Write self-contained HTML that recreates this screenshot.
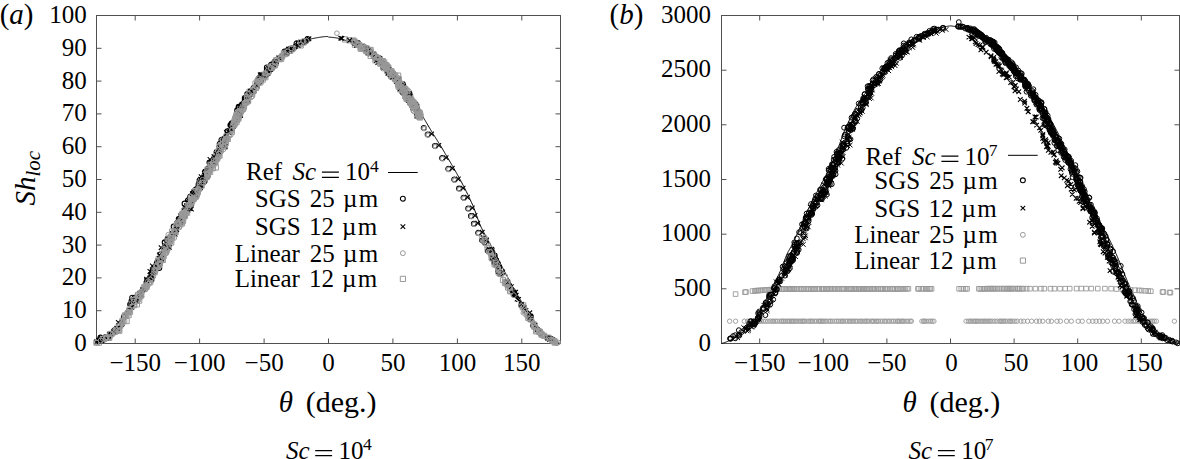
<!DOCTYPE html>
<html><head><meta charset="utf-8"><style>
html,body{margin:0;padding:0;background:#fff;width:1180px;height:459px;overflow:hidden}
svg{display:block}
text{font-family:'Liberation Serif', serif;font-size:25px;fill:#000}
.it{font-style:italic}
</style></head><body>
<svg width="1180" height="459" viewBox="0 0 1180 459">
<path d="M135.2 343.5V338.5M135.2 15.5V20.5M199.6 343.5V338.5M199.6 15.5V20.5M264.1 343.5V338.5M264.1 15.5V20.5M328.5 343.5V338.5M328.5 15.5V20.5M392.9 343.5V338.5M392.9 15.5V20.5M457.4 343.5V338.5M457.4 15.5V20.5M521.8 343.5V338.5M521.8 15.5V20.5M96.5 343.5H101.5M560.5 343.5H555.5M96.5 310.7H101.5M560.5 310.7H555.5M96.5 277.9H101.5M560.5 277.9H555.5M96.5 245.1H101.5M560.5 245.1H555.5M96.5 212.3H101.5M560.5 212.3H555.5M96.5 179.5H101.5M560.5 179.5H555.5M96.5 146.7H101.5M560.5 146.7H555.5M96.5 113.9H101.5M560.5 113.9H555.5M96.5 81.1H101.5M560.5 81.1H555.5M96.5 48.3H101.5M560.5 48.3H555.5M96.5 15.5H101.5M560.5 15.5H555.5" stroke="#505050" stroke-width="1" fill="none"/>
<rect x="96.5" y="15.5" width="464.0" height="328.0" stroke="#505050" stroke-width="1" fill="none"/>
<text x="86.8" y="350.9" text-anchor="end">0</text>
<text x="86.8" y="318.1" text-anchor="end">10</text>
<text x="86.8" y="285.3" text-anchor="end">20</text>
<text x="86.8" y="252.5" text-anchor="end">30</text>
<text x="86.8" y="219.7" text-anchor="end">40</text>
<text x="86.8" y="186.9" text-anchor="end">50</text>
<text x="86.8" y="154.1" text-anchor="end">60</text>
<text x="86.8" y="121.3" text-anchor="end">70</text>
<text x="86.8" y="88.5" text-anchor="end">80</text>
<text x="86.8" y="55.7" text-anchor="end">90</text>
<text x="86.8" y="22.9" text-anchor="end">100</text>
<text x="135.2" y="370.6" text-anchor="middle">−150</text>
<text x="199.6" y="370.6" text-anchor="middle">−100</text>
<text x="264.1" y="370.6" text-anchor="middle">−50</text>
<text x="328.5" y="370.6" text-anchor="middle">0</text>
<text x="392.9" y="370.6" text-anchor="middle">50</text>
<text x="457.4" y="370.6" text-anchor="middle">100</text>
<text x="521.8" y="370.6" text-anchor="middle">150</text>
<polyline points="96.50,343.50 97.14,343.10 97.79,342.71 98.43,342.31 99.08,341.91 99.72,341.52 100.37,341.11 101.01,340.71 101.66,340.32 102.30,339.93 102.94,339.56 103.59,339.19 104.23,338.83 104.88,338.48 105.52,338.13 106.17,337.77 106.81,337.42 107.46,337.06 108.10,336.70 108.74,336.33 109.39,335.94 110.03,335.55 110.68,335.14 111.32,334.72 111.97,334.28 112.61,333.82 113.26,333.33 113.90,332.83 114.54,332.29 115.19,331.73 115.83,331.13 116.48,330.45 117.12,329.69 117.77,328.87 118.41,327.98 119.06,327.04 119.70,326.05 120.34,325.01 120.99,323.94 121.63,322.84 122.28,321.72 122.92,320.58 123.57,319.42 124.21,318.27 124.86,317.12 125.50,315.98 126.14,314.85 126.79,313.75 127.43,312.67 128.08,311.63 128.72,310.63 129.37,309.65 130.01,308.67 130.66,307.71 131.30,306.75 131.94,305.80 132.59,304.85 133.23,303.91 133.88,302.98 134.52,302.05 135.17,301.12 135.81,300.19 136.46,299.26 137.10,298.34 137.74,297.41 138.39,296.49 139.03,295.56 139.68,294.63 140.32,293.69 140.97,292.75 141.61,291.81 142.26,290.86 142.90,289.90 143.54,288.93 144.19,287.96 144.83,286.97 145.48,285.98 146.12,284.97 146.77,283.96 147.41,282.93 148.06,281.89 148.70,280.83 149.34,279.76 149.99,278.67 150.63,277.56 151.28,276.43 151.92,275.28 152.57,274.10 153.21,272.90 153.86,271.69 154.50,270.45 155.14,269.21 155.79,267.94 156.43,266.66 157.08,265.37 157.72,264.07 158.37,262.77 159.01,261.45 159.66,260.13 160.30,258.80 160.94,257.47 161.59,256.14 162.23,254.81 162.88,253.48 163.52,252.16 164.17,250.83 164.81,249.52 165.46,248.21 166.10,246.91 166.74,245.62 167.39,244.34 168.03,243.07 168.68,241.82 169.32,240.58 169.97,239.37 170.61,238.15 171.26,236.94 171.90,235.73 172.54,234.53 173.19,233.33 173.83,232.13 174.48,230.93 175.12,229.74 175.77,228.55 176.41,227.36 177.06,226.17 177.70,224.99 178.34,223.81 178.99,222.63 179.63,221.45 180.28,220.28 180.92,219.11 181.57,217.94 182.21,216.77 182.86,215.61 183.50,214.45 184.14,213.29 184.79,212.13 185.43,210.97 186.08,209.82 186.72,208.66 187.37,207.51 188.01,206.37 188.66,205.22 189.30,204.07 189.94,202.93 190.59,201.79 191.23,200.65 191.88,199.51 192.52,198.38 193.17,197.24 193.81,196.11 194.46,194.98 195.10,193.85 195.74,192.72 196.39,191.59 197.03,190.46 197.68,189.34 198.32,188.21 198.97,187.09 199.61,185.97 200.26,184.85 200.90,183.73 201.54,182.61 202.19,181.50 202.83,180.38 203.48,179.27 204.12,178.17 204.77,177.08 205.41,176.00 206.06,174.92 206.70,173.86 207.34,172.79 207.99,171.73 208.63,170.67 209.28,169.60 209.92,168.53 210.57,167.46 211.21,166.38 211.86,165.30 212.50,164.20 213.14,163.09 213.79,161.97 214.43,160.84 215.08,159.69 215.72,158.52 216.37,157.33 217.01,156.14 217.66,154.93 218.30,153.71 218.94,152.48 219.59,151.24 220.23,149.99 220.88,148.74 221.52,147.49 222.17,146.23 222.81,144.96 223.46,143.70 224.10,142.44 224.74,141.18 225.39,139.93 226.03,138.67 226.68,137.43 227.32,136.19 227.97,134.96 228.61,133.74 229.26,132.52 229.90,131.30 230.54,130.07 231.19,128.84 231.83,127.60 232.48,126.35 233.12,125.11 233.77,123.86 234.41,122.61 235.06,121.35 235.70,120.10 236.34,118.85 236.99,117.61 237.63,116.37 238.28,115.13 238.92,113.90 239.57,112.68 240.21,111.47 240.86,110.27 241.50,109.07 242.14,107.89 242.79,106.73 243.43,105.57 244.08,104.43 244.72,103.31 245.37,102.20 246.01,101.12 246.66,100.05 247.30,99.00 247.94,97.98 248.59,96.97 249.23,95.98 249.88,95.00 250.52,94.02 251.17,93.05 251.81,92.09 252.46,91.14 253.10,90.19 253.74,89.26 254.39,88.33 255.03,87.41 255.68,86.49 256.32,85.59 256.97,84.69 257.61,83.80 258.26,82.92 258.90,82.05 259.54,81.19 260.19,80.34 260.83,79.50 261.48,78.66 262.12,77.83 262.77,77.02 263.41,76.21 264.06,75.41 264.70,74.63 265.34,73.85 265.99,73.08 266.63,72.32 267.28,71.57 267.92,70.83 268.57,70.10 269.21,69.39 269.86,68.68 270.50,67.98 271.14,67.29 271.79,66.60 272.43,65.92 273.08,65.24 273.72,64.56 274.37,63.89 275.01,63.23 275.66,62.57 276.30,61.92 276.94,61.27 277.59,60.63 278.23,60.00 278.88,59.38 279.52,58.76 280.17,58.15 280.81,57.55 281.46,56.96 282.10,56.38 282.74,55.81 283.39,55.25 284.03,54.70 284.68,54.16 285.32,53.63 285.97,53.11 286.61,52.61 287.26,52.12 287.90,51.64 288.54,51.17 289.19,50.72 289.83,50.28 290.48,49.86 291.12,49.44 291.77,49.02 292.41,48.60 293.06,48.18 293.70,47.76 294.34,47.35 294.99,46.94 295.63,46.53 296.28,46.12 296.92,45.72 297.57,45.33 298.21,44.94 298.86,44.55 299.50,44.17 300.14,43.80 300.79,43.44 301.43,43.08 302.08,42.73 302.72,42.39 303.37,42.05 304.01,41.73 304.66,41.42 305.30,41.12 305.94,40.83 306.59,40.55 307.23,40.28 307.88,40.02 308.52,39.78 309.17,39.55 309.81,39.34 310.46,39.14 311.10,38.95 311.74,38.78 312.39,38.62 313.03,38.49 313.68,38.36 314.32,38.23 314.97,38.11 315.61,37.99 316.26,37.86 316.90,37.75 317.54,37.63 318.19,37.52 318.83,37.41 319.48,37.30 320.12,37.20 320.77,37.11 321.41,37.02 322.06,36.93 322.70,36.85 323.34,36.78 323.99,36.72 324.63,36.66 325.28,36.61 325.92,36.57 326.57,36.54 327.21,36.51 327.86,36.50 328.50,37.15 329.14,37.17 329.79,37.20 330.43,37.25 331.08,37.30 331.72,37.35 332.37,37.42 333.01,37.49 333.66,37.56 334.30,37.64 334.94,37.72 335.59,37.80 336.23,37.90 336.88,38.00 337.52,38.12 338.17,38.25 338.81,38.39 339.46,38.54 340.10,38.71 340.74,38.88 341.39,39.05 342.03,39.24 342.68,39.43 343.32,39.63 343.97,39.83 344.61,40.03 345.26,40.24 345.90,40.45 346.54,40.66 347.19,40.87 347.83,41.08 348.48,41.30 349.12,41.51 349.77,41.73 350.41,41.96 351.06,42.19 351.70,42.42 352.34,42.66 352.99,42.90 353.63,43.15 354.28,43.40 354.92,43.66 355.57,43.92 356.21,44.19 356.86,44.46 357.50,44.74 358.14,45.02 358.79,45.31 359.43,45.60 360.08,45.90 360.72,46.21 361.37,46.52 362.01,46.84 362.66,47.16 363.30,47.49 363.94,47.83 364.59,48.17 365.23,48.52 365.88,48.88 366.52,49.24 367.17,49.61 367.81,49.99 368.46,50.39 369.10,50.80 369.74,51.23 370.39,51.67 371.03,52.13 371.68,52.60 372.32,53.08 372.97,53.58 373.61,54.08 374.26,54.60 374.90,55.13 375.54,55.67 376.19,56.22 376.83,56.78 377.48,57.35 378.12,57.93 378.77,58.51 379.41,59.11 380.06,59.71 380.70,60.31 381.34,60.93 381.99,61.55 382.63,62.17 383.28,62.80 383.92,63.44 384.57,64.08 385.21,64.72 385.86,65.36 386.50,66.01 387.14,66.67 387.79,67.34 388.43,68.02 389.08,68.71 389.72,69.41 390.37,70.13 391.01,70.85 391.66,71.59 392.30,72.33 392.94,73.09 393.59,73.86 394.23,74.63 394.88,75.42 395.52,76.21 396.17,77.01 396.81,77.82 397.46,78.64 398.10,79.47 398.74,80.30 399.39,81.14 400.03,81.99 400.68,82.84 401.32,83.70 401.97,84.57 402.61,85.44 403.26,86.32 403.90,87.20 404.54,88.09 405.19,88.98 405.83,89.87 406.48,90.77 407.12,91.67 407.77,92.58 408.41,93.49 409.06,94.42 409.70,95.36 410.34,96.32 410.99,97.29 411.63,98.26 412.28,99.25 412.92,100.25 413.57,101.26 414.21,102.28 414.86,103.31 415.50,104.35 416.14,105.40 416.79,106.45 417.43,107.51 418.08,108.57 418.72,109.64 419.37,110.72 420.01,111.80 420.66,112.88 421.30,113.97 421.94,115.06 422.59,116.16 423.23,117.25 423.88,118.35 424.52,119.44 425.17,120.54 425.81,121.64 426.46,122.73 427.10,123.83 427.74,124.92 428.39,126.01 429.03,127.10 429.68,128.18 430.32,129.26 430.97,130.33 431.61,131.40 432.26,132.46 432.90,133.52 433.54,134.56 434.19,135.60 434.83,136.64 435.48,137.67 436.12,138.69 436.77,139.71 437.41,140.73 438.06,141.75 438.70,142.78 439.34,143.81 439.99,144.85 440.63,145.89 441.28,146.95 441.92,148.02 442.57,149.10 443.21,150.20 443.86,151.30 444.50,152.40 445.14,153.50 445.79,154.60 446.43,155.69 447.08,156.79 447.72,157.88 448.37,158.98 449.01,160.07 449.66,161.17 450.30,162.27 450.94,163.37 451.59,164.48 452.23,165.58 452.88,166.69 453.52,167.81 454.17,168.93 454.81,170.06 455.46,171.19 456.10,172.32 456.74,173.47 457.39,174.62 458.03,175.78 458.68,176.94 459.32,178.12 459.97,179.30 460.61,180.49 461.26,181.69 461.90,182.90 462.54,184.13 463.19,185.36 463.83,186.61 464.48,187.86 465.12,189.13 465.77,190.42 466.41,191.71 467.06,193.02 467.70,194.35 468.34,195.69 468.99,197.04 469.63,198.41 470.28,199.80 470.92,201.20 471.57,202.62 472.21,204.06 472.86,205.51 473.50,207.00 474.14,208.59 474.79,210.30 475.43,212.08 476.08,213.92 476.72,215.78 477.37,217.64 478.01,219.47 478.66,221.24 479.30,222.93 479.94,224.50 480.59,225.95 481.23,227.35 481.88,228.70 482.52,230.01 483.17,231.28 483.81,232.52 484.46,233.74 485.10,234.93 485.74,236.10 486.39,237.25 487.03,238.40 487.68,239.53 488.32,240.67 488.97,241.80 489.61,242.94 490.26,244.09 490.90,245.25 491.54,246.44 492.19,247.64 492.83,248.85 493.48,250.07 494.12,251.30 494.77,252.52 495.41,253.76 496.06,254.99 496.70,256.23 497.34,257.48 497.99,258.72 498.63,259.97 499.28,261.21 499.92,262.46 500.57,263.71 501.21,264.96 501.86,266.20 502.50,267.45 503.14,268.69 503.79,269.94 504.43,271.18 505.08,272.41 505.72,273.65 506.37,274.88 507.01,276.10 507.66,277.32 508.30,278.54 508.94,279.75 509.59,280.95 510.23,282.15 510.88,283.34 511.52,284.52 512.17,285.69 512.81,286.86 513.46,288.02 514.10,289.16 514.74,290.30 515.39,291.43 516.03,292.54 516.68,293.65 517.32,294.74 517.97,295.82 518.61,296.91 519.26,298.00 519.90,299.09 520.54,300.17 521.19,301.26 521.83,302.34 522.48,303.42 523.12,304.50 523.77,305.57 524.41,306.64 525.06,307.70 525.70,308.75 526.34,309.80 526.99,310.83 527.63,311.86 528.28,312.88 528.92,313.89 529.57,314.88 530.21,315.87 530.86,316.84 531.50,317.80 532.14,318.74 532.79,319.67 533.43,320.58 534.08,321.47 534.72,322.35 535.37,323.21 536.01,324.05 536.66,324.87 537.30,325.67 537.94,326.44 538.59,327.21 539.23,327.97 539.88,328.73 540.52,329.49 541.17,330.23 541.81,330.97 542.46,331.69 543.10,332.40 543.74,333.09 544.39,333.77 545.03,334.43 545.68,335.06 546.32,335.67 546.97,336.26 547.61,336.82 548.26,337.35 548.90,337.85 549.54,338.31 550.19,338.75 550.83,339.15 551.48,339.54 552.12,339.92 552.77,340.29 553.41,340.65 554.06,341.00 554.70,341.33 555.34,341.65 555.99,341.95 556.63,342.23 557.28,342.50 557.92,342.75 558.57,342.97 559.21,343.17 559.86,343.35 560.50,343.50" fill="none" stroke="#000" stroke-width="1.0"/>
<path d="M242.3 98.0a2.45 2.45 0 1 0 4.9 0a2.45 2.45 0 1 0 -4.9 0M173.0 230.0a2.45 2.45 0 1 0 4.9 0a2.45 2.45 0 1 0 -4.9 0M196.1 184.2a2.45 2.45 0 1 0 4.9 0a2.45 2.45 0 1 0 -4.9 0M302.5 41.5a2.45 2.45 0 1 0 4.9 0a2.45 2.45 0 1 0 -4.9 0M219.0 139.8a2.45 2.45 0 1 0 4.9 0a2.45 2.45 0 1 0 -4.9 0M288.6 48.5a2.45 2.45 0 1 0 4.9 0a2.45 2.45 0 1 0 -4.9 0M185.4 200.3a2.45 2.45 0 1 0 4.9 0a2.45 2.45 0 1 0 -4.9 0M97.7 339.8a2.45 2.45 0 1 0 4.9 0a2.45 2.45 0 1 0 -4.9 0M126.5 310.7a2.45 2.45 0 1 0 4.9 0a2.45 2.45 0 1 0 -4.9 0M282.1 51.6a2.45 2.45 0 1 0 4.9 0a2.45 2.45 0 1 0 -4.9 0M175.4 225.1a2.45 2.45 0 1 0 4.9 0a2.45 2.45 0 1 0 -4.9 0M194.6 188.8a2.45 2.45 0 1 0 4.9 0a2.45 2.45 0 1 0 -4.9 0M162.2 242.3a2.45 2.45 0 1 0 4.9 0a2.45 2.45 0 1 0 -4.9 0M247.5 94.7a2.45 2.45 0 1 0 4.9 0a2.45 2.45 0 1 0 -4.9 0M215.6 152.2a2.45 2.45 0 1 0 4.9 0a2.45 2.45 0 1 0 -4.9 0M140.7 289.8a2.45 2.45 0 1 0 4.9 0a2.45 2.45 0 1 0 -4.9 0M265.4 73.4a2.45 2.45 0 1 0 4.9 0a2.45 2.45 0 1 0 -4.9 0M197.1 180.1a2.45 2.45 0 1 0 4.9 0a2.45 2.45 0 1 0 -4.9 0M156.7 264.6a2.45 2.45 0 1 0 4.9 0a2.45 2.45 0 1 0 -4.9 0M96.0 340.4a2.45 2.45 0 1 0 4.9 0a2.45 2.45 0 1 0 -4.9 0M223.5 137.0a2.45 2.45 0 1 0 4.9 0a2.45 2.45 0 1 0 -4.9 0M146.4 279.3a2.45 2.45 0 1 0 4.9 0a2.45 2.45 0 1 0 -4.9 0M121.4 317.0a2.45 2.45 0 1 0 4.9 0a2.45 2.45 0 1 0 -4.9 0M161.7 249.0a2.45 2.45 0 1 0 4.9 0a2.45 2.45 0 1 0 -4.9 0M186.5 201.4a2.45 2.45 0 1 0 4.9 0a2.45 2.45 0 1 0 -4.9 0M212.6 160.9a2.45 2.45 0 1 0 4.9 0a2.45 2.45 0 1 0 -4.9 0M134.2 298.7a2.45 2.45 0 1 0 4.9 0a2.45 2.45 0 1 0 -4.9 0M229.2 123.2a2.45 2.45 0 1 0 4.9 0a2.45 2.45 0 1 0 -4.9 0M280.0 55.9a2.45 2.45 0 1 0 4.9 0a2.45 2.45 0 1 0 -4.9 0M289.5 49.3a2.45 2.45 0 1 0 4.9 0a2.45 2.45 0 1 0 -4.9 0M228.9 125.4a2.45 2.45 0 1 0 4.9 0a2.45 2.45 0 1 0 -4.9 0M193.1 189.5a2.45 2.45 0 1 0 4.9 0a2.45 2.45 0 1 0 -4.9 0M255.8 83.2a2.45 2.45 0 1 0 4.9 0a2.45 2.45 0 1 0 -4.9 0M98.0 337.6a2.45 2.45 0 1 0 4.9 0a2.45 2.45 0 1 0 -4.9 0M278.3 57.5a2.45 2.45 0 1 0 4.9 0a2.45 2.45 0 1 0 -4.9 0M264.3 70.6a2.45 2.45 0 1 0 4.9 0a2.45 2.45 0 1 0 -4.9 0M185.7 205.0a2.45 2.45 0 1 0 4.9 0a2.45 2.45 0 1 0 -4.9 0M234.2 116.1a2.45 2.45 0 1 0 4.9 0a2.45 2.45 0 1 0 -4.9 0M205.1 176.4a2.45 2.45 0 1 0 4.9 0a2.45 2.45 0 1 0 -4.9 0M165.9 240.5a2.45 2.45 0 1 0 4.9 0a2.45 2.45 0 1 0 -4.9 0M231.0 126.1a2.45 2.45 0 1 0 4.9 0a2.45 2.45 0 1 0 -4.9 0M303.9 40.7a2.45 2.45 0 1 0 4.9 0a2.45 2.45 0 1 0 -4.9 0M268.7 64.7a2.45 2.45 0 1 0 4.9 0a2.45 2.45 0 1 0 -4.9 0M239.9 104.0a2.45 2.45 0 1 0 4.9 0a2.45 2.45 0 1 0 -4.9 0M182.3 215.0a2.45 2.45 0 1 0 4.9 0a2.45 2.45 0 1 0 -4.9 0M259.6 75.6a2.45 2.45 0 1 0 4.9 0a2.45 2.45 0 1 0 -4.9 0M235.6 113.9a2.45 2.45 0 1 0 4.9 0a2.45 2.45 0 1 0 -4.9 0M214.3 157.6a2.45 2.45 0 1 0 4.9 0a2.45 2.45 0 1 0 -4.9 0M294.1 43.3a2.45 2.45 0 1 0 4.9 0a2.45 2.45 0 1 0 -4.9 0M240.0 105.1a2.45 2.45 0 1 0 4.9 0a2.45 2.45 0 1 0 -4.9 0M129.0 300.9a2.45 2.45 0 1 0 4.9 0a2.45 2.45 0 1 0 -4.9 0M197.2 181.2a2.45 2.45 0 1 0 4.9 0a2.45 2.45 0 1 0 -4.9 0M195.6 187.0a2.45 2.45 0 1 0 4.9 0a2.45 2.45 0 1 0 -4.9 0M202.1 181.2a2.45 2.45 0 1 0 4.9 0a2.45 2.45 0 1 0 -4.9 0M256.8 78.1a2.45 2.45 0 1 0 4.9 0a2.45 2.45 0 1 0 -4.9 0M196.5 182.9a2.45 2.45 0 1 0 4.9 0a2.45 2.45 0 1 0 -4.9 0M242.3 100.1a2.45 2.45 0 1 0 4.9 0a2.45 2.45 0 1 0 -4.9 0M268.8 69.0a2.45 2.45 0 1 0 4.9 0a2.45 2.45 0 1 0 -4.9 0M234.7 110.3a2.45 2.45 0 1 0 4.9 0a2.45 2.45 0 1 0 -4.9 0M105.2 337.4a2.45 2.45 0 1 0 4.9 0a2.45 2.45 0 1 0 -4.9 0M105.9 337.2a2.45 2.45 0 1 0 4.9 0a2.45 2.45 0 1 0 -4.9 0M264.4 67.5a2.45 2.45 0 1 0 4.9 0a2.45 2.45 0 1 0 -4.9 0M272.3 62.0a2.45 2.45 0 1 0 4.9 0a2.45 2.45 0 1 0 -4.9 0M178.4 219.0a2.45 2.45 0 1 0 4.9 0a2.45 2.45 0 1 0 -4.9 0M128.3 304.7a2.45 2.45 0 1 0 4.9 0a2.45 2.45 0 1 0 -4.9 0M172.9 230.8a2.45 2.45 0 1 0 4.9 0a2.45 2.45 0 1 0 -4.9 0M148.9 273.6a2.45 2.45 0 1 0 4.9 0a2.45 2.45 0 1 0 -4.9 0M244.9 101.2a2.45 2.45 0 1 0 4.9 0a2.45 2.45 0 1 0 -4.9 0M101.0 339.3a2.45 2.45 0 1 0 4.9 0a2.45 2.45 0 1 0 -4.9 0M155.2 262.5a2.45 2.45 0 1 0 4.9 0a2.45 2.45 0 1 0 -4.9 0M289.0 49.0a2.45 2.45 0 1 0 4.9 0a2.45 2.45 0 1 0 -4.9 0M236.0 108.2a2.45 2.45 0 1 0 4.9 0a2.45 2.45 0 1 0 -4.9 0M285.9 49.6a2.45 2.45 0 1 0 4.9 0a2.45 2.45 0 1 0 -4.9 0M199.1 180.6a2.45 2.45 0 1 0 4.9 0a2.45 2.45 0 1 0 -4.9 0M217.2 143.8a2.45 2.45 0 1 0 4.9 0a2.45 2.45 0 1 0 -4.9 0M132.6 300.1a2.45 2.45 0 1 0 4.9 0a2.45 2.45 0 1 0 -4.9 0M263.2 75.5a2.45 2.45 0 1 0 4.9 0a2.45 2.45 0 1 0 -4.9 0M264.2 72.5a2.45 2.45 0 1 0 4.9 0a2.45 2.45 0 1 0 -4.9 0M260.8 77.6a2.45 2.45 0 1 0 4.9 0a2.45 2.45 0 1 0 -4.9 0M237.7 109.6a2.45 2.45 0 1 0 4.9 0a2.45 2.45 0 1 0 -4.9 0M187.6 202.7a2.45 2.45 0 1 0 4.9 0a2.45 2.45 0 1 0 -4.9 0M223.3 138.1a2.45 2.45 0 1 0 4.9 0a2.45 2.45 0 1 0 -4.9 0M203.9 171.3a2.45 2.45 0 1 0 4.9 0a2.45 2.45 0 1 0 -4.9 0M201.1 179.4a2.45 2.45 0 1 0 4.9 0a2.45 2.45 0 1 0 -4.9 0M217.0 146.6a2.45 2.45 0 1 0 4.9 0a2.45 2.45 0 1 0 -4.9 0M154.4 262.7a2.45 2.45 0 1 0 4.9 0a2.45 2.45 0 1 0 -4.9 0M243.4 98.8a2.45 2.45 0 1 0 4.9 0a2.45 2.45 0 1 0 -4.9 0M194.0 191.8a2.45 2.45 0 1 0 4.9 0a2.45 2.45 0 1 0 -4.9 0M262.4 74.6a2.45 2.45 0 1 0 4.9 0a2.45 2.45 0 1 0 -4.9 0M144.1 282.1a2.45 2.45 0 1 0 4.9 0a2.45 2.45 0 1 0 -4.9 0M193.6 194.3a2.45 2.45 0 1 0 4.9 0a2.45 2.45 0 1 0 -4.9 0M112.1 330.2a2.45 2.45 0 1 0 4.9 0a2.45 2.45 0 1 0 -4.9 0M178.9 214.4a2.45 2.45 0 1 0 4.9 0a2.45 2.45 0 1 0 -4.9 0M202.1 175.1a2.45 2.45 0 1 0 4.9 0a2.45 2.45 0 1 0 -4.9 0M214.1 151.9a2.45 2.45 0 1 0 4.9 0a2.45 2.45 0 1 0 -4.9 0M207.0 162.4a2.45 2.45 0 1 0 4.9 0a2.45 2.45 0 1 0 -4.9 0M107.2 335.5a2.45 2.45 0 1 0 4.9 0a2.45 2.45 0 1 0 -4.9 0M190.4 193.4a2.45 2.45 0 1 0 4.9 0a2.45 2.45 0 1 0 -4.9 0M127.7 304.5a2.45 2.45 0 1 0 4.9 0a2.45 2.45 0 1 0 -4.9 0M169.4 233.9a2.45 2.45 0 1 0 4.9 0a2.45 2.45 0 1 0 -4.9 0M228.7 128.6a2.45 2.45 0 1 0 4.9 0a2.45 2.45 0 1 0 -4.9 0M202.8 176.4a2.45 2.45 0 1 0 4.9 0a2.45 2.45 0 1 0 -4.9 0M272.9 61.7a2.45 2.45 0 1 0 4.9 0a2.45 2.45 0 1 0 -4.9 0M155.9 261.3a2.45 2.45 0 1 0 4.9 0a2.45 2.45 0 1 0 -4.9 0M192.2 191.3a2.45 2.45 0 1 0 4.9 0a2.45 2.45 0 1 0 -4.9 0M176.3 219.0a2.45 2.45 0 1 0 4.9 0a2.45 2.45 0 1 0 -4.9 0M258.4 80.8a2.45 2.45 0 1 0 4.9 0a2.45 2.45 0 1 0 -4.9 0M221.6 138.8a2.45 2.45 0 1 0 4.9 0a2.45 2.45 0 1 0 -4.9 0M132.1 297.8a2.45 2.45 0 1 0 4.9 0a2.45 2.45 0 1 0 -4.9 0M192.2 197.7a2.45 2.45 0 1 0 4.9 0a2.45 2.45 0 1 0 -4.9 0M296.1 43.8a2.45 2.45 0 1 0 4.9 0a2.45 2.45 0 1 0 -4.9 0M162.8 245.8a2.45 2.45 0 1 0 4.9 0a2.45 2.45 0 1 0 -4.9 0M178.0 223.2a2.45 2.45 0 1 0 4.9 0a2.45 2.45 0 1 0 -4.9 0M215.4 152.5a2.45 2.45 0 1 0 4.9 0a2.45 2.45 0 1 0 -4.9 0M192.7 190.9a2.45 2.45 0 1 0 4.9 0a2.45 2.45 0 1 0 -4.9 0M255.7 80.1a2.45 2.45 0 1 0 4.9 0a2.45 2.45 0 1 0 -4.9 0M199.2 180.7a2.45 2.45 0 1 0 4.9 0a2.45 2.45 0 1 0 -4.9 0M293.0 46.5a2.45 2.45 0 1 0 4.9 0a2.45 2.45 0 1 0 -4.9 0M244.7 94.0a2.45 2.45 0 1 0 4.9 0a2.45 2.45 0 1 0 -4.9 0M147.5 277.3a2.45 2.45 0 1 0 4.9 0a2.45 2.45 0 1 0 -4.9 0M205.7 170.7a2.45 2.45 0 1 0 4.9 0a2.45 2.45 0 1 0 -4.9 0M236.2 106.8a2.45 2.45 0 1 0 4.9 0a2.45 2.45 0 1 0 -4.9 0M258.6 75.1a2.45 2.45 0 1 0 4.9 0a2.45 2.45 0 1 0 -4.9 0M152.8 266.2a2.45 2.45 0 1 0 4.9 0a2.45 2.45 0 1 0 -4.9 0M108.0 334.5a2.45 2.45 0 1 0 4.9 0a2.45 2.45 0 1 0 -4.9 0M129.7 297.7a2.45 2.45 0 1 0 4.9 0a2.45 2.45 0 1 0 -4.9 0M207.3 168.8a2.45 2.45 0 1 0 4.9 0a2.45 2.45 0 1 0 -4.9 0M230.9 126.4a2.45 2.45 0 1 0 4.9 0a2.45 2.45 0 1 0 -4.9 0M239.2 105.1a2.45 2.45 0 1 0 4.9 0a2.45 2.45 0 1 0 -4.9 0M158.1 254.2a2.45 2.45 0 1 0 4.9 0a2.45 2.45 0 1 0 -4.9 0M225.0 131.3a2.45 2.45 0 1 0 4.9 0a2.45 2.45 0 1 0 -4.9 0M260.9 76.6a2.45 2.45 0 1 0 4.9 0a2.45 2.45 0 1 0 -4.9 0M254.5 84.3a2.45 2.45 0 1 0 4.9 0a2.45 2.45 0 1 0 -4.9 0M251.1 87.8a2.45 2.45 0 1 0 4.9 0a2.45 2.45 0 1 0 -4.9 0M246.6 93.2a2.45 2.45 0 1 0 4.9 0a2.45 2.45 0 1 0 -4.9 0M210.8 161.1a2.45 2.45 0 1 0 4.9 0a2.45 2.45 0 1 0 -4.9 0M305.1 39.0a2.45 2.45 0 1 0 4.9 0a2.45 2.45 0 1 0 -4.9 0M251.1 91.4a2.45 2.45 0 1 0 4.9 0a2.45 2.45 0 1 0 -4.9 0M182.1 203.6a2.45 2.45 0 1 0 4.9 0a2.45 2.45 0 1 0 -4.9 0M149.4 273.7a2.45 2.45 0 1 0 4.9 0a2.45 2.45 0 1 0 -4.9 0M228.0 124.8a2.45 2.45 0 1 0 4.9 0a2.45 2.45 0 1 0 -4.9 0M97.6 341.0a2.45 2.45 0 1 0 4.9 0a2.45 2.45 0 1 0 -4.9 0M155.0 262.2a2.45 2.45 0 1 0 4.9 0a2.45 2.45 0 1 0 -4.9 0M206.1 172.3a2.45 2.45 0 1 0 4.9 0a2.45 2.45 0 1 0 -4.9 0M186.5 203.0a2.45 2.45 0 1 0 4.9 0a2.45 2.45 0 1 0 -4.9 0M164.8 243.4a2.45 2.45 0 1 0 4.9 0a2.45 2.45 0 1 0 -4.9 0M264.6 69.8a2.45 2.45 0 1 0 4.9 0a2.45 2.45 0 1 0 -4.9 0M193.7 193.0a2.45 2.45 0 1 0 4.9 0a2.45 2.45 0 1 0 -4.9 0M177.1 219.9a2.45 2.45 0 1 0 4.9 0a2.45 2.45 0 1 0 -4.9 0M207.5 166.7a2.45 2.45 0 1 0 4.9 0a2.45 2.45 0 1 0 -4.9 0M202.4 171.8a2.45 2.45 0 1 0 4.9 0a2.45 2.45 0 1 0 -4.9 0M171.0 233.5a2.45 2.45 0 1 0 4.9 0a2.45 2.45 0 1 0 -4.9 0M156.8 267.9a2.45 2.45 0 1 0 4.9 0a2.45 2.45 0 1 0 -4.9 0M155.3 264.5a2.45 2.45 0 1 0 4.9 0a2.45 2.45 0 1 0 -4.9 0M205.6 168.4a2.45 2.45 0 1 0 4.9 0a2.45 2.45 0 1 0 -4.9 0M209.0 162.8a2.45 2.45 0 1 0 4.9 0a2.45 2.45 0 1 0 -4.9 0M148.9 280.2a2.45 2.45 0 1 0 4.9 0a2.45 2.45 0 1 0 -4.9 0M171.2 226.6a2.45 2.45 0 1 0 4.9 0a2.45 2.45 0 1 0 -4.9 0M282.3 52.1a2.45 2.45 0 1 0 4.9 0a2.45 2.45 0 1 0 -4.9 0M150.1 270.6a2.45 2.45 0 1 0 4.9 0a2.45 2.45 0 1 0 -4.9 0M187.7 196.6a2.45 2.45 0 1 0 4.9 0a2.45 2.45 0 1 0 -4.9 0M165.2 238.8a2.45 2.45 0 1 0 4.9 0a2.45 2.45 0 1 0 -4.9 0M164.7 240.3a2.45 2.45 0 1 0 4.9 0a2.45 2.45 0 1 0 -4.9 0M201.7 176.8a2.45 2.45 0 1 0 4.9 0a2.45 2.45 0 1 0 -4.9 0M211.9 157.8a2.45 2.45 0 1 0 4.9 0a2.45 2.45 0 1 0 -4.9 0M119.4 324.2a2.45 2.45 0 1 0 4.9 0a2.45 2.45 0 1 0 -4.9 0M216.1 150.6a2.45 2.45 0 1 0 4.9 0a2.45 2.45 0 1 0 -4.9 0M103.4 336.9a2.45 2.45 0 1 0 4.9 0a2.45 2.45 0 1 0 -4.9 0M133.8 298.1a2.45 2.45 0 1 0 4.9 0a2.45 2.45 0 1 0 -4.9 0M208.9 165.5a2.45 2.45 0 1 0 4.9 0a2.45 2.45 0 1 0 -4.9 0M389.0 75.6a2.45 2.45 0 1 0 4.9 0a2.45 2.45 0 1 0 -4.9 0M360.4 47.2a2.45 2.45 0 1 0 4.9 0a2.45 2.45 0 1 0 -4.9 0M400.2 88.7a2.45 2.45 0 1 0 4.9 0a2.45 2.45 0 1 0 -4.9 0M388.4 71.6a2.45 2.45 0 1 0 4.9 0a2.45 2.45 0 1 0 -4.9 0M368.3 52.7a2.45 2.45 0 1 0 4.9 0a2.45 2.45 0 1 0 -4.9 0M364.2 50.0a2.45 2.45 0 1 0 4.9 0a2.45 2.45 0 1 0 -4.9 0M394.6 80.9a2.45 2.45 0 1 0 4.9 0a2.45 2.45 0 1 0 -4.9 0M372.4 56.3a2.45 2.45 0 1 0 4.9 0a2.45 2.45 0 1 0 -4.9 0M351.3 41.6a2.45 2.45 0 1 0 4.9 0a2.45 2.45 0 1 0 -4.9 0M374.5 58.0a2.45 2.45 0 1 0 4.9 0a2.45 2.45 0 1 0 -4.9 0M409.8 106.0a2.45 2.45 0 1 0 4.9 0a2.45 2.45 0 1 0 -4.9 0M407.4 102.8a2.45 2.45 0 1 0 4.9 0a2.45 2.45 0 1 0 -4.9 0M400.0 92.3a2.45 2.45 0 1 0 4.9 0a2.45 2.45 0 1 0 -4.9 0M398.6 87.5a2.45 2.45 0 1 0 4.9 0a2.45 2.45 0 1 0 -4.9 0M401.0 92.9a2.45 2.45 0 1 0 4.9 0a2.45 2.45 0 1 0 -4.9 0M376.0 60.8a2.45 2.45 0 1 0 4.9 0a2.45 2.45 0 1 0 -4.9 0M397.8 84.2a2.45 2.45 0 1 0 4.9 0a2.45 2.45 0 1 0 -4.9 0M407.0 94.0a2.45 2.45 0 1 0 4.9 0a2.45 2.45 0 1 0 -4.9 0M386.5 70.5a2.45 2.45 0 1 0 4.9 0a2.45 2.45 0 1 0 -4.9 0M377.6 58.5a2.45 2.45 0 1 0 4.9 0a2.45 2.45 0 1 0 -4.9 0M371.7 56.1a2.45 2.45 0 1 0 4.9 0a2.45 2.45 0 1 0 -4.9 0M373.9 57.3a2.45 2.45 0 1 0 4.9 0a2.45 2.45 0 1 0 -4.9 0M375.8 60.2a2.45 2.45 0 1 0 4.9 0a2.45 2.45 0 1 0 -4.9 0M386.3 71.4a2.45 2.45 0 1 0 4.9 0a2.45 2.45 0 1 0 -4.9 0M378.5 60.3a2.45 2.45 0 1 0 4.9 0a2.45 2.45 0 1 0 -4.9 0M374.1 59.7a2.45 2.45 0 1 0 4.9 0a2.45 2.45 0 1 0 -4.9 0M414.8 109.8a2.45 2.45 0 1 0 4.9 0a2.45 2.45 0 1 0 -4.9 0M413.4 104.5a2.45 2.45 0 1 0 4.9 0a2.45 2.45 0 1 0 -4.9 0M400.3 84.1a2.45 2.45 0 1 0 4.9 0a2.45 2.45 0 1 0 -4.9 0M409.7 101.7a2.45 2.45 0 1 0 4.9 0a2.45 2.45 0 1 0 -4.9 0M402.4 91.2a2.45 2.45 0 1 0 4.9 0a2.45 2.45 0 1 0 -4.9 0M377.8 59.9a2.45 2.45 0 1 0 4.9 0a2.45 2.45 0 1 0 -4.9 0M385.2 71.4a2.45 2.45 0 1 0 4.9 0a2.45 2.45 0 1 0 -4.9 0M406.1 98.5a2.45 2.45 0 1 0 4.9 0a2.45 2.45 0 1 0 -4.9 0M387.1 70.7a2.45 2.45 0 1 0 4.9 0a2.45 2.45 0 1 0 -4.9 0M400.7 89.0a2.45 2.45 0 1 0 4.9 0a2.45 2.45 0 1 0 -4.9 0M416.1 116.1a2.45 2.45 0 1 0 4.9 0a2.45 2.45 0 1 0 -4.9 0M372.0 55.0a2.45 2.45 0 1 0 4.9 0a2.45 2.45 0 1 0 -4.9 0M395.6 82.6a2.45 2.45 0 1 0 4.9 0a2.45 2.45 0 1 0 -4.9 0M401.5 91.7a2.45 2.45 0 1 0 4.9 0a2.45 2.45 0 1 0 -4.9 0M361.8 47.2a2.45 2.45 0 1 0 4.9 0a2.45 2.45 0 1 0 -4.9 0M386.7 69.4a2.45 2.45 0 1 0 4.9 0a2.45 2.45 0 1 0 -4.9 0M390.1 73.0a2.45 2.45 0 1 0 4.9 0a2.45 2.45 0 1 0 -4.9 0M380.7 67.0a2.45 2.45 0 1 0 4.9 0a2.45 2.45 0 1 0 -4.9 0M384.7 70.2a2.45 2.45 0 1 0 4.9 0a2.45 2.45 0 1 0 -4.9 0M353.1 43.7a2.45 2.45 0 1 0 4.9 0a2.45 2.45 0 1 0 -4.9 0M407.2 98.2a2.45 2.45 0 1 0 4.9 0a2.45 2.45 0 1 0 -4.9 0M367.9 52.2a2.45 2.45 0 1 0 4.9 0a2.45 2.45 0 1 0 -4.9 0M381.9 64.6a2.45 2.45 0 1 0 4.9 0a2.45 2.45 0 1 0 -4.9 0M388.2 72.3a2.45 2.45 0 1 0 4.9 0a2.45 2.45 0 1 0 -4.9 0M414.1 107.7a2.45 2.45 0 1 0 4.9 0a2.45 2.45 0 1 0 -4.9 0M365.0 52.5a2.45 2.45 0 1 0 4.9 0a2.45 2.45 0 1 0 -4.9 0M413.3 108.3a2.45 2.45 0 1 0 4.9 0a2.45 2.45 0 1 0 -4.9 0M400.3 90.9a2.45 2.45 0 1 0 4.9 0a2.45 2.45 0 1 0 -4.9 0M399.1 87.2a2.45 2.45 0 1 0 4.9 0a2.45 2.45 0 1 0 -4.9 0M396.0 82.8a2.45 2.45 0 1 0 4.9 0a2.45 2.45 0 1 0 -4.9 0M395.4 82.4a2.45 2.45 0 1 0 4.9 0a2.45 2.45 0 1 0 -4.9 0M354.4 42.9a2.45 2.45 0 1 0 4.9 0a2.45 2.45 0 1 0 -4.9 0M355.6 43.1a2.45 2.45 0 1 0 4.9 0a2.45 2.45 0 1 0 -4.9 0M392.5 79.1a2.45 2.45 0 1 0 4.9 0a2.45 2.45 0 1 0 -4.9 0M528.4 317.4a2.45 2.45 0 1 0 4.9 0a2.45 2.45 0 1 0 -4.9 0M511.5 291.9a2.45 2.45 0 1 0 4.9 0a2.45 2.45 0 1 0 -4.9 0M545.1 338.3a2.45 2.45 0 1 0 4.9 0a2.45 2.45 0 1 0 -4.9 0M545.1 338.2a2.45 2.45 0 1 0 4.9 0a2.45 2.45 0 1 0 -4.9 0M496.6 267.6a2.45 2.45 0 1 0 4.9 0a2.45 2.45 0 1 0 -4.9 0M495.9 271.5a2.45 2.45 0 1 0 4.9 0a2.45 2.45 0 1 0 -4.9 0M506.9 286.1a2.45 2.45 0 1 0 4.9 0a2.45 2.45 0 1 0 -4.9 0M491.9 262.1a2.45 2.45 0 1 0 4.9 0a2.45 2.45 0 1 0 -4.9 0M492.2 255.5a2.45 2.45 0 1 0 4.9 0a2.45 2.45 0 1 0 -4.9 0M546.1 338.1a2.45 2.45 0 1 0 4.9 0a2.45 2.45 0 1 0 -4.9 0M494.8 265.4a2.45 2.45 0 1 0 4.9 0a2.45 2.45 0 1 0 -4.9 0M493.2 259.8a2.45 2.45 0 1 0 4.9 0a2.45 2.45 0 1 0 -4.9 0M497.7 273.5a2.45 2.45 0 1 0 4.9 0a2.45 2.45 0 1 0 -4.9 0M518.9 304.9a2.45 2.45 0 1 0 4.9 0a2.45 2.45 0 1 0 -4.9 0M505.3 283.7a2.45 2.45 0 1 0 4.9 0a2.45 2.45 0 1 0 -4.9 0M489.4 251.7a2.45 2.45 0 1 0 4.9 0a2.45 2.45 0 1 0 -4.9 0M535.4 329.9a2.45 2.45 0 1 0 4.9 0a2.45 2.45 0 1 0 -4.9 0M494.7 266.1a2.45 2.45 0 1 0 4.9 0a2.45 2.45 0 1 0 -4.9 0M489.9 252.5a2.45 2.45 0 1 0 4.9 0a2.45 2.45 0 1 0 -4.9 0M510.0 290.5a2.45 2.45 0 1 0 4.9 0a2.45 2.45 0 1 0 -4.9 0M530.8 325.8a2.45 2.45 0 1 0 4.9 0a2.45 2.45 0 1 0 -4.9 0M528.0 318.0a2.45 2.45 0 1 0 4.9 0a2.45 2.45 0 1 0 -4.9 0M490.3 257.9a2.45 2.45 0 1 0 4.9 0a2.45 2.45 0 1 0 -4.9 0M548.8 339.0a2.45 2.45 0 1 0 4.9 0a2.45 2.45 0 1 0 -4.9 0M511.1 294.1a2.45 2.45 0 1 0 4.9 0a2.45 2.45 0 1 0 -4.9 0M527.8 319.2a2.45 2.45 0 1 0 4.9 0a2.45 2.45 0 1 0 -4.9 0M504.4 281.9a2.45 2.45 0 1 0 4.9 0a2.45 2.45 0 1 0 -4.9 0M488.5 251.2a2.45 2.45 0 1 0 4.9 0a2.45 2.45 0 1 0 -4.9 0M526.8 317.6a2.45 2.45 0 1 0 4.9 0a2.45 2.45 0 1 0 -4.9 0M511.5 294.4a2.45 2.45 0 1 0 4.9 0a2.45 2.45 0 1 0 -4.9 0M528.4 316.5a2.45 2.45 0 1 0 4.9 0a2.45 2.45 0 1 0 -4.9 0M494.1 264.1a2.45 2.45 0 1 0 4.9 0a2.45 2.45 0 1 0 -4.9 0M538.0 333.1a2.45 2.45 0 1 0 4.9 0a2.45 2.45 0 1 0 -4.9 0M482.2 242.3a2.45 2.45 0 1 0 4.9 0a2.45 2.45 0 1 0 -4.9 0M492.1 260.8a2.45 2.45 0 1 0 4.9 0a2.45 2.45 0 1 0 -4.9 0" fill="none" stroke="#000" stroke-width="1.1"/>
<path d="M176.5 220.1h5.2v5.2h-5.2zM173.1 229.5h5.2v5.2h-5.2zM298.1 42.8h5.2v5.2h-5.2zM241.1 104.0h5.2v5.2h-5.2zM184.5 210.1h5.2v5.2h-5.2zM200.4 179.6h5.2v5.2h-5.2zM219.0 143.3h5.2v5.2h-5.2zM193.2 189.0h5.2v5.2h-5.2zM266.3 68.3h5.2v5.2h-5.2zM209.9 165.5h5.2v5.2h-5.2zM214.1 155.5h5.2v5.2h-5.2zM213.2 164.9h5.2v5.2h-5.2zM199.0 183.0h5.2v5.2h-5.2zM213.1 155.8h5.2v5.2h-5.2zM169.7 233.4h5.2v5.2h-5.2zM233.7 115.9h5.2v5.2h-5.2zM106.5 335.3h5.2v5.2h-5.2zM177.9 221.7h5.2v5.2h-5.2zM204.0 172.0h5.2v5.2h-5.2zM117.7 323.0h5.2v5.2h-5.2zM158.2 256.9h5.2v5.2h-5.2zM235.9 112.2h5.2v5.2h-5.2zM198.4 177.6h5.2v5.2h-5.2zM272.2 62.6h5.2v5.2h-5.2zM225.2 136.3h5.2v5.2h-5.2zM130.9 297.6h5.2v5.2h-5.2zM136.6 298.0h5.2v5.2h-5.2zM207.5 169.4h5.2v5.2h-5.2zM205.1 170.4h5.2v5.2h-5.2zM169.6 228.9h5.2v5.2h-5.2zM245.5 98.0h5.2v5.2h-5.2zM250.8 87.2h5.2v5.2h-5.2zM179.4 220.8h5.2v5.2h-5.2zM124.0 318.5h5.2v5.2h-5.2zM171.3 230.3h5.2v5.2h-5.2zM180.7 213.4h5.2v5.2h-5.2zM163.8 246.9h5.2v5.2h-5.2zM168.7 240.0h5.2v5.2h-5.2zM169.3 234.1h5.2v5.2h-5.2zM148.6 275.9h5.2v5.2h-5.2zM276.5 56.0h5.2v5.2h-5.2zM172.5 229.4h5.2v5.2h-5.2zM194.1 191.8h5.2v5.2h-5.2zM251.1 88.1h5.2v5.2h-5.2zM245.1 93.6h5.2v5.2h-5.2zM138.0 292.4h5.2v5.2h-5.2zM112.8 329.0h5.2v5.2h-5.2zM186.0 203.6h5.2v5.2h-5.2zM226.7 132.0h5.2v5.2h-5.2zM173.1 224.8h5.2v5.2h-5.2zM283.3 50.3h5.2v5.2h-5.2zM288.9 46.7h5.2v5.2h-5.2zM160.2 257.4h5.2v5.2h-5.2zM154.2 263.8h5.2v5.2h-5.2zM156.7 262.1h5.2v5.2h-5.2zM180.4 218.3h5.2v5.2h-5.2zM214.4 152.8h5.2v5.2h-5.2zM159.1 256.4h5.2v5.2h-5.2zM136.5 294.6h5.2v5.2h-5.2zM249.0 91.1h5.2v5.2h-5.2zM208.1 163.0h5.2v5.2h-5.2zM236.8 112.8h5.2v5.2h-5.2zM221.0 143.4h5.2v5.2h-5.2zM236.5 110.9h5.2v5.2h-5.2zM179.4 218.7h5.2v5.2h-5.2zM232.3 120.6h5.2v5.2h-5.2zM193.2 193.6h5.2v5.2h-5.2zM162.3 250.0h5.2v5.2h-5.2zM244.5 98.4h5.2v5.2h-5.2zM182.8 207.2h5.2v5.2h-5.2zM223.4 138.9h5.2v5.2h-5.2zM232.6 116.7h5.2v5.2h-5.2zM184.9 207.5h5.2v5.2h-5.2zM138.1 291.5h5.2v5.2h-5.2zM224.2 136.3h5.2v5.2h-5.2zM188.9 195.6h5.2v5.2h-5.2zM241.0 104.1h5.2v5.2h-5.2zM192.5 188.5h5.2v5.2h-5.2zM108.2 331.4h5.2v5.2h-5.2zM181.9 209.5h5.2v5.2h-5.2zM212.2 154.7h5.2v5.2h-5.2zM142.2 286.3h5.2v5.2h-5.2zM147.6 279.5h5.2v5.2h-5.2zM189.1 198.7h5.2v5.2h-5.2zM119.9 318.3h5.2v5.2h-5.2zM212.4 159.3h5.2v5.2h-5.2zM273.5 57.7h5.2v5.2h-5.2zM237.4 110.7h5.2v5.2h-5.2zM227.9 127.8h5.2v5.2h-5.2zM284.3 49.8h5.2v5.2h-5.2zM96.2 340.1h5.2v5.2h-5.2zM141.3 284.8h5.2v5.2h-5.2zM185.4 205.6h5.2v5.2h-5.2zM201.2 175.3h5.2v5.2h-5.2zM125.1 310.8h5.2v5.2h-5.2zM193.5 193.8h5.2v5.2h-5.2zM144.3 282.0h5.2v5.2h-5.2zM260.2 73.5h5.2v5.2h-5.2zM273.3 60.3h5.2v5.2h-5.2zM298.2 40.5h5.2v5.2h-5.2zM192.7 190.0h5.2v5.2h-5.2zM213.9 151.8h5.2v5.2h-5.2zM114.4 327.0h5.2v5.2h-5.2zM184.7 206.0h5.2v5.2h-5.2zM261.2 74.4h5.2v5.2h-5.2zM168.7 235.2h5.2v5.2h-5.2zM218.2 147.6h5.2v5.2h-5.2zM267.2 65.2h5.2v5.2h-5.2zM259.0 74.0h5.2v5.2h-5.2zM131.5 301.0h5.2v5.2h-5.2zM143.8 284.5h5.2v5.2h-5.2zM165.0 238.2h5.2v5.2h-5.2zM187.7 203.4h5.2v5.2h-5.2zM260.1 74.4h5.2v5.2h-5.2zM210.7 161.1h5.2v5.2h-5.2zM265.6 69.3h5.2v5.2h-5.2zM167.1 238.6h5.2v5.2h-5.2zM156.1 256.4h5.2v5.2h-5.2zM131.3 302.6h5.2v5.2h-5.2zM215.9 149.3h5.2v5.2h-5.2zM135.3 296.5h5.2v5.2h-5.2zM178.3 218.1h5.2v5.2h-5.2zM269.2 65.2h5.2v5.2h-5.2zM158.8 254.8h5.2v5.2h-5.2zM260.2 77.0h5.2v5.2h-5.2zM282.1 51.0h5.2v5.2h-5.2zM131.7 301.8h5.2v5.2h-5.2zM167.9 234.6h5.2v5.2h-5.2zM212.9 159.6h5.2v5.2h-5.2zM262.8 74.6h5.2v5.2h-5.2zM117.2 322.5h5.2v5.2h-5.2zM157.3 260.6h5.2v5.2h-5.2zM99.6 337.6h5.2v5.2h-5.2zM137.2 291.3h5.2v5.2h-5.2zM287.4 48.3h5.2v5.2h-5.2zM131.4 299.4h5.2v5.2h-5.2zM114.0 327.5h5.2v5.2h-5.2zM191.3 195.4h5.2v5.2h-5.2zM160.1 253.8h5.2v5.2h-5.2zM300.9 39.9h5.2v5.2h-5.2zM182.2 210.2h5.2v5.2h-5.2zM254.6 79.3h5.2v5.2h-5.2zM179.5 211.7h5.2v5.2h-5.2zM135.3 292.8h5.2v5.2h-5.2zM271.7 60.6h5.2v5.2h-5.2zM155.5 263.4h5.2v5.2h-5.2zM157.3 258.4h5.2v5.2h-5.2zM135.5 292.5h5.2v5.2h-5.2zM210.4 165.5h5.2v5.2h-5.2zM115.7 327.0h5.2v5.2h-5.2zM123.6 313.1h5.2v5.2h-5.2zM233.8 112.6h5.2v5.2h-5.2zM234.6 114.3h5.2v5.2h-5.2zM217.8 146.4h5.2v5.2h-5.2zM244.6 94.4h5.2v5.2h-5.2zM231.8 118.7h5.2v5.2h-5.2zM202.5 173.0h5.2v5.2h-5.2zM198.6 182.2h5.2v5.2h-5.2zM101.8 336.1h5.2v5.2h-5.2zM278.6 56.2h5.2v5.2h-5.2zM164.0 248.0h5.2v5.2h-5.2zM189.5 197.4h5.2v5.2h-5.2zM163.2 249.7h5.2v5.2h-5.2zM207.0 165.7h5.2v5.2h-5.2zM252.9 81.0h5.2v5.2h-5.2zM229.3 129.1h5.2v5.2h-5.2zM185.4 203.5h5.2v5.2h-5.2zM152.1 269.5h5.2v5.2h-5.2zM231.7 121.9h5.2v5.2h-5.2zM134.3 301.8h5.2v5.2h-5.2zM144.5 281.2h5.2v5.2h-5.2zM265.3 69.8h5.2v5.2h-5.2zM220.9 142.0h5.2v5.2h-5.2zM260.9 72.2h5.2v5.2h-5.2zM176.6 219.9h5.2v5.2h-5.2zM200.1 179.6h5.2v5.2h-5.2zM223.0 140.9h5.2v5.2h-5.2zM121.6 318.1h5.2v5.2h-5.2zM176.3 223.6h5.2v5.2h-5.2zM166.1 238.9h5.2v5.2h-5.2zM197.6 184.1h5.2v5.2h-5.2zM180.7 215.3h5.2v5.2h-5.2zM201.8 175.6h5.2v5.2h-5.2zM106.7 334.1h5.2v5.2h-5.2zM246.9 89.2h5.2v5.2h-5.2zM255.6 77.6h5.2v5.2h-5.2zM197.1 180.8h5.2v5.2h-5.2zM290.2 45.9h5.2v5.2h-5.2zM253.4 85.3h5.2v5.2h-5.2zM254.3 83.7h5.2v5.2h-5.2zM129.2 301.8h5.2v5.2h-5.2zM191.6 195.0h5.2v5.2h-5.2zM216.9 152.9h5.2v5.2h-5.2zM180.5 211.9h5.2v5.2h-5.2zM249.5 90.9h5.2v5.2h-5.2zM266.8 65.1h5.2v5.2h-5.2zM233.9 119.5h5.2v5.2h-5.2zM127.4 309.2h5.2v5.2h-5.2zM195.2 189.7h5.2v5.2h-5.2zM282.0 51.5h5.2v5.2h-5.2zM122.4 312.8h5.2v5.2h-5.2zM217.8 143.9h5.2v5.2h-5.2zM283.6 50.8h5.2v5.2h-5.2zM240.5 106.4h5.2v5.2h-5.2zM182.4 213.3h5.2v5.2h-5.2zM134.7 295.9h5.2v5.2h-5.2zM152.0 266.1h5.2v5.2h-5.2zM149.1 274.8h5.2v5.2h-5.2zM143.5 284.0h5.2v5.2h-5.2zM116.7 328.2h5.2v5.2h-5.2zM126.0 312.6h5.2v5.2h-5.2zM147.3 277.1h5.2v5.2h-5.2zM204.8 167.3h5.2v5.2h-5.2zM188.4 195.7h5.2v5.2h-5.2zM183.3 209.7h5.2v5.2h-5.2zM215.4 149.2h5.2v5.2h-5.2zM156.7 259.1h5.2v5.2h-5.2zM230.8 122.7h5.2v5.2h-5.2zM232.2 120.1h5.2v5.2h-5.2zM204.8 167.9h5.2v5.2h-5.2zM276.7 56.6h5.2v5.2h-5.2zM188.8 199.4h5.2v5.2h-5.2zM111.4 329.3h5.2v5.2h-5.2zM103.0 335.1h5.2v5.2h-5.2zM220.5 138.0h5.2v5.2h-5.2zM190.9 192.9h5.2v5.2h-5.2zM204.0 174.5h5.2v5.2h-5.2zM166.4 241.9h5.2v5.2h-5.2zM237.3 108.6h5.2v5.2h-5.2zM167.5 238.1h5.2v5.2h-5.2zM228.7 127.1h5.2v5.2h-5.2zM190.6 196.5h5.2v5.2h-5.2zM222.3 144.0h5.2v5.2h-5.2zM93.9 340.0h5.2v5.2h-5.2zM200.3 179.4h5.2v5.2h-5.2zM279.4 53.8h5.2v5.2h-5.2zM202.8 172.7h5.2v5.2h-5.2zM119.8 319.5h5.2v5.2h-5.2zM281.2 51.1h5.2v5.2h-5.2zM203.2 172.3h5.2v5.2h-5.2zM365.1 48.3h5.2v5.2h-5.2zM406.3 96.2h5.2v5.2h-5.2zM413.8 106.9h5.2v5.2h-5.2zM358.6 46.2h5.2v5.2h-5.2zM397.5 86.7h5.2v5.2h-5.2zM392.2 73.1h5.2v5.2h-5.2zM373.2 54.9h5.2v5.2h-5.2zM404.9 92.3h5.2v5.2h-5.2zM405.9 95.9h5.2v5.2h-5.2zM384.9 64.4h5.2v5.2h-5.2zM362.2 45.7h5.2v5.2h-5.2zM388.7 72.2h5.2v5.2h-5.2zM416.4 113.7h5.2v5.2h-5.2zM407.2 95.8h5.2v5.2h-5.2zM413.3 105.3h5.2v5.2h-5.2zM396.2 79.6h5.2v5.2h-5.2zM387.7 68.7h5.2v5.2h-5.2zM377.7 61.0h5.2v5.2h-5.2zM373.8 55.3h5.2v5.2h-5.2zM362.5 46.6h5.2v5.2h-5.2zM383.7 62.6h5.2v5.2h-5.2zM350.9 37.9h5.2v5.2h-5.2zM394.2 78.1h5.2v5.2h-5.2zM410.9 105.1h5.2v5.2h-5.2zM409.9 102.7h5.2v5.2h-5.2zM410.2 99.5h5.2v5.2h-5.2zM355.7 41.8h5.2v5.2h-5.2zM394.1 75.7h5.2v5.2h-5.2zM366.8 49.5h5.2v5.2h-5.2zM386.2 69.9h5.2v5.2h-5.2zM384.3 65.5h5.2v5.2h-5.2zM363.8 46.1h5.2v5.2h-5.2zM406.7 96.2h5.2v5.2h-5.2zM410.6 102.9h5.2v5.2h-5.2zM388.4 70.0h5.2v5.2h-5.2zM395.5 73.0h5.2v5.2h-5.2zM385.6 65.2h5.2v5.2h-5.2zM372.1 53.9h5.2v5.2h-5.2zM411.2 103.3h5.2v5.2h-5.2zM417.0 113.0h5.2v5.2h-5.2zM357.9 45.5h5.2v5.2h-5.2zM396.2 82.7h5.2v5.2h-5.2zM402.6 88.4h5.2v5.2h-5.2zM383.6 65.5h5.2v5.2h-5.2zM396.4 79.7h5.2v5.2h-5.2zM399.0 83.8h5.2v5.2h-5.2zM368.0 53.2h5.2v5.2h-5.2zM342.4 36.8h5.2v5.2h-5.2zM398.2 83.6h5.2v5.2h-5.2zM415.6 113.3h5.2v5.2h-5.2zM397.1 81.5h5.2v5.2h-5.2zM381.4 61.4h5.2v5.2h-5.2zM412.2 105.5h5.2v5.2h-5.2zM346.5 37.7h5.2v5.2h-5.2zM396.0 84.0h5.2v5.2h-5.2zM414.4 112.2h5.2v5.2h-5.2zM388.9 68.7h5.2v5.2h-5.2zM402.7 86.7h5.2v5.2h-5.2zM414.3 106.3h5.2v5.2h-5.2zM396.3 81.8h5.2v5.2h-5.2zM405.9 95.4h5.2v5.2h-5.2zM385.6 65.2h5.2v5.2h-5.2zM404.4 94.6h5.2v5.2h-5.2zM359.9 43.8h5.2v5.2h-5.2zM391.3 73.4h5.2v5.2h-5.2zM416.3 111.7h5.2v5.2h-5.2zM389.3 74.1h5.2v5.2h-5.2zM377.3 57.2h5.2v5.2h-5.2zM370.8 51.5h5.2v5.2h-5.2zM374.0 56.8h5.2v5.2h-5.2zM411.1 102.3h5.2v5.2h-5.2zM407.9 97.2h5.2v5.2h-5.2zM356.7 42.5h5.2v5.2h-5.2zM352.3 42.1h5.2v5.2h-5.2zM368.0 47.3h5.2v5.2h-5.2zM403.9 96.0h5.2v5.2h-5.2zM365.7 50.2h5.2v5.2h-5.2zM417.6 114.7h5.2v5.2h-5.2zM366.0 48.1h5.2v5.2h-5.2zM351.9 39.1h5.2v5.2h-5.2zM408.4 100.8h5.2v5.2h-5.2zM392.3 74.6h5.2v5.2h-5.2zM386.7 69.7h5.2v5.2h-5.2zM402.7 93.3h5.2v5.2h-5.2zM395.8 80.0h5.2v5.2h-5.2zM393.4 76.5h5.2v5.2h-5.2zM390.9 72.8h5.2v5.2h-5.2zM384.4 68.1h5.2v5.2h-5.2zM352.8 40.0h5.2v5.2h-5.2zM412.0 103.6h5.2v5.2h-5.2zM402.0 88.3h5.2v5.2h-5.2zM407.9 95.2h5.2v5.2h-5.2zM401.5 88.8h5.2v5.2h-5.2zM401.0 87.0h5.2v5.2h-5.2zM371.2 53.1h5.2v5.2h-5.2zM391.3 74.7h5.2v5.2h-5.2zM397.6 81.8h5.2v5.2h-5.2zM388.4 73.2h5.2v5.2h-5.2zM380.2 58.5h5.2v5.2h-5.2zM363.6 48.4h5.2v5.2h-5.2zM394.5 77.2h5.2v5.2h-5.2zM360.8 45.2h5.2v5.2h-5.2zM404.3 90.9h5.2v5.2h-5.2zM401.7 85.7h5.2v5.2h-5.2zM367.0 47.8h5.2v5.2h-5.2zM392.7 76.6h5.2v5.2h-5.2zM404.0 88.0h5.2v5.2h-5.2zM411.1 103.2h5.2v5.2h-5.2zM416.9 110.4h5.2v5.2h-5.2zM363.5 45.5h5.2v5.2h-5.2zM398.5 81.5h5.2v5.2h-5.2zM407.6 99.8h5.2v5.2h-5.2zM405.3 91.6h5.2v5.2h-5.2zM368.3 49.6h5.2v5.2h-5.2zM392.6 73.1h5.2v5.2h-5.2zM397.5 81.1h5.2v5.2h-5.2zM396.1 76.4h5.2v5.2h-5.2zM417.2 114.7h5.2v5.2h-5.2zM406.8 95.7h5.2v5.2h-5.2zM404.4 94.0h5.2v5.2h-5.2zM372.8 57.7h5.2v5.2h-5.2zM405.2 95.1h5.2v5.2h-5.2zM403.1 93.7h5.2v5.2h-5.2zM351.2 39.2h5.2v5.2h-5.2zM381.5 59.8h5.2v5.2h-5.2zM381.9 63.9h5.2v5.2h-5.2zM398.9 86.8h5.2v5.2h-5.2zM409.5 102.4h5.2v5.2h-5.2zM379.8 59.5h5.2v5.2h-5.2zM382.9 62.3h5.2v5.2h-5.2zM479.6 236.6h5.2v5.2h-5.2zM539.3 332.3h5.2v5.2h-5.2zM524.2 311.7h5.2v5.2h-5.2zM504.8 281.9h5.2v5.2h-5.2zM526.4 313.6h5.2v5.2h-5.2zM485.0 247.1h5.2v5.2h-5.2zM531.8 324.1h5.2v5.2h-5.2zM490.0 252.1h5.2v5.2h-5.2zM483.0 240.2h5.2v5.2h-5.2zM492.0 261.7h5.2v5.2h-5.2zM551.6 338.6h5.2v5.2h-5.2zM507.5 288.6h5.2v5.2h-5.2zM552.1 340.0h5.2v5.2h-5.2zM541.6 333.2h5.2v5.2h-5.2zM520.6 302.8h5.2v5.2h-5.2zM497.9 271.3h5.2v5.2h-5.2zM487.7 249.0h5.2v5.2h-5.2zM486.4 245.3h5.2v5.2h-5.2zM505.5 285.0h5.2v5.2h-5.2zM525.7 315.3h5.2v5.2h-5.2zM484.8 242.4h5.2v5.2h-5.2zM531.6 322.0h5.2v5.2h-5.2zM533.5 328.7h5.2v5.2h-5.2zM503.4 280.7h5.2v5.2h-5.2zM489.5 255.7h5.2v5.2h-5.2zM522.4 308.4h5.2v5.2h-5.2zM527.9 316.6h5.2v5.2h-5.2zM537.3 329.5h5.2v5.2h-5.2zM520.3 304.7h5.2v5.2h-5.2zM502.3 274.9h5.2v5.2h-5.2zM538.7 331.3h5.2v5.2h-5.2zM489.0 255.0h5.2v5.2h-5.2zM546.0 335.1h5.2v5.2h-5.2zM534.2 327.8h5.2v5.2h-5.2zM503.0 279.2h5.2v5.2h-5.2zM500.4 277.4h5.2v5.2h-5.2zM493.7 262.2h5.2v5.2h-5.2zM549.9 337.9h5.2v5.2h-5.2zM502.4 280.2h5.2v5.2h-5.2zM488.3 250.2h5.2v5.2h-5.2zM509.0 288.5h5.2v5.2h-5.2zM551.8 338.8h5.2v5.2h-5.2zM504.7 279.5h5.2v5.2h-5.2zM536.6 329.2h5.2v5.2h-5.2zM536.7 328.9h5.2v5.2h-5.2z" fill="none" stroke="#999" stroke-width="1.0"/>
<path d="M421.3 127.9a2.45 2.45 0 1 0 4.9 0a2.45 2.45 0 1 0 -4.9 0M425.2 134.4a2.45 2.45 0 1 0 4.9 0a2.45 2.45 0 1 0 -4.9 0M432.4 145.9a2.45 2.45 0 1 0 4.9 0a2.45 2.45 0 1 0 -4.9 0M439.6 158.1a2.45 2.45 0 1 0 4.9 0a2.45 2.45 0 1 0 -4.9 0M445.8 168.8a2.45 2.45 0 1 0 4.9 0a2.45 2.45 0 1 0 -4.9 0M451.8 179.5a2.45 2.45 0 1 0 4.9 0a2.45 2.45 0 1 0 -4.9 0M456.6 188.6a2.45 2.45 0 1 0 4.9 0a2.45 2.45 0 1 0 -4.9 0M461.1 197.7a2.45 2.45 0 1 0 4.9 0a2.45 2.45 0 1 0 -4.9 0M465.8 208.4a2.45 2.45 0 1 0 4.9 0a2.45 2.45 0 1 0 -4.9 0M468.5 216.0a2.45 2.45 0 1 0 4.9 0a2.45 2.45 0 1 0 -4.9 0M471.4 223.7a2.45 2.45 0 1 0 4.9 0a2.45 2.45 0 1 0 -4.9 0M475.7 232.8a2.45 2.45 0 1 0 4.9 0a2.45 2.45 0 1 0 -4.9 0M479.9 240.4a2.45 2.45 0 1 0 4.9 0a2.45 2.45 0 1 0 -4.9 0M485.8 251.1a2.45 2.45 0 1 0 4.9 0a2.45 2.45 0 1 0 -4.9 0" fill="none" stroke="#000" stroke-width="1.1"/>
<path d="M422.0 128.5a2.2 2.2 0 1 0 4.4 0a2.2 2.2 0 1 0 -4.4 0M425.9 135.0a2.2 2.2 0 1 0 4.4 0a2.2 2.2 0 1 0 -4.4 0M433.1 146.5a2.2 2.2 0 1 0 4.4 0a2.2 2.2 0 1 0 -4.4 0M440.4 158.7a2.2 2.2 0 1 0 4.4 0a2.2 2.2 0 1 0 -4.4 0M446.6 169.4a2.2 2.2 0 1 0 4.4 0a2.2 2.2 0 1 0 -4.4 0M452.6 180.1a2.2 2.2 0 1 0 4.4 0a2.2 2.2 0 1 0 -4.4 0M457.4 189.2a2.2 2.2 0 1 0 4.4 0a2.2 2.2 0 1 0 -4.4 0M461.8 198.3a2.2 2.2 0 1 0 4.4 0a2.2 2.2 0 1 0 -4.4 0M466.6 209.0a2.2 2.2 0 1 0 4.4 0a2.2 2.2 0 1 0 -4.4 0M469.3 216.6a2.2 2.2 0 1 0 4.4 0a2.2 2.2 0 1 0 -4.4 0M472.1 224.3a2.2 2.2 0 1 0 4.4 0a2.2 2.2 0 1 0 -4.4 0M476.5 233.4a2.2 2.2 0 1 0 4.4 0a2.2 2.2 0 1 0 -4.4 0M480.7 241.0a2.2 2.2 0 1 0 4.4 0a2.2 2.2 0 1 0 -4.4 0M486.5 251.7a2.2 2.2 0 1 0 4.4 0a2.2 2.2 0 1 0 -4.4 0" fill="none" stroke="#999" stroke-width="1.2"/>
<path d="M429.3 131.6l4.6 4.6m0 -4.6l-4.6 4.6M436.5 143.1l4.6 4.6m0 -4.6l-4.6 4.6M443.8 155.3l4.6 4.6m0 -4.6l-4.6 4.6M450.0 166.0l4.6 4.6m0 -4.6l-4.6 4.6M456.0 176.7l4.6 4.6m0 -4.6l-4.6 4.6M460.8 185.8l4.6 4.6m0 -4.6l-4.6 4.6M465.2 194.9l4.6 4.6m0 -4.6l-4.6 4.6M470.0 205.6l4.6 4.6m0 -4.6l-4.6 4.6M472.7 213.2l4.6 4.6m0 -4.6l-4.6 4.6M475.5 220.9l4.6 4.6m0 -4.6l-4.6 4.6M479.9 230.0l4.6 4.6m0 -4.6l-4.6 4.6M484.1 237.6l4.6 4.6m0 -4.6l-4.6 4.6M489.9 248.3l4.6 4.6m0 -4.6l-4.6 4.6" fill="none" stroke="#000" stroke-width="1.1"/>
<path d="M194.6 189.3l4.6 4.6m0 -4.6l-4.6 4.6M178.0 218.9l4.6 4.6m0 -4.6l-4.6 4.6M242.8 98.3l4.6 4.6m0 -4.6l-4.6 4.6M138.5 292.2l4.6 4.6m0 -4.6l-4.6 4.6M222.5 137.2l4.6 4.6m0 -4.6l-4.6 4.6M177.4 219.1l4.6 4.6m0 -4.6l-4.6 4.6M189.4 201.1l4.6 4.6m0 -4.6l-4.6 4.6M202.1 172.8l4.6 4.6m0 -4.6l-4.6 4.6M103.8 335.7l4.6 4.6m0 -4.6l-4.6 4.6M96.9 338.9l4.6 4.6m0 -4.6l-4.6 4.6M210.0 160.1l4.6 4.6m0 -4.6l-4.6 4.6M217.1 150.3l4.6 4.6m0 -4.6l-4.6 4.6M157.0 252.7l4.6 4.6m0 -4.6l-4.6 4.6M239.7 102.4l4.6 4.6m0 -4.6l-4.6 4.6M227.3 128.3l4.6 4.6m0 -4.6l-4.6 4.6M198.8 174.4l4.6 4.6m0 -4.6l-4.6 4.6M272.6 59.7l4.6 4.6m0 -4.6l-4.6 4.6M190.1 191.4l4.6 4.6m0 -4.6l-4.6 4.6M155.9 259.1l4.6 4.6m0 -4.6l-4.6 4.6M155.2 258.9l4.6 4.6m0 -4.6l-4.6 4.6M257.0 76.6l4.6 4.6m0 -4.6l-4.6 4.6M94.2 339.6l4.6 4.6m0 -4.6l-4.6 4.6M137.7 290.8l4.6 4.6m0 -4.6l-4.6 4.6M295.8 43.2l4.6 4.6m0 -4.6l-4.6 4.6M211.2 157.5l4.6 4.6m0 -4.6l-4.6 4.6M211.4 159.4l4.6 4.6m0 -4.6l-4.6 4.6M286.4 46.9l4.6 4.6m0 -4.6l-4.6 4.6M191.3 192.6l4.6 4.6m0 -4.6l-4.6 4.6M271.6 62.5l4.6 4.6m0 -4.6l-4.6 4.6M96.4 338.1l4.6 4.6m0 -4.6l-4.6 4.6M153.9 263.6l4.6 4.6m0 -4.6l-4.6 4.6M287.0 47.7l4.6 4.6m0 -4.6l-4.6 4.6M234.6 117.9l4.6 4.6m0 -4.6l-4.6 4.6M211.7 154.4l4.6 4.6m0 -4.6l-4.6 4.6M116.0 320.1l4.6 4.6m0 -4.6l-4.6 4.6M176.7 216.9l4.6 4.6m0 -4.6l-4.6 4.6M208.1 162.6l4.6 4.6m0 -4.6l-4.6 4.6M270.8 61.7l4.6 4.6m0 -4.6l-4.6 4.6M114.5 326.0l4.6 4.6m0 -4.6l-4.6 4.6M288.8 46.6l4.6 4.6m0 -4.6l-4.6 4.6M216.2 151.3l4.6 4.6m0 -4.6l-4.6 4.6M174.1 221.7l4.6 4.6m0 -4.6l-4.6 4.6M222.7 144.1l4.6 4.6m0 -4.6l-4.6 4.6M157.7 260.0l4.6 4.6m0 -4.6l-4.6 4.6M207.7 157.2l4.6 4.6m0 -4.6l-4.6 4.6M166.8 236.8l4.6 4.6m0 -4.6l-4.6 4.6M167.1 245.2l4.6 4.6m0 -4.6l-4.6 4.6M189.1 206.7l4.6 4.6m0 -4.6l-4.6 4.6M267.0 67.2l4.6 4.6m0 -4.6l-4.6 4.6M175.1 220.7l4.6 4.6m0 -4.6l-4.6 4.6M306.6 36.5l4.6 4.6m0 -4.6l-4.6 4.6M111.4 329.5l4.6 4.6m0 -4.6l-4.6 4.6M283.6 50.9l4.6 4.6m0 -4.6l-4.6 4.6M149.7 274.1l4.6 4.6m0 -4.6l-4.6 4.6M191.4 189.7l4.6 4.6m0 -4.6l-4.6 4.6M203.2 169.3l4.6 4.6m0 -4.6l-4.6 4.6M182.0 204.9l4.6 4.6m0 -4.6l-4.6 4.6M299.8 40.0l4.6 4.6m0 -4.6l-4.6 4.6M198.1 185.6l4.6 4.6m0 -4.6l-4.6 4.6M227.7 125.7l4.6 4.6m0 -4.6l-4.6 4.6M147.6 269.1l4.6 4.6m0 -4.6l-4.6 4.6M214.3 152.0l4.6 4.6m0 -4.6l-4.6 4.6M174.5 227.3l4.6 4.6m0 -4.6l-4.6 4.6M220.9 139.4l4.6 4.6m0 -4.6l-4.6 4.6M238.3 106.7l4.6 4.6m0 -4.6l-4.6 4.6M129.6 304.9l4.6 4.6m0 -4.6l-4.6 4.6M238.3 113.1l4.6 4.6m0 -4.6l-4.6 4.6M148.9 276.1l4.6 4.6m0 -4.6l-4.6 4.6M144.2 278.5l4.6 4.6m0 -4.6l-4.6 4.6M298.6 39.7l4.6 4.6m0 -4.6l-4.6 4.6M158.8 245.4l4.6 4.6m0 -4.6l-4.6 4.6M200.8 175.8l4.6 4.6m0 -4.6l-4.6 4.6M226.6 130.2l4.6 4.6m0 -4.6l-4.6 4.6M150.1 263.7l4.6 4.6m0 -4.6l-4.6 4.6M159.2 256.5l4.6 4.6m0 -4.6l-4.6 4.6M163.3 240.2l4.6 4.6m0 -4.6l-4.6 4.6M222.2 140.2l4.6 4.6m0 -4.6l-4.6 4.6M217.5 145.0l4.6 4.6m0 -4.6l-4.6 4.6M262.0 73.4l4.6 4.6m0 -4.6l-4.6 4.6M238.1 105.1l4.6 4.6m0 -4.6l-4.6 4.6M148.1 272.3l4.6 4.6m0 -4.6l-4.6 4.6M257.9 72.6l4.6 4.6m0 -4.6l-4.6 4.6M244.8 97.5l4.6 4.6m0 -4.6l-4.6 4.6M140.4 287.5l4.6 4.6m0 -4.6l-4.6 4.6M247.0 92.2l4.6 4.6m0 -4.6l-4.6 4.6M237.9 112.9l4.6 4.6m0 -4.6l-4.6 4.6M99.1 336.2l4.6 4.6m0 -4.6l-4.6 4.6M200.1 180.0l4.6 4.6m0 -4.6l-4.6 4.6M198.5 182.9l4.6 4.6m0 -4.6l-4.6 4.6M224.1 130.2l4.6 4.6m0 -4.6l-4.6 4.6M165.1 242.9l4.6 4.6m0 -4.6l-4.6 4.6M151.4 269.5l4.6 4.6m0 -4.6l-4.6 4.6M258.6 72.3l4.6 4.6m0 -4.6l-4.6 4.6M270.2 62.5l4.6 4.6m0 -4.6l-4.6 4.6M184.1 203.5l4.6 4.6m0 -4.6l-4.6 4.6M187.6 206.2l4.6 4.6m0 -4.6l-4.6 4.6M248.2 89.0l4.6 4.6m0 -4.6l-4.6 4.6M302.3 38.9l4.6 4.6m0 -4.6l-4.6 4.6M238.0 110.5l4.6 4.6m0 -4.6l-4.6 4.6M276.5 55.6l4.6 4.6m0 -4.6l-4.6 4.6M249.1 88.7l4.6 4.6m0 -4.6l-4.6 4.6M162.4 244.1l4.6 4.6m0 -4.6l-4.6 4.6M156.2 261.8l4.6 4.6m0 -4.6l-4.6 4.6M107.1 331.8l4.6 4.6m0 -4.6l-4.6 4.6M129.3 299.7l4.6 4.6m0 -4.6l-4.6 4.6M134.0 298.6l4.6 4.6m0 -4.6l-4.6 4.6M168.5 235.9l4.6 4.6m0 -4.6l-4.6 4.6M115.6 325.8l4.6 4.6m0 -4.6l-4.6 4.6M170.5 231.1l4.6 4.6m0 -4.6l-4.6 4.6M172.8 232.0l4.6 4.6m0 -4.6l-4.6 4.6M284.7 49.2l4.6 4.6m0 -4.6l-4.6 4.6M99.5 338.4l4.6 4.6m0 -4.6l-4.6 4.6M172.9 228.2l4.6 4.6m0 -4.6l-4.6 4.6M266.2 65.9l4.6 4.6m0 -4.6l-4.6 4.6M236.4 111.4l4.6 4.6m0 -4.6l-4.6 4.6M259.9 73.2l4.6 4.6m0 -4.6l-4.6 4.6M198.3 176.9l4.6 4.6m0 -4.6l-4.6 4.6M254.5 83.0l4.6 4.6m0 -4.6l-4.6 4.6M144.3 277.0l4.6 4.6m0 -4.6l-4.6 4.6M274.0 59.0l4.6 4.6m0 -4.6l-4.6 4.6M338.4 35.8l4.6 4.6m0 -4.6l-4.6 4.6M417.3 113.2l4.6 4.6m0 -4.6l-4.6 4.6M415.5 110.5l4.6 4.6m0 -4.6l-4.6 4.6M374.1 55.4l4.6 4.6m0 -4.6l-4.6 4.6M347.4 38.0l4.6 4.6m0 -4.6l-4.6 4.6M395.3 78.7l4.6 4.6m0 -4.6l-4.6 4.6M375.7 56.4l4.6 4.6m0 -4.6l-4.6 4.6M411.7 104.2l4.6 4.6m0 -4.6l-4.6 4.6M390.4 74.8l4.6 4.6m0 -4.6l-4.6 4.6M395.2 77.4l4.6 4.6m0 -4.6l-4.6 4.6M352.5 40.8l4.6 4.6m0 -4.6l-4.6 4.6M390.9 71.7l4.6 4.6m0 -4.6l-4.6 4.6M384.8 64.1l4.6 4.6m0 -4.6l-4.6 4.6M385.9 68.8l4.6 4.6m0 -4.6l-4.6 4.6M388.8 71.6l4.6 4.6m0 -4.6l-4.6 4.6M398.0 86.3l4.6 4.6m0 -4.6l-4.6 4.6M339.6 36.1l4.6 4.6m0 -4.6l-4.6 4.6M374.2 58.2l4.6 4.6m0 -4.6l-4.6 4.6M372.1 54.1l4.6 4.6m0 -4.6l-4.6 4.6M376.7 58.8l4.6 4.6m0 -4.6l-4.6 4.6M396.3 77.3l4.6 4.6m0 -4.6l-4.6 4.6M401.3 84.0l4.6 4.6m0 -4.6l-4.6 4.6M376.5 55.8l4.6 4.6m0 -4.6l-4.6 4.6M387.7 72.3l4.6 4.6m0 -4.6l-4.6 4.6M385.2 67.4l4.6 4.6m0 -4.6l-4.6 4.6M354.4 43.1l4.6 4.6m0 -4.6l-4.6 4.6M386.2 67.5l4.6 4.6m0 -4.6l-4.6 4.6M398.9 83.5l4.6 4.6m0 -4.6l-4.6 4.6M398.6 83.1l4.6 4.6m0 -4.6l-4.6 4.6M407.3 91.0l4.6 4.6m0 -4.6l-4.6 4.6M368.2 51.5l4.6 4.6m0 -4.6l-4.6 4.6M414.5 110.8l4.6 4.6m0 -4.6l-4.6 4.6M384.9 66.0l4.6 4.6m0 -4.6l-4.6 4.6M394.2 79.3l4.6 4.6m0 -4.6l-4.6 4.6M363.1 46.3l4.6 4.6m0 -4.6l-4.6 4.6M414.6 113.8l4.6 4.6m0 -4.6l-4.6 4.6M407.9 93.8l4.6 4.6m0 -4.6l-4.6 4.6M364.5 46.5l4.6 4.6m0 -4.6l-4.6 4.6M406.5 94.9l4.6 4.6m0 -4.6l-4.6 4.6M415.3 107.7l4.6 4.6m0 -4.6l-4.6 4.6M365.8 48.5l4.6 4.6m0 -4.6l-4.6 4.6M406.0 98.1l4.6 4.6m0 -4.6l-4.6 4.6M402.1 88.5l4.6 4.6m0 -4.6l-4.6 4.6M385.6 71.0l4.6 4.6m0 -4.6l-4.6 4.6M407.4 91.9l4.6 4.6m0 -4.6l-4.6 4.6M375.5 60.3l4.6 4.6m0 -4.6l-4.6 4.6M401.9 89.5l4.6 4.6m0 -4.6l-4.6 4.6M405.7 97.0l4.6 4.6m0 -4.6l-4.6 4.6M410.7 105.6l4.6 4.6m0 -4.6l-4.6 4.6M379.8 61.1l4.6 4.6m0 -4.6l-4.6 4.6M511.5 291.7l4.6 4.6m0 -4.6l-4.6 4.6M514.8 296.8l4.6 4.6m0 -4.6l-4.6 4.6M481.2 235.4l4.6 4.6m0 -4.6l-4.6 4.6M500.4 269.7l4.6 4.6m0 -4.6l-4.6 4.6M518.9 302.0l4.6 4.6m0 -4.6l-4.6 4.6M495.4 264.7l4.6 4.6m0 -4.6l-4.6 4.6M550.3 337.4l4.6 4.6m0 -4.6l-4.6 4.6M487.2 247.1l4.6 4.6m0 -4.6l-4.6 4.6M490.6 255.6l4.6 4.6m0 -4.6l-4.6 4.6M498.9 270.8l4.6 4.6m0 -4.6l-4.6 4.6M492.5 258.5l4.6 4.6m0 -4.6l-4.6 4.6M528.2 313.8l4.6 4.6m0 -4.6l-4.6 4.6M494.2 258.7l4.6 4.6m0 -4.6l-4.6 4.6M489.5 246.9l4.6 4.6m0 -4.6l-4.6 4.6M505.4 279.9l4.6 4.6m0 -4.6l-4.6 4.6M495.9 261.9l4.6 4.6m0 -4.6l-4.6 4.6M516.3 297.2l4.6 4.6m0 -4.6l-4.6 4.6M527.5 310.5l4.6 4.6m0 -4.6l-4.6 4.6M491.8 259.8l4.6 4.6m0 -4.6l-4.6 4.6M513.4 289.9l4.6 4.6m0 -4.6l-4.6 4.6M512.4 292.2l4.6 4.6m0 -4.6l-4.6 4.6M532.7 323.2l4.6 4.6m0 -4.6l-4.6 4.6M523.6 308.2l4.6 4.6m0 -4.6l-4.6 4.6M509.0 284.4l4.6 4.6m0 -4.6l-4.6 4.6M547.4 337.2l4.6 4.6m0 -4.6l-4.6 4.6M513.9 293.0l4.6 4.6m0 -4.6l-4.6 4.6M492.4 256.1l4.6 4.6m0 -4.6l-4.6 4.6M521.9 305.6l4.6 4.6m0 -4.6l-4.6 4.6M495.5 261.7l4.6 4.6m0 -4.6l-4.6 4.6M484.1 238.4l4.6 4.6m0 -4.6l-4.6 4.6" fill="none" stroke="#000" stroke-width="1.1"/>
<path d="M218.8 144.1a2.45 2.45 0 1 0 4.9 0a2.45 2.45 0 1 0 -4.9 0M261.8 75.9a2.45 2.45 0 1 0 4.9 0a2.45 2.45 0 1 0 -4.9 0M162.6 253.8a2.45 2.45 0 1 0 4.9 0a2.45 2.45 0 1 0 -4.9 0M278.6 58.3a2.45 2.45 0 1 0 4.9 0a2.45 2.45 0 1 0 -4.9 0M239.7 108.4a2.45 2.45 0 1 0 4.9 0a2.45 2.45 0 1 0 -4.9 0M164.8 242.5a2.45 2.45 0 1 0 4.9 0a2.45 2.45 0 1 0 -4.9 0M221.3 146.3a2.45 2.45 0 1 0 4.9 0a2.45 2.45 0 1 0 -4.9 0M191.8 199.7a2.45 2.45 0 1 0 4.9 0a2.45 2.45 0 1 0 -4.9 0M242.2 102.9a2.45 2.45 0 1 0 4.9 0a2.45 2.45 0 1 0 -4.9 0M285.2 51.3a2.45 2.45 0 1 0 4.9 0a2.45 2.45 0 1 0 -4.9 0M233.5 122.1a2.45 2.45 0 1 0 4.9 0a2.45 2.45 0 1 0 -4.9 0M142.4 286.9a2.45 2.45 0 1 0 4.9 0a2.45 2.45 0 1 0 -4.9 0M226.5 135.3a2.45 2.45 0 1 0 4.9 0a2.45 2.45 0 1 0 -4.9 0M190.4 197.4a2.45 2.45 0 1 0 4.9 0a2.45 2.45 0 1 0 -4.9 0M180.4 215.4a2.45 2.45 0 1 0 4.9 0a2.45 2.45 0 1 0 -4.9 0M235.7 119.2a2.45 2.45 0 1 0 4.9 0a2.45 2.45 0 1 0 -4.9 0M249.9 96.1a2.45 2.45 0 1 0 4.9 0a2.45 2.45 0 1 0 -4.9 0M256.5 78.5a2.45 2.45 0 1 0 4.9 0a2.45 2.45 0 1 0 -4.9 0M209.1 166.5a2.45 2.45 0 1 0 4.9 0a2.45 2.45 0 1 0 -4.9 0M112.2 332.5a2.45 2.45 0 1 0 4.9 0a2.45 2.45 0 1 0 -4.9 0M191.3 198.8a2.45 2.45 0 1 0 4.9 0a2.45 2.45 0 1 0 -4.9 0M187.2 204.0a2.45 2.45 0 1 0 4.9 0a2.45 2.45 0 1 0 -4.9 0M110.2 334.3a2.45 2.45 0 1 0 4.9 0a2.45 2.45 0 1 0 -4.9 0M146.8 283.8a2.45 2.45 0 1 0 4.9 0a2.45 2.45 0 1 0 -4.9 0M257.6 82.7a2.45 2.45 0 1 0 4.9 0a2.45 2.45 0 1 0 -4.9 0M122.0 315.4a2.45 2.45 0 1 0 4.9 0a2.45 2.45 0 1 0 -4.9 0M156.5 263.2a2.45 2.45 0 1 0 4.9 0a2.45 2.45 0 1 0 -4.9 0M157.5 265.0a2.45 2.45 0 1 0 4.9 0a2.45 2.45 0 1 0 -4.9 0M155.1 261.1a2.45 2.45 0 1 0 4.9 0a2.45 2.45 0 1 0 -4.9 0M172.0 231.4a2.45 2.45 0 1 0 4.9 0a2.45 2.45 0 1 0 -4.9 0M223.0 140.8a2.45 2.45 0 1 0 4.9 0a2.45 2.45 0 1 0 -4.9 0M216.5 153.5a2.45 2.45 0 1 0 4.9 0a2.45 2.45 0 1 0 -4.9 0M213.8 160.4a2.45 2.45 0 1 0 4.9 0a2.45 2.45 0 1 0 -4.9 0M151.6 273.1a2.45 2.45 0 1 0 4.9 0a2.45 2.45 0 1 0 -4.9 0M168.4 242.0a2.45 2.45 0 1 0 4.9 0a2.45 2.45 0 1 0 -4.9 0M153.2 269.4a2.45 2.45 0 1 0 4.9 0a2.45 2.45 0 1 0 -4.9 0M176.2 224.2a2.45 2.45 0 1 0 4.9 0a2.45 2.45 0 1 0 -4.9 0M119.3 324.0a2.45 2.45 0 1 0 4.9 0a2.45 2.45 0 1 0 -4.9 0M215.4 157.0a2.45 2.45 0 1 0 4.9 0a2.45 2.45 0 1 0 -4.9 0M157.0 259.7a2.45 2.45 0 1 0 4.9 0a2.45 2.45 0 1 0 -4.9 0M274.5 59.4a2.45 2.45 0 1 0 4.9 0a2.45 2.45 0 1 0 -4.9 0M139.3 296.4a2.45 2.45 0 1 0 4.9 0a2.45 2.45 0 1 0 -4.9 0M244.1 102.6a2.45 2.45 0 1 0 4.9 0a2.45 2.45 0 1 0 -4.9 0M107.7 333.7a2.45 2.45 0 1 0 4.9 0a2.45 2.45 0 1 0 -4.9 0M144.5 286.9a2.45 2.45 0 1 0 4.9 0a2.45 2.45 0 1 0 -4.9 0M116.9 330.3a2.45 2.45 0 1 0 4.9 0a2.45 2.45 0 1 0 -4.9 0M176.7 221.8a2.45 2.45 0 1 0 4.9 0a2.45 2.45 0 1 0 -4.9 0M126.9 309.4a2.45 2.45 0 1 0 4.9 0a2.45 2.45 0 1 0 -4.9 0M137.4 293.4a2.45 2.45 0 1 0 4.9 0a2.45 2.45 0 1 0 -4.9 0M153.1 271.3a2.45 2.45 0 1 0 4.9 0a2.45 2.45 0 1 0 -4.9 0M216.7 156.5a2.45 2.45 0 1 0 4.9 0a2.45 2.45 0 1 0 -4.9 0M194.6 191.3a2.45 2.45 0 1 0 4.9 0a2.45 2.45 0 1 0 -4.9 0M280.4 55.8a2.45 2.45 0 1 0 4.9 0a2.45 2.45 0 1 0 -4.9 0M215.3 159.4a2.45 2.45 0 1 0 4.9 0a2.45 2.45 0 1 0 -4.9 0M258.2 80.1a2.45 2.45 0 1 0 4.9 0a2.45 2.45 0 1 0 -4.9 0M196.0 191.2a2.45 2.45 0 1 0 4.9 0a2.45 2.45 0 1 0 -4.9 0M185.9 205.1a2.45 2.45 0 1 0 4.9 0a2.45 2.45 0 1 0 -4.9 0M119.8 321.2a2.45 2.45 0 1 0 4.9 0a2.45 2.45 0 1 0 -4.9 0M103.1 338.7a2.45 2.45 0 1 0 4.9 0a2.45 2.45 0 1 0 -4.9 0M195.5 188.7a2.45 2.45 0 1 0 4.9 0a2.45 2.45 0 1 0 -4.9 0M179.0 221.2a2.45 2.45 0 1 0 4.9 0a2.45 2.45 0 1 0 -4.9 0M175.3 223.1a2.45 2.45 0 1 0 4.9 0a2.45 2.45 0 1 0 -4.9 0M238.7 112.3a2.45 2.45 0 1 0 4.9 0a2.45 2.45 0 1 0 -4.9 0M304.2 40.9a2.45 2.45 0 1 0 4.9 0a2.45 2.45 0 1 0 -4.9 0M195.4 190.9a2.45 2.45 0 1 0 4.9 0a2.45 2.45 0 1 0 -4.9 0M204.7 173.4a2.45 2.45 0 1 0 4.9 0a2.45 2.45 0 1 0 -4.9 0M161.6 257.2a2.45 2.45 0 1 0 4.9 0a2.45 2.45 0 1 0 -4.9 0M100.4 338.9a2.45 2.45 0 1 0 4.9 0a2.45 2.45 0 1 0 -4.9 0M188.4 196.9a2.45 2.45 0 1 0 4.9 0a2.45 2.45 0 1 0 -4.9 0M223.2 136.0a2.45 2.45 0 1 0 4.9 0a2.45 2.45 0 1 0 -4.9 0M187.3 205.2a2.45 2.45 0 1 0 4.9 0a2.45 2.45 0 1 0 -4.9 0M204.6 176.4a2.45 2.45 0 1 0 4.9 0a2.45 2.45 0 1 0 -4.9 0M103.3 338.6a2.45 2.45 0 1 0 4.9 0a2.45 2.45 0 1 0 -4.9 0M163.9 249.9a2.45 2.45 0 1 0 4.9 0a2.45 2.45 0 1 0 -4.9 0M256.5 80.8a2.45 2.45 0 1 0 4.9 0a2.45 2.45 0 1 0 -4.9 0M237.9 113.9a2.45 2.45 0 1 0 4.9 0a2.45 2.45 0 1 0 -4.9 0M171.3 231.0a2.45 2.45 0 1 0 4.9 0a2.45 2.45 0 1 0 -4.9 0M157.9 263.1a2.45 2.45 0 1 0 4.9 0a2.45 2.45 0 1 0 -4.9 0M263.2 76.4a2.45 2.45 0 1 0 4.9 0a2.45 2.45 0 1 0 -4.9 0M283.0 54.0a2.45 2.45 0 1 0 4.9 0a2.45 2.45 0 1 0 -4.9 0M185.5 204.8a2.45 2.45 0 1 0 4.9 0a2.45 2.45 0 1 0 -4.9 0M189.4 199.2a2.45 2.45 0 1 0 4.9 0a2.45 2.45 0 1 0 -4.9 0M228.4 134.7a2.45 2.45 0 1 0 4.9 0a2.45 2.45 0 1 0 -4.9 0M224.1 139.0a2.45 2.45 0 1 0 4.9 0a2.45 2.45 0 1 0 -4.9 0M150.9 276.3a2.45 2.45 0 1 0 4.9 0a2.45 2.45 0 1 0 -4.9 0M131.7 299.4a2.45 2.45 0 1 0 4.9 0a2.45 2.45 0 1 0 -4.9 0M231.6 124.0a2.45 2.45 0 1 0 4.9 0a2.45 2.45 0 1 0 -4.9 0M147.9 279.5a2.45 2.45 0 1 0 4.9 0a2.45 2.45 0 1 0 -4.9 0M171.8 237.9a2.45 2.45 0 1 0 4.9 0a2.45 2.45 0 1 0 -4.9 0M217.9 152.0a2.45 2.45 0 1 0 4.9 0a2.45 2.45 0 1 0 -4.9 0M278.0 58.5a2.45 2.45 0 1 0 4.9 0a2.45 2.45 0 1 0 -4.9 0M223.1 139.4a2.45 2.45 0 1 0 4.9 0a2.45 2.45 0 1 0 -4.9 0M204.7 175.1a2.45 2.45 0 1 0 4.9 0a2.45 2.45 0 1 0 -4.9 0M262.3 73.5a2.45 2.45 0 1 0 4.9 0a2.45 2.45 0 1 0 -4.9 0M249.0 91.8a2.45 2.45 0 1 0 4.9 0a2.45 2.45 0 1 0 -4.9 0M221.8 141.7a2.45 2.45 0 1 0 4.9 0a2.45 2.45 0 1 0 -4.9 0M243.3 102.2a2.45 2.45 0 1 0 4.9 0a2.45 2.45 0 1 0 -4.9 0M151.8 270.3a2.45 2.45 0 1 0 4.9 0a2.45 2.45 0 1 0 -4.9 0M205.1 174.6a2.45 2.45 0 1 0 4.9 0a2.45 2.45 0 1 0 -4.9 0M168.2 237.8a2.45 2.45 0 1 0 4.9 0a2.45 2.45 0 1 0 -4.9 0M170.8 234.3a2.45 2.45 0 1 0 4.9 0a2.45 2.45 0 1 0 -4.9 0M116.7 327.3a2.45 2.45 0 1 0 4.9 0a2.45 2.45 0 1 0 -4.9 0M268.6 68.0a2.45 2.45 0 1 0 4.9 0a2.45 2.45 0 1 0 -4.9 0M272.6 62.3a2.45 2.45 0 1 0 4.9 0a2.45 2.45 0 1 0 -4.9 0M245.8 102.1a2.45 2.45 0 1 0 4.9 0a2.45 2.45 0 1 0 -4.9 0M168.2 238.2a2.45 2.45 0 1 0 4.9 0a2.45 2.45 0 1 0 -4.9 0M229.5 129.7a2.45 2.45 0 1 0 4.9 0a2.45 2.45 0 1 0 -4.9 0M222.4 142.5a2.45 2.45 0 1 0 4.9 0a2.45 2.45 0 1 0 -4.9 0M210.2 166.4a2.45 2.45 0 1 0 4.9 0a2.45 2.45 0 1 0 -4.9 0M169.9 237.9a2.45 2.45 0 1 0 4.9 0a2.45 2.45 0 1 0 -4.9 0M138.9 294.5a2.45 2.45 0 1 0 4.9 0a2.45 2.45 0 1 0 -4.9 0M212.9 160.6a2.45 2.45 0 1 0 4.9 0a2.45 2.45 0 1 0 -4.9 0M208.1 164.6a2.45 2.45 0 1 0 4.9 0a2.45 2.45 0 1 0 -4.9 0M166.3 244.7a2.45 2.45 0 1 0 4.9 0a2.45 2.45 0 1 0 -4.9 0M138.3 291.9a2.45 2.45 0 1 0 4.9 0a2.45 2.45 0 1 0 -4.9 0M248.6 97.4a2.45 2.45 0 1 0 4.9 0a2.45 2.45 0 1 0 -4.9 0M189.2 202.6a2.45 2.45 0 1 0 4.9 0a2.45 2.45 0 1 0 -4.9 0M239.7 107.2a2.45 2.45 0 1 0 4.9 0a2.45 2.45 0 1 0 -4.9 0M233.4 115.0a2.45 2.45 0 1 0 4.9 0a2.45 2.45 0 1 0 -4.9 0M217.1 145.6a2.45 2.45 0 1 0 4.9 0a2.45 2.45 0 1 0 -4.9 0M158.5 258.8a2.45 2.45 0 1 0 4.9 0a2.45 2.45 0 1 0 -4.9 0M234.1 121.0a2.45 2.45 0 1 0 4.9 0a2.45 2.45 0 1 0 -4.9 0M94.0 342.6a2.45 2.45 0 1 0 4.9 0a2.45 2.45 0 1 0 -4.9 0M124.6 313.0a2.45 2.45 0 1 0 4.9 0a2.45 2.45 0 1 0 -4.9 0M208.0 164.3a2.45 2.45 0 1 0 4.9 0a2.45 2.45 0 1 0 -4.9 0M234.4 118.0a2.45 2.45 0 1 0 4.9 0a2.45 2.45 0 1 0 -4.9 0M187.8 204.6a2.45 2.45 0 1 0 4.9 0a2.45 2.45 0 1 0 -4.9 0M258.5 82.9a2.45 2.45 0 1 0 4.9 0a2.45 2.45 0 1 0 -4.9 0M204.1 172.1a2.45 2.45 0 1 0 4.9 0a2.45 2.45 0 1 0 -4.9 0M168.8 235.5a2.45 2.45 0 1 0 4.9 0a2.45 2.45 0 1 0 -4.9 0M200.9 182.6a2.45 2.45 0 1 0 4.9 0a2.45 2.45 0 1 0 -4.9 0M145.6 281.3a2.45 2.45 0 1 0 4.9 0a2.45 2.45 0 1 0 -4.9 0M142.7 285.2a2.45 2.45 0 1 0 4.9 0a2.45 2.45 0 1 0 -4.9 0M205.5 174.7a2.45 2.45 0 1 0 4.9 0a2.45 2.45 0 1 0 -4.9 0M254.2 86.9a2.45 2.45 0 1 0 4.9 0a2.45 2.45 0 1 0 -4.9 0M161.0 255.1a2.45 2.45 0 1 0 4.9 0a2.45 2.45 0 1 0 -4.9 0M212.1 164.2a2.45 2.45 0 1 0 4.9 0a2.45 2.45 0 1 0 -4.9 0M269.4 65.7a2.45 2.45 0 1 0 4.9 0a2.45 2.45 0 1 0 -4.9 0M236.0 111.3a2.45 2.45 0 1 0 4.9 0a2.45 2.45 0 1 0 -4.9 0M236.5 111.9a2.45 2.45 0 1 0 4.9 0a2.45 2.45 0 1 0 -4.9 0M154.1 266.3a2.45 2.45 0 1 0 4.9 0a2.45 2.45 0 1 0 -4.9 0M172.3 231.5a2.45 2.45 0 1 0 4.9 0a2.45 2.45 0 1 0 -4.9 0M174.1 223.6a2.45 2.45 0 1 0 4.9 0a2.45 2.45 0 1 0 -4.9 0M256.5 81.5a2.45 2.45 0 1 0 4.9 0a2.45 2.45 0 1 0 -4.9 0M237.4 112.4a2.45 2.45 0 1 0 4.9 0a2.45 2.45 0 1 0 -4.9 0M139.3 293.1a2.45 2.45 0 1 0 4.9 0a2.45 2.45 0 1 0 -4.9 0M242.2 102.8a2.45 2.45 0 1 0 4.9 0a2.45 2.45 0 1 0 -4.9 0M208.3 166.1a2.45 2.45 0 1 0 4.9 0a2.45 2.45 0 1 0 -4.9 0M257.6 80.7a2.45 2.45 0 1 0 4.9 0a2.45 2.45 0 1 0 -4.9 0M221.1 146.2a2.45 2.45 0 1 0 4.9 0a2.45 2.45 0 1 0 -4.9 0M277.6 59.0a2.45 2.45 0 1 0 4.9 0a2.45 2.45 0 1 0 -4.9 0M126.8 308.7a2.45 2.45 0 1 0 4.9 0a2.45 2.45 0 1 0 -4.9 0M222.5 141.0a2.45 2.45 0 1 0 4.9 0a2.45 2.45 0 1 0 -4.9 0M147.2 282.3a2.45 2.45 0 1 0 4.9 0a2.45 2.45 0 1 0 -4.9 0M220.5 146.3a2.45 2.45 0 1 0 4.9 0a2.45 2.45 0 1 0 -4.9 0M185.6 207.5a2.45 2.45 0 1 0 4.9 0a2.45 2.45 0 1 0 -4.9 0M234.9 120.4a2.45 2.45 0 1 0 4.9 0a2.45 2.45 0 1 0 -4.9 0M232.5 117.2a2.45 2.45 0 1 0 4.9 0a2.45 2.45 0 1 0 -4.9 0M244.0 101.3a2.45 2.45 0 1 0 4.9 0a2.45 2.45 0 1 0 -4.9 0M177.9 219.2a2.45 2.45 0 1 0 4.9 0a2.45 2.45 0 1 0 -4.9 0M182.0 213.8a2.45 2.45 0 1 0 4.9 0a2.45 2.45 0 1 0 -4.9 0M113.6 329.4a2.45 2.45 0 1 0 4.9 0a2.45 2.45 0 1 0 -4.9 0M189.0 203.8a2.45 2.45 0 1 0 4.9 0a2.45 2.45 0 1 0 -4.9 0M246.4 97.4a2.45 2.45 0 1 0 4.9 0a2.45 2.45 0 1 0 -4.9 0M244.3 98.6a2.45 2.45 0 1 0 4.9 0a2.45 2.45 0 1 0 -4.9 0M181.0 210.1a2.45 2.45 0 1 0 4.9 0a2.45 2.45 0 1 0 -4.9 0M289.0 48.3a2.45 2.45 0 1 0 4.9 0a2.45 2.45 0 1 0 -4.9 0M246.6 93.7a2.45 2.45 0 1 0 4.9 0a2.45 2.45 0 1 0 -4.9 0M263.1 73.3a2.45 2.45 0 1 0 4.9 0a2.45 2.45 0 1 0 -4.9 0M236.5 119.5a2.45 2.45 0 1 0 4.9 0a2.45 2.45 0 1 0 -4.9 0M210.3 162.9a2.45 2.45 0 1 0 4.9 0a2.45 2.45 0 1 0 -4.9 0M196.1 189.0a2.45 2.45 0 1 0 4.9 0a2.45 2.45 0 1 0 -4.9 0M139.1 291.5a2.45 2.45 0 1 0 4.9 0a2.45 2.45 0 1 0 -4.9 0M273.0 65.6a2.45 2.45 0 1 0 4.9 0a2.45 2.45 0 1 0 -4.9 0M298.7 44.3a2.45 2.45 0 1 0 4.9 0a2.45 2.45 0 1 0 -4.9 0M233.6 115.9a2.45 2.45 0 1 0 4.9 0a2.45 2.45 0 1 0 -4.9 0M206.1 173.5a2.45 2.45 0 1 0 4.9 0a2.45 2.45 0 1 0 -4.9 0M160.4 252.0a2.45 2.45 0 1 0 4.9 0a2.45 2.45 0 1 0 -4.9 0M98.2 340.6a2.45 2.45 0 1 0 4.9 0a2.45 2.45 0 1 0 -4.9 0M205.2 174.6a2.45 2.45 0 1 0 4.9 0a2.45 2.45 0 1 0 -4.9 0M236.6 117.2a2.45 2.45 0 1 0 4.9 0a2.45 2.45 0 1 0 -4.9 0M236.1 111.2a2.45 2.45 0 1 0 4.9 0a2.45 2.45 0 1 0 -4.9 0M182.6 215.3a2.45 2.45 0 1 0 4.9 0a2.45 2.45 0 1 0 -4.9 0M254.8 84.9a2.45 2.45 0 1 0 4.9 0a2.45 2.45 0 1 0 -4.9 0M103.7 337.2a2.45 2.45 0 1 0 4.9 0a2.45 2.45 0 1 0 -4.9 0M199.2 182.7a2.45 2.45 0 1 0 4.9 0a2.45 2.45 0 1 0 -4.9 0M243.9 103.5a2.45 2.45 0 1 0 4.9 0a2.45 2.45 0 1 0 -4.9 0M104.3 337.4a2.45 2.45 0 1 0 4.9 0a2.45 2.45 0 1 0 -4.9 0M229.8 130.2a2.45 2.45 0 1 0 4.9 0a2.45 2.45 0 1 0 -4.9 0M165.9 234.8a2.45 2.45 0 1 0 4.9 0a2.45 2.45 0 1 0 -4.9 0M221.0 149.3a2.45 2.45 0 1 0 4.9 0a2.45 2.45 0 1 0 -4.9 0M216.8 154.0a2.45 2.45 0 1 0 4.9 0a2.45 2.45 0 1 0 -4.9 0M233.7 118.5a2.45 2.45 0 1 0 4.9 0a2.45 2.45 0 1 0 -4.9 0M166.1 240.3a2.45 2.45 0 1 0 4.9 0a2.45 2.45 0 1 0 -4.9 0M211.3 160.2a2.45 2.45 0 1 0 4.9 0a2.45 2.45 0 1 0 -4.9 0M166.5 248.3a2.45 2.45 0 1 0 4.9 0a2.45 2.45 0 1 0 -4.9 0M176.8 227.4a2.45 2.45 0 1 0 4.9 0a2.45 2.45 0 1 0 -4.9 0M181.1 214.6a2.45 2.45 0 1 0 4.9 0a2.45 2.45 0 1 0 -4.9 0M204.5 174.2a2.45 2.45 0 1 0 4.9 0a2.45 2.45 0 1 0 -4.9 0M196.8 189.9a2.45 2.45 0 1 0 4.9 0a2.45 2.45 0 1 0 -4.9 0M211.4 164.5a2.45 2.45 0 1 0 4.9 0a2.45 2.45 0 1 0 -4.9 0M167.7 241.6a2.45 2.45 0 1 0 4.9 0a2.45 2.45 0 1 0 -4.9 0M179.7 216.0a2.45 2.45 0 1 0 4.9 0a2.45 2.45 0 1 0 -4.9 0M190.9 198.1a2.45 2.45 0 1 0 4.9 0a2.45 2.45 0 1 0 -4.9 0M219.1 147.6a2.45 2.45 0 1 0 4.9 0a2.45 2.45 0 1 0 -4.9 0M194.2 196.2a2.45 2.45 0 1 0 4.9 0a2.45 2.45 0 1 0 -4.9 0M238.2 113.8a2.45 2.45 0 1 0 4.9 0a2.45 2.45 0 1 0 -4.9 0M171.6 230.8a2.45 2.45 0 1 0 4.9 0a2.45 2.45 0 1 0 -4.9 0M182.0 214.1a2.45 2.45 0 1 0 4.9 0a2.45 2.45 0 1 0 -4.9 0M156.7 264.0a2.45 2.45 0 1 0 4.9 0a2.45 2.45 0 1 0 -4.9 0M130.0 306.4a2.45 2.45 0 1 0 4.9 0a2.45 2.45 0 1 0 -4.9 0M134.9 300.6a2.45 2.45 0 1 0 4.9 0a2.45 2.45 0 1 0 -4.9 0M221.5 146.5a2.45 2.45 0 1 0 4.9 0a2.45 2.45 0 1 0 -4.9 0M162.8 245.9a2.45 2.45 0 1 0 4.9 0a2.45 2.45 0 1 0 -4.9 0M125.3 312.0a2.45 2.45 0 1 0 4.9 0a2.45 2.45 0 1 0 -4.9 0M116.4 325.9a2.45 2.45 0 1 0 4.9 0a2.45 2.45 0 1 0 -4.9 0M300.6 41.1a2.45 2.45 0 1 0 4.9 0a2.45 2.45 0 1 0 -4.9 0M179.0 219.1a2.45 2.45 0 1 0 4.9 0a2.45 2.45 0 1 0 -4.9 0M281.1 54.3a2.45 2.45 0 1 0 4.9 0a2.45 2.45 0 1 0 -4.9 0M141.3 290.2a2.45 2.45 0 1 0 4.9 0a2.45 2.45 0 1 0 -4.9 0M153.5 265.8a2.45 2.45 0 1 0 4.9 0a2.45 2.45 0 1 0 -4.9 0M195.0 190.5a2.45 2.45 0 1 0 4.9 0a2.45 2.45 0 1 0 -4.9 0M126.8 311.9a2.45 2.45 0 1 0 4.9 0a2.45 2.45 0 1 0 -4.9 0M162.1 250.8a2.45 2.45 0 1 0 4.9 0a2.45 2.45 0 1 0 -4.9 0M143.8 287.0a2.45 2.45 0 1 0 4.9 0a2.45 2.45 0 1 0 -4.9 0M131.2 301.7a2.45 2.45 0 1 0 4.9 0a2.45 2.45 0 1 0 -4.9 0M161.6 248.8a2.45 2.45 0 1 0 4.9 0a2.45 2.45 0 1 0 -4.9 0M267.9 68.3a2.45 2.45 0 1 0 4.9 0a2.45 2.45 0 1 0 -4.9 0M107.2 337.1a2.45 2.45 0 1 0 4.9 0a2.45 2.45 0 1 0 -4.9 0M205.0 174.3a2.45 2.45 0 1 0 4.9 0a2.45 2.45 0 1 0 -4.9 0M239.8 110.9a2.45 2.45 0 1 0 4.9 0a2.45 2.45 0 1 0 -4.9 0M241.9 107.0a2.45 2.45 0 1 0 4.9 0a2.45 2.45 0 1 0 -4.9 0M172.4 232.9a2.45 2.45 0 1 0 4.9 0a2.45 2.45 0 1 0 -4.9 0M200.0 179.9a2.45 2.45 0 1 0 4.9 0a2.45 2.45 0 1 0 -4.9 0M113.0 331.6a2.45 2.45 0 1 0 4.9 0a2.45 2.45 0 1 0 -4.9 0M205.1 173.2a2.45 2.45 0 1 0 4.9 0a2.45 2.45 0 1 0 -4.9 0M240.9 109.4a2.45 2.45 0 1 0 4.9 0a2.45 2.45 0 1 0 -4.9 0M176.4 223.7a2.45 2.45 0 1 0 4.9 0a2.45 2.45 0 1 0 -4.9 0M233.8 119.4a2.45 2.45 0 1 0 4.9 0a2.45 2.45 0 1 0 -4.9 0M271.5 66.8a2.45 2.45 0 1 0 4.9 0a2.45 2.45 0 1 0 -4.9 0M414.7 110.4a2.45 2.45 0 1 0 4.9 0a2.45 2.45 0 1 0 -4.9 0M413.4 109.9a2.45 2.45 0 1 0 4.9 0a2.45 2.45 0 1 0 -4.9 0M378.0 60.7a2.45 2.45 0 1 0 4.9 0a2.45 2.45 0 1 0 -4.9 0M410.4 106.3a2.45 2.45 0 1 0 4.9 0a2.45 2.45 0 1 0 -4.9 0M364.2 48.1a2.45 2.45 0 1 0 4.9 0a2.45 2.45 0 1 0 -4.9 0M392.2 77.9a2.45 2.45 0 1 0 4.9 0a2.45 2.45 0 1 0 -4.9 0M377.6 60.0a2.45 2.45 0 1 0 4.9 0a2.45 2.45 0 1 0 -4.9 0M402.2 90.5a2.45 2.45 0 1 0 4.9 0a2.45 2.45 0 1 0 -4.9 0M402.1 92.5a2.45 2.45 0 1 0 4.9 0a2.45 2.45 0 1 0 -4.9 0M417.4 115.2a2.45 2.45 0 1 0 4.9 0a2.45 2.45 0 1 0 -4.9 0M382.2 65.0a2.45 2.45 0 1 0 4.9 0a2.45 2.45 0 1 0 -4.9 0M409.9 100.7a2.45 2.45 0 1 0 4.9 0a2.45 2.45 0 1 0 -4.9 0M396.4 85.2a2.45 2.45 0 1 0 4.9 0a2.45 2.45 0 1 0 -4.9 0M398.2 85.9a2.45 2.45 0 1 0 4.9 0a2.45 2.45 0 1 0 -4.9 0M406.2 91.1a2.45 2.45 0 1 0 4.9 0a2.45 2.45 0 1 0 -4.9 0M409.7 99.4a2.45 2.45 0 1 0 4.9 0a2.45 2.45 0 1 0 -4.9 0M395.1 82.1a2.45 2.45 0 1 0 4.9 0a2.45 2.45 0 1 0 -4.9 0M402.6 97.3a2.45 2.45 0 1 0 4.9 0a2.45 2.45 0 1 0 -4.9 0M374.1 57.8a2.45 2.45 0 1 0 4.9 0a2.45 2.45 0 1 0 -4.9 0M404.4 97.1a2.45 2.45 0 1 0 4.9 0a2.45 2.45 0 1 0 -4.9 0M354.4 44.4a2.45 2.45 0 1 0 4.9 0a2.45 2.45 0 1 0 -4.9 0M417.3 116.1a2.45 2.45 0 1 0 4.9 0a2.45 2.45 0 1 0 -4.9 0M409.1 101.1a2.45 2.45 0 1 0 4.9 0a2.45 2.45 0 1 0 -4.9 0M387.2 73.7a2.45 2.45 0 1 0 4.9 0a2.45 2.45 0 1 0 -4.9 0M374.4 60.6a2.45 2.45 0 1 0 4.9 0a2.45 2.45 0 1 0 -4.9 0M412.9 106.1a2.45 2.45 0 1 0 4.9 0a2.45 2.45 0 1 0 -4.9 0M417.6 111.9a2.45 2.45 0 1 0 4.9 0a2.45 2.45 0 1 0 -4.9 0M412.4 105.3a2.45 2.45 0 1 0 4.9 0a2.45 2.45 0 1 0 -4.9 0M408.3 98.4a2.45 2.45 0 1 0 4.9 0a2.45 2.45 0 1 0 -4.9 0M417.0 116.1a2.45 2.45 0 1 0 4.9 0a2.45 2.45 0 1 0 -4.9 0M394.1 81.2a2.45 2.45 0 1 0 4.9 0a2.45 2.45 0 1 0 -4.9 0M415.4 114.1a2.45 2.45 0 1 0 4.9 0a2.45 2.45 0 1 0 -4.9 0M411.8 108.9a2.45 2.45 0 1 0 4.9 0a2.45 2.45 0 1 0 -4.9 0M363.6 50.1a2.45 2.45 0 1 0 4.9 0a2.45 2.45 0 1 0 -4.9 0M381.8 66.5a2.45 2.45 0 1 0 4.9 0a2.45 2.45 0 1 0 -4.9 0M416.8 114.8a2.45 2.45 0 1 0 4.9 0a2.45 2.45 0 1 0 -4.9 0M368.7 53.8a2.45 2.45 0 1 0 4.9 0a2.45 2.45 0 1 0 -4.9 0M379.4 64.7a2.45 2.45 0 1 0 4.9 0a2.45 2.45 0 1 0 -4.9 0M406.7 100.7a2.45 2.45 0 1 0 4.9 0a2.45 2.45 0 1 0 -4.9 0M399.4 86.9a2.45 2.45 0 1 0 4.9 0a2.45 2.45 0 1 0 -4.9 0M400.6 91.7a2.45 2.45 0 1 0 4.9 0a2.45 2.45 0 1 0 -4.9 0M391.1 73.1a2.45 2.45 0 1 0 4.9 0a2.45 2.45 0 1 0 -4.9 0M386.4 70.3a2.45 2.45 0 1 0 4.9 0a2.45 2.45 0 1 0 -4.9 0M371.6 55.2a2.45 2.45 0 1 0 4.9 0a2.45 2.45 0 1 0 -4.9 0M403.1 91.2a2.45 2.45 0 1 0 4.9 0a2.45 2.45 0 1 0 -4.9 0M396.5 79.5a2.45 2.45 0 1 0 4.9 0a2.45 2.45 0 1 0 -4.9 0M400.6 90.1a2.45 2.45 0 1 0 4.9 0a2.45 2.45 0 1 0 -4.9 0M387.8 73.1a2.45 2.45 0 1 0 4.9 0a2.45 2.45 0 1 0 -4.9 0M380.0 64.6a2.45 2.45 0 1 0 4.9 0a2.45 2.45 0 1 0 -4.9 0M416.4 113.4a2.45 2.45 0 1 0 4.9 0a2.45 2.45 0 1 0 -4.9 0M406.2 97.9a2.45 2.45 0 1 0 4.9 0a2.45 2.45 0 1 0 -4.9 0M394.2 79.9a2.45 2.45 0 1 0 4.9 0a2.45 2.45 0 1 0 -4.9 0M415.3 115.3a2.45 2.45 0 1 0 4.9 0a2.45 2.45 0 1 0 -4.9 0M418.2 115.4a2.45 2.45 0 1 0 4.9 0a2.45 2.45 0 1 0 -4.9 0M404.3 99.1a2.45 2.45 0 1 0 4.9 0a2.45 2.45 0 1 0 -4.9 0M378.7 63.2a2.45 2.45 0 1 0 4.9 0a2.45 2.45 0 1 0 -4.9 0M395.5 85.7a2.45 2.45 0 1 0 4.9 0a2.45 2.45 0 1 0 -4.9 0M375.9 58.5a2.45 2.45 0 1 0 4.9 0a2.45 2.45 0 1 0 -4.9 0M397.8 85.8a2.45 2.45 0 1 0 4.9 0a2.45 2.45 0 1 0 -4.9 0M375.1 57.2a2.45 2.45 0 1 0 4.9 0a2.45 2.45 0 1 0 -4.9 0M396.3 85.0a2.45 2.45 0 1 0 4.9 0a2.45 2.45 0 1 0 -4.9 0M389.3 74.6a2.45 2.45 0 1 0 4.9 0a2.45 2.45 0 1 0 -4.9 0M395.3 81.0a2.45 2.45 0 1 0 4.9 0a2.45 2.45 0 1 0 -4.9 0M395.9 81.1a2.45 2.45 0 1 0 4.9 0a2.45 2.45 0 1 0 -4.9 0M412.9 107.9a2.45 2.45 0 1 0 4.9 0a2.45 2.45 0 1 0 -4.9 0M381.6 64.5a2.45 2.45 0 1 0 4.9 0a2.45 2.45 0 1 0 -4.9 0M358.7 47.7a2.45 2.45 0 1 0 4.9 0a2.45 2.45 0 1 0 -4.9 0M357.9 47.0a2.45 2.45 0 1 0 4.9 0a2.45 2.45 0 1 0 -4.9 0M412.3 102.2a2.45 2.45 0 1 0 4.9 0a2.45 2.45 0 1 0 -4.9 0M352.3 42.2a2.45 2.45 0 1 0 4.9 0a2.45 2.45 0 1 0 -4.9 0M363.4 50.2a2.45 2.45 0 1 0 4.9 0a2.45 2.45 0 1 0 -4.9 0M383.1 66.0a2.45 2.45 0 1 0 4.9 0a2.45 2.45 0 1 0 -4.9 0M400.6 88.2a2.45 2.45 0 1 0 4.9 0a2.45 2.45 0 1 0 -4.9 0M374.9 57.4a2.45 2.45 0 1 0 4.9 0a2.45 2.45 0 1 0 -4.9 0M384.9 68.7a2.45 2.45 0 1 0 4.9 0a2.45 2.45 0 1 0 -4.9 0M400.9 93.5a2.45 2.45 0 1 0 4.9 0a2.45 2.45 0 1 0 -4.9 0M379.2 61.7a2.45 2.45 0 1 0 4.9 0a2.45 2.45 0 1 0 -4.9 0M402.6 88.6a2.45 2.45 0 1 0 4.9 0a2.45 2.45 0 1 0 -4.9 0M396.3 85.1a2.45 2.45 0 1 0 4.9 0a2.45 2.45 0 1 0 -4.9 0M411.1 106.9a2.45 2.45 0 1 0 4.9 0a2.45 2.45 0 1 0 -4.9 0M408.9 100.9a2.45 2.45 0 1 0 4.9 0a2.45 2.45 0 1 0 -4.9 0M383.2 68.1a2.45 2.45 0 1 0 4.9 0a2.45 2.45 0 1 0 -4.9 0M411.1 111.0a2.45 2.45 0 1 0 4.9 0a2.45 2.45 0 1 0 -4.9 0M397.2 87.3a2.45 2.45 0 1 0 4.9 0a2.45 2.45 0 1 0 -4.9 0M389.8 75.5a2.45 2.45 0 1 0 4.9 0a2.45 2.45 0 1 0 -4.9 0M411.1 110.7a2.45 2.45 0 1 0 4.9 0a2.45 2.45 0 1 0 -4.9 0M380.4 68.5a2.45 2.45 0 1 0 4.9 0a2.45 2.45 0 1 0 -4.9 0M414.8 105.7a2.45 2.45 0 1 0 4.9 0a2.45 2.45 0 1 0 -4.9 0M356.4 45.2a2.45 2.45 0 1 0 4.9 0a2.45 2.45 0 1 0 -4.9 0M411.7 105.6a2.45 2.45 0 1 0 4.9 0a2.45 2.45 0 1 0 -4.9 0M415.7 116.8a2.45 2.45 0 1 0 4.9 0a2.45 2.45 0 1 0 -4.9 0M409.7 101.9a2.45 2.45 0 1 0 4.9 0a2.45 2.45 0 1 0 -4.9 0M385.0 66.5a2.45 2.45 0 1 0 4.9 0a2.45 2.45 0 1 0 -4.9 0M405.1 94.4a2.45 2.45 0 1 0 4.9 0a2.45 2.45 0 1 0 -4.9 0M402.9 89.5a2.45 2.45 0 1 0 4.9 0a2.45 2.45 0 1 0 -4.9 0M406.6 98.9a2.45 2.45 0 1 0 4.9 0a2.45 2.45 0 1 0 -4.9 0M416.0 115.8a2.45 2.45 0 1 0 4.9 0a2.45 2.45 0 1 0 -4.9 0M362.7 47.2a2.45 2.45 0 1 0 4.9 0a2.45 2.45 0 1 0 -4.9 0M367.1 53.3a2.45 2.45 0 1 0 4.9 0a2.45 2.45 0 1 0 -4.9 0M410.1 105.2a2.45 2.45 0 1 0 4.9 0a2.45 2.45 0 1 0 -4.9 0M404.8 99.3a2.45 2.45 0 1 0 4.9 0a2.45 2.45 0 1 0 -4.9 0M418.3 114.1a2.45 2.45 0 1 0 4.9 0a2.45 2.45 0 1 0 -4.9 0M351.7 42.2a2.45 2.45 0 1 0 4.9 0a2.45 2.45 0 1 0 -4.9 0M412.0 105.3a2.45 2.45 0 1 0 4.9 0a2.45 2.45 0 1 0 -4.9 0M390.0 73.3a2.45 2.45 0 1 0 4.9 0a2.45 2.45 0 1 0 -4.9 0M384.9 65.5a2.45 2.45 0 1 0 4.9 0a2.45 2.45 0 1 0 -4.9 0M416.4 113.1a2.45 2.45 0 1 0 4.9 0a2.45 2.45 0 1 0 -4.9 0M383.4 67.2a2.45 2.45 0 1 0 4.9 0a2.45 2.45 0 1 0 -4.9 0M353.7 43.5a2.45 2.45 0 1 0 4.9 0a2.45 2.45 0 1 0 -4.9 0M359.5 47.8a2.45 2.45 0 1 0 4.9 0a2.45 2.45 0 1 0 -4.9 0M372.1 57.0a2.45 2.45 0 1 0 4.9 0a2.45 2.45 0 1 0 -4.9 0M415.2 115.2a2.45 2.45 0 1 0 4.9 0a2.45 2.45 0 1 0 -4.9 0M372.0 56.2a2.45 2.45 0 1 0 4.9 0a2.45 2.45 0 1 0 -4.9 0M389.1 74.3a2.45 2.45 0 1 0 4.9 0a2.45 2.45 0 1 0 -4.9 0M384.1 69.5a2.45 2.45 0 1 0 4.9 0a2.45 2.45 0 1 0 -4.9 0M384.9 67.0a2.45 2.45 0 1 0 4.9 0a2.45 2.45 0 1 0 -4.9 0M394.2 81.1a2.45 2.45 0 1 0 4.9 0a2.45 2.45 0 1 0 -4.9 0M384.0 65.6a2.45 2.45 0 1 0 4.9 0a2.45 2.45 0 1 0 -4.9 0M415.4 109.9a2.45 2.45 0 1 0 4.9 0a2.45 2.45 0 1 0 -4.9 0M383.5 68.5a2.45 2.45 0 1 0 4.9 0a2.45 2.45 0 1 0 -4.9 0M386.9 71.5a2.45 2.45 0 1 0 4.9 0a2.45 2.45 0 1 0 -4.9 0M381.5 64.5a2.45 2.45 0 1 0 4.9 0a2.45 2.45 0 1 0 -4.9 0M410.8 102.3a2.45 2.45 0 1 0 4.9 0a2.45 2.45 0 1 0 -4.9 0M396.1 84.5a2.45 2.45 0 1 0 4.9 0a2.45 2.45 0 1 0 -4.9 0M376.0 57.4a2.45 2.45 0 1 0 4.9 0a2.45 2.45 0 1 0 -4.9 0M363.8 51.0a2.45 2.45 0 1 0 4.9 0a2.45 2.45 0 1 0 -4.9 0M378.6 63.0a2.45 2.45 0 1 0 4.9 0a2.45 2.45 0 1 0 -4.9 0M395.3 79.0a2.45 2.45 0 1 0 4.9 0a2.45 2.45 0 1 0 -4.9 0M377.2 63.6a2.45 2.45 0 1 0 4.9 0a2.45 2.45 0 1 0 -4.9 0M390.5 73.1a2.45 2.45 0 1 0 4.9 0a2.45 2.45 0 1 0 -4.9 0M549.1 340.2a2.45 2.45 0 1 0 4.9 0a2.45 2.45 0 1 0 -4.9 0M498.8 274.3a2.45 2.45 0 1 0 4.9 0a2.45 2.45 0 1 0 -4.9 0M551.6 340.6a2.45 2.45 0 1 0 4.9 0a2.45 2.45 0 1 0 -4.9 0M522.0 309.1a2.45 2.45 0 1 0 4.9 0a2.45 2.45 0 1 0 -4.9 0M482.5 239.5a2.45 2.45 0 1 0 4.9 0a2.45 2.45 0 1 0 -4.9 0M551.3 340.5a2.45 2.45 0 1 0 4.9 0a2.45 2.45 0 1 0 -4.9 0M506.8 288.2a2.45 2.45 0 1 0 4.9 0a2.45 2.45 0 1 0 -4.9 0M498.3 271.9a2.45 2.45 0 1 0 4.9 0a2.45 2.45 0 1 0 -4.9 0M529.4 320.6a2.45 2.45 0 1 0 4.9 0a2.45 2.45 0 1 0 -4.9 0M547.3 339.5a2.45 2.45 0 1 0 4.9 0a2.45 2.45 0 1 0 -4.9 0M531.5 326.1a2.45 2.45 0 1 0 4.9 0a2.45 2.45 0 1 0 -4.9 0M491.5 258.2a2.45 2.45 0 1 0 4.9 0a2.45 2.45 0 1 0 -4.9 0M518.6 306.0a2.45 2.45 0 1 0 4.9 0a2.45 2.45 0 1 0 -4.9 0M542.3 336.3a2.45 2.45 0 1 0 4.9 0a2.45 2.45 0 1 0 -4.9 0M481.5 240.4a2.45 2.45 0 1 0 4.9 0a2.45 2.45 0 1 0 -4.9 0M522.9 310.7a2.45 2.45 0 1 0 4.9 0a2.45 2.45 0 1 0 -4.9 0M548.6 339.6a2.45 2.45 0 1 0 4.9 0a2.45 2.45 0 1 0 -4.9 0M492.7 264.4a2.45 2.45 0 1 0 4.9 0a2.45 2.45 0 1 0 -4.9 0M521.0 312.7a2.45 2.45 0 1 0 4.9 0a2.45 2.45 0 1 0 -4.9 0M482.3 237.3a2.45 2.45 0 1 0 4.9 0a2.45 2.45 0 1 0 -4.9 0M532.8 328.0a2.45 2.45 0 1 0 4.9 0a2.45 2.45 0 1 0 -4.9 0M493.2 262.9a2.45 2.45 0 1 0 4.9 0a2.45 2.45 0 1 0 -4.9 0M507.8 287.9a2.45 2.45 0 1 0 4.9 0a2.45 2.45 0 1 0 -4.9 0M511.4 295.2a2.45 2.45 0 1 0 4.9 0a2.45 2.45 0 1 0 -4.9 0M495.3 268.0a2.45 2.45 0 1 0 4.9 0a2.45 2.45 0 1 0 -4.9 0M531.3 325.9a2.45 2.45 0 1 0 4.9 0a2.45 2.45 0 1 0 -4.9 0M496.1 270.0a2.45 2.45 0 1 0 4.9 0a2.45 2.45 0 1 0 -4.9 0M555.7 342.5a2.45 2.45 0 1 0 4.9 0a2.45 2.45 0 1 0 -4.9 0M505.0 282.2a2.45 2.45 0 1 0 4.9 0a2.45 2.45 0 1 0 -4.9 0M493.2 261.0a2.45 2.45 0 1 0 4.9 0a2.45 2.45 0 1 0 -4.9 0M533.2 326.6a2.45 2.45 0 1 0 4.9 0a2.45 2.45 0 1 0 -4.9 0M539.8 334.1a2.45 2.45 0 1 0 4.9 0a2.45 2.45 0 1 0 -4.9 0M487.7 251.7a2.45 2.45 0 1 0 4.9 0a2.45 2.45 0 1 0 -4.9 0M488.3 252.3a2.45 2.45 0 1 0 4.9 0a2.45 2.45 0 1 0 -4.9 0M530.8 322.9a2.45 2.45 0 1 0 4.9 0a2.45 2.45 0 1 0 -4.9 0M488.8 255.8a2.45 2.45 0 1 0 4.9 0a2.45 2.45 0 1 0 -4.9 0M536.6 331.8a2.45 2.45 0 1 0 4.9 0a2.45 2.45 0 1 0 -4.9 0M525.2 314.9a2.45 2.45 0 1 0 4.9 0a2.45 2.45 0 1 0 -4.9 0M494.9 264.6a2.45 2.45 0 1 0 4.9 0a2.45 2.45 0 1 0 -4.9 0M504.7 283.7a2.45 2.45 0 1 0 4.9 0a2.45 2.45 0 1 0 -4.9 0M495.8 273.5a2.45 2.45 0 1 0 4.9 0a2.45 2.45 0 1 0 -4.9 0M554.5 343.1a2.45 2.45 0 1 0 4.9 0a2.45 2.45 0 1 0 -4.9 0M550.1 340.3a2.45 2.45 0 1 0 4.9 0a2.45 2.45 0 1 0 -4.9 0M495.1 267.2a2.45 2.45 0 1 0 4.9 0a2.45 2.45 0 1 0 -4.9 0M552.6 342.4a2.45 2.45 0 1 0 4.9 0a2.45 2.45 0 1 0 -4.9 0" fill="none" stroke="#999" stroke-width="1.0"/>
<path d="M759.7 343.5V338.5M759.7 15.5V20.5M823.3 343.5V338.5M823.3 15.5V20.5M886.9 343.5V338.5M886.9 15.5V20.5M950.5 343.5V338.5M950.5 15.5V20.5M1014.1 343.5V338.5M1014.1 15.5V20.5M1077.7 343.5V338.5M1077.7 15.5V20.5M1141.3 343.5V338.5M1141.3 15.5V20.5M721.5 343.5H726.5M1179.5 343.5H1174.5M721.5 288.8H726.5M1179.5 288.8H1174.5M721.5 234.2H726.5M1179.5 234.2H1174.5M721.5 179.5H726.5M1179.5 179.5H1174.5M721.5 124.8H726.5M1179.5 124.8H1174.5M721.5 70.2H726.5M1179.5 70.2H1174.5M721.5 15.5H726.5M1179.5 15.5H1174.5" stroke="#505050" stroke-width="1" fill="none"/>
<rect x="721.5" y="15.5" width="458.0" height="328.0" stroke="#505050" stroke-width="1" fill="none"/>
<text x="711" y="350.7" text-anchor="end">0</text>
<text x="711" y="296.0" text-anchor="end">500</text>
<text x="711" y="241.4" text-anchor="end">1000</text>
<text x="711" y="186.7" text-anchor="end">1500</text>
<text x="711" y="132.0" text-anchor="end">2000</text>
<text x="711" y="77.4" text-anchor="end">2500</text>
<text x="711" y="22.7" text-anchor="end">3000</text>
<text x="759.7" y="370.6" text-anchor="middle">−150</text>
<text x="823.3" y="370.6" text-anchor="middle">−100</text>
<text x="886.9" y="370.6" text-anchor="middle">−50</text>
<text x="951.5" y="370.6" text-anchor="middle">0</text>
<text x="1015.9" y="370.6" text-anchor="middle">50</text>
<text x="1079.6" y="370.6" text-anchor="middle">100</text>
<text x="1144.1" y="370.6" text-anchor="middle">150</text>
<polyline points="721.50,343.50 722.14,343.33 722.77,343.15 723.41,342.96 724.04,342.75 724.68,342.54 725.32,342.31 725.95,342.07 726.59,341.82 727.23,341.56 727.86,341.29 728.50,341.01 729.13,340.72 729.77,340.43 730.41,340.12 731.04,339.80 731.68,339.48 732.31,339.15 732.95,338.81 733.59,338.46 734.22,338.10 734.86,337.73 735.49,337.35 736.13,336.95 736.77,336.54 737.40,336.12 738.04,335.69 738.67,335.25 739.31,334.80 739.95,334.33 740.58,333.85 741.22,333.36 741.86,332.85 742.49,332.34 743.13,331.81 743.76,331.27 744.40,330.72 745.04,330.15 745.67,329.58 746.31,328.99 746.94,328.38 747.58,327.77 748.22,327.14 748.85,326.50 749.49,325.85 750.12,325.18 750.76,324.50 751.40,323.81 752.03,323.10 752.67,322.38 753.31,321.65 753.94,320.91 754.58,320.15 755.21,319.36 755.85,318.49 756.49,317.56 757.12,316.58 757.76,315.53 758.39,314.44 759.03,313.31 759.67,312.14 760.30,310.94 760.94,309.72 761.58,308.47 762.21,307.22 762.85,305.96 763.48,304.69 764.12,303.43 764.76,302.19 765.39,300.95 766.03,299.75 766.66,298.54 767.30,297.34 767.94,296.14 768.57,294.93 769.21,293.72 769.84,292.51 770.48,291.29 771.12,290.06 771.75,288.83 772.39,287.59 773.02,286.34 773.66,285.08 774.30,283.81 774.93,282.53 775.57,281.23 776.21,279.92 776.84,278.60 777.48,277.26 778.11,275.91 778.75,274.54 779.39,273.15 780.02,271.74 780.66,270.32 781.29,268.84 781.93,267.27 782.57,265.63 783.20,263.94 783.84,262.23 784.48,260.52 785.11,258.83 785.75,257.18 786.38,255.61 787.02,254.12 787.66,252.75 788.29,251.52 788.93,250.38 789.56,249.30 790.20,248.24 790.84,247.15 791.47,246.00 792.11,244.76 792.74,243.49 793.38,242.19 794.02,240.86 794.65,239.51 795.29,238.13 795.92,236.74 796.56,235.33 797.20,233.91 797.83,232.47 798.47,231.04 799.11,229.60 799.74,228.16 800.38,226.72 801.01,225.28 801.65,223.81 802.29,222.32 802.92,220.82 803.56,219.31 804.19,217.83 804.83,216.38 805.47,214.98 806.10,213.60 806.74,212.25 807.38,210.91 808.01,209.59 808.65,208.28 809.28,206.99 809.92,205.71 810.56,204.45 811.19,203.19 811.83,201.95 812.46,200.72 813.10,199.50 813.74,198.28 814.37,197.07 815.01,195.87 815.64,194.68 816.28,193.49 816.92,192.30 817.55,191.11 818.19,189.93 818.83,188.75 819.46,187.56 820.10,186.38 820.73,185.20 821.37,184.01 822.01,182.81 822.64,181.62 823.28,180.42 823.91,179.21 824.55,177.99 825.19,176.77 825.82,175.53 826.46,174.29 827.09,173.04 827.73,171.77 828.37,170.49 829.00,169.20 829.64,167.89 830.27,166.57 830.91,165.23 831.55,163.87 832.18,162.50 832.82,161.10 833.46,159.69 834.09,158.25 834.73,156.79 835.36,155.28 836.00,153.71 836.64,152.08 837.27,150.41 837.91,148.70 838.54,146.97 839.18,145.22 839.82,143.45 840.45,141.69 841.09,139.92 841.73,138.18 842.36,136.45 843.00,134.76 843.63,133.11 844.27,131.50 844.91,129.95 845.54,128.47 846.18,127.04 846.81,125.64 847.45,124.24 848.09,122.86 848.72,121.49 849.36,120.14 849.99,118.81 850.63,117.49 851.27,116.19 851.90,114.91 852.54,113.64 853.17,112.40 853.81,111.18 854.45,109.98 855.08,108.81 855.72,107.66 856.36,106.54 856.99,105.44 857.63,104.37 858.26,103.32 858.90,102.31 859.54,101.33 860.17,100.37 860.81,99.44 861.44,98.53 862.08,97.64 862.72,96.77 863.35,95.92 863.99,95.08 864.62,94.27 865.26,93.47 865.90,92.68 866.53,91.90 867.17,91.14 867.81,90.39 868.44,89.64 869.08,88.91 869.71,88.18 870.35,87.45 870.99,86.74 871.62,86.02 872.26,85.30 872.89,84.59 873.53,83.88 874.17,83.16 874.80,82.44 875.44,81.72 876.08,80.99 876.71,80.25 877.35,79.51 877.98,78.76 878.62,77.99 879.26,77.22 879.89,76.43 880.53,75.63 881.16,74.82 881.80,73.98 882.44,73.13 883.07,72.26 883.71,71.39 884.34,70.50 884.98,69.60 885.62,68.70 886.25,67.79 886.89,66.87 887.52,65.95 888.16,65.04 888.80,64.12 889.43,63.21 890.07,62.30 890.71,61.40 891.34,60.51 891.98,59.63 892.61,58.76 893.25,57.91 893.89,57.06 894.52,56.24 895.16,55.44 895.79,54.65 896.43,53.89 897.07,53.16 897.70,52.45 898.34,51.76 898.98,51.11 899.61,50.49 900.25,49.88 900.88,49.28 901.52,48.68 902.16,48.09 902.79,47.50 903.43,46.92 904.06,46.34 904.70,45.77 905.34,45.20 905.97,44.64 906.61,44.08 907.24,43.53 907.88,42.99 908.52,42.46 909.15,41.93 909.79,41.41 910.42,40.89 911.06,40.39 911.70,39.89 912.33,39.40 912.97,38.93 913.61,38.46 914.24,38.00 914.88,37.55 915.51,37.11 916.15,36.68 916.79,36.26 917.42,35.85 918.06,35.45 918.69,35.06 919.33,34.69 919.97,34.33 920.60,33.98 921.24,33.64 921.88,33.32 922.51,33.01 923.15,32.71 923.78,32.43 924.42,32.16 925.06,31.90 925.69,31.65 926.33,31.42 926.96,31.18 927.60,30.95 928.24,30.73 928.87,30.52 929.51,30.30 930.14,30.10 930.78,29.90 931.42,29.70 932.05,29.51 932.69,29.33 933.33,29.15 933.96,28.97 934.60,28.80 935.23,28.64 935.87,28.48 936.51,28.32 937.14,28.17 937.78,28.02 938.41,27.88 939.05,27.74 939.69,27.60 940.32,27.47 940.96,27.34 941.59,27.22 942.23,27.10 942.87,26.98 943.50,26.87 944.14,26.76 944.77,26.65 945.41,26.55 946.05,26.45 946.68,26.36 947.32,26.27 947.96,26.18 948.59,26.10 949.23,26.03 949.86,25.95 950.50,25.89 951.14,25.95 951.77,26.03 952.41,26.10 953.04,26.18 953.68,26.27 954.32,26.36 954.95,26.45 955.59,26.55 956.22,26.65 956.86,26.76 957.50,26.87 958.13,26.98 958.77,27.10 959.41,27.22 960.04,27.34 960.68,27.47 961.31,27.60 961.95,27.74 962.59,27.88 963.22,28.02 963.86,28.17 964.49,28.32 965.13,28.48 965.77,28.64 966.40,28.80 967.04,28.97 967.67,29.15 968.31,29.33 968.95,29.51 969.58,29.70 970.22,29.90 970.86,30.10 971.49,30.30 972.13,30.52 972.76,30.73 973.40,30.95 974.04,31.18 974.67,31.42 975.31,31.65 975.94,31.90 976.58,32.16 977.22,32.43 977.85,32.71 978.49,33.01 979.12,33.33 979.76,33.65 980.40,33.99 981.03,34.35 981.67,34.71 982.31,35.09 982.94,35.48 983.58,35.88 984.21,36.29 984.85,36.72 985.49,37.15 986.12,37.60 986.76,38.05 987.39,38.51 988.03,38.99 988.67,39.47 989.30,39.96 989.94,40.46 990.58,40.97 991.21,41.48 991.85,42.00 992.48,42.53 993.12,43.07 993.76,43.61 994.39,44.16 995.03,44.71 995.66,45.27 996.30,45.83 996.94,46.40 997.57,46.98 998.21,47.55 998.84,48.13 999.48,48.72 1000.12,49.30 1000.75,49.89 1001.39,50.49 1002.03,51.09 1002.66,51.71 1003.30,52.35 1003.93,53.01 1004.57,53.68 1005.21,54.37 1005.84,55.07 1006.48,55.79 1007.11,56.53 1007.75,57.27 1008.39,58.04 1009.02,58.81 1009.66,59.60 1010.29,60.39 1010.93,61.20 1011.57,62.02 1012.20,62.85 1012.84,63.69 1013.47,64.53 1014.11,65.39 1014.75,66.25 1015.38,67.12 1016.02,68.00 1016.66,68.88 1017.29,69.76 1017.93,70.65 1018.56,71.55 1019.20,72.45 1019.84,73.35 1020.47,74.25 1021.11,75.16 1021.74,76.06 1022.38,76.97 1023.02,77.88 1023.65,78.78 1024.29,79.69 1024.92,80.59 1025.56,81.49 1026.20,82.39 1026.83,83.29 1027.47,84.18 1028.11,85.08 1028.74,85.97 1029.38,86.87 1030.01,87.77 1030.65,88.68 1031.29,89.59 1031.92,90.50 1032.56,91.41 1033.19,92.33 1033.83,93.25 1034.47,94.17 1035.10,95.10 1035.74,96.03 1036.38,96.97 1037.01,97.91 1037.65,98.86 1038.28,99.81 1038.92,100.77 1039.56,101.73 1040.19,102.69 1040.83,103.67 1041.46,104.65 1042.10,105.63 1042.74,106.63 1043.37,107.62 1044.01,108.63 1044.64,109.64 1045.28,110.66 1045.92,111.69 1046.55,112.72 1047.19,113.77 1047.83,114.82 1048.46,115.88 1049.10,116.94 1049.73,118.02 1050.37,119.10 1051.01,120.20 1051.64,121.30 1052.28,122.41 1052.91,123.53 1053.55,124.67 1054.19,125.83 1054.82,127.00 1055.46,128.18 1056.09,129.38 1056.73,130.60 1057.37,131.82 1058.00,133.07 1058.64,134.32 1059.28,135.59 1059.91,136.87 1060.55,138.16 1061.18,139.46 1061.82,140.77 1062.46,142.10 1063.09,143.43 1063.73,144.77 1064.36,146.12 1065.00,147.48 1065.64,148.85 1066.27,150.22 1066.91,151.60 1067.54,152.99 1068.18,154.39 1068.82,155.79 1069.45,157.19 1070.09,158.60 1070.72,160.02 1071.36,161.44 1072.00,162.86 1072.63,164.28 1073.27,165.71 1073.91,167.14 1074.54,168.57 1075.18,170.00 1075.81,171.43 1076.45,172.86 1077.09,174.30 1077.72,175.73 1078.36,177.16 1078.99,178.58 1079.63,180.01 1080.27,181.43 1080.90,182.85 1081.54,184.27 1082.17,185.68 1082.81,187.09 1083.45,188.50 1084.08,189.90 1084.72,191.29 1085.36,192.67 1085.99,194.05 1086.63,195.43 1087.26,196.79 1087.90,198.15 1088.54,199.50 1089.17,200.83 1089.81,202.16 1090.44,203.48 1091.08,204.79 1091.72,206.09 1092.35,207.38 1092.99,208.65 1093.62,209.91 1094.26,211.16 1094.90,212.40 1095.53,213.62 1096.17,214.83 1096.81,216.04 1097.44,217.23 1098.08,218.42 1098.71,219.61 1099.35,220.78 1099.99,221.96 1100.62,223.13 1101.26,224.30 1101.89,225.47 1102.53,226.64 1103.17,227.81 1103.80,228.98 1104.44,230.16 1105.08,231.34 1105.71,232.53 1106.35,233.73 1106.98,234.93 1107.62,236.15 1108.26,237.37 1108.89,238.61 1109.53,239.85 1110.16,241.12 1110.80,242.39 1111.44,243.68 1112.07,244.99 1112.71,246.32 1113.34,247.67 1113.98,249.04 1114.62,250.44 1115.25,251.87 1115.89,253.33 1116.53,254.81 1117.16,256.31 1117.80,257.82 1118.43,259.36 1119.07,260.90 1119.71,262.46 1120.34,264.02 1120.98,265.60 1121.61,267.17 1122.25,268.75 1122.89,270.33 1123.52,271.90 1124.16,273.47 1124.79,275.04 1125.43,276.59 1126.07,278.13 1126.70,279.66 1127.34,281.17 1127.97,282.66 1128.61,284.13 1129.25,285.58 1129.88,287.00 1130.52,288.40 1131.16,289.79 1131.79,291.19 1132.43,292.62 1133.06,294.05 1133.70,295.50 1134.34,296.94 1134.97,298.39 1135.61,299.83 1136.24,301.27 1136.88,302.69 1137.52,304.10 1138.15,305.49 1138.79,306.86 1139.42,308.20 1140.06,309.52 1140.70,310.79 1141.33,312.03 1141.97,313.23 1142.61,314.39 1143.24,315.49 1143.88,316.54 1144.51,317.54 1145.15,318.47 1145.79,319.34 1146.42,320.15 1147.06,320.92 1147.69,321.68 1148.33,322.42 1148.97,323.15 1149.60,323.86 1150.24,324.56 1150.88,325.25 1151.51,325.92 1152.15,326.57 1152.78,327.22 1153.42,327.84 1154.06,328.46 1154.69,329.06 1155.33,329.65 1155.96,330.22 1156.60,330.79 1157.24,331.34 1157.87,331.87 1158.51,332.40 1159.14,332.91 1159.78,333.41 1160.42,333.89 1161.05,334.37 1161.69,334.83 1162.33,335.28 1162.96,335.72 1163.60,336.14 1164.23,336.56 1164.87,336.96 1165.51,337.35 1166.14,337.74 1166.78,338.11 1167.41,338.46 1168.05,338.81 1168.69,339.15 1169.32,339.48 1169.96,339.80 1170.59,340.12 1171.23,340.43 1171.87,340.72 1172.50,341.01 1173.14,341.29 1173.78,341.56 1174.41,341.82 1175.05,342.07 1175.68,342.31 1176.32,342.54 1176.96,342.75 1177.59,342.96 1178.23,343.15 1178.86,343.33 1179.50,343.50" fill="none" stroke="#000" stroke-width="1.0"/>
<path d="M733.3 291.8h4.6v4.6h-4.6zM742.7 289.9h4.6v4.6h-4.6zM743.7 289.7h4.6v4.6h-4.6zM750.2 288.8h4.6v4.6h-4.6zM752.6 288.5h4.6v4.6h-4.6zM753.7 288.4h4.6v4.6h-4.6zM755.3 288.3h4.6v4.6h-4.6zM756.5 288.2h4.6v4.6h-4.6zM758.8 288.1h4.6v4.6h-4.6zM760.5 287.9h4.6v4.6h-4.6zM762.5 287.8h4.6v4.6h-4.6zM764.2 287.7h4.6v4.6h-4.6zM766.3 287.5h4.6v4.6h-4.6zM767.8 287.4h4.6v4.6h-4.6zM769.4 287.3h4.6v4.6h-4.6zM771.4 287.2h4.6v4.6h-4.6zM773.4 287.0h4.6v4.6h-4.6zM775.6 286.9h4.6v4.6h-4.6zM777.0 286.7h4.6v4.6h-4.6zM779.2 286.7h4.6v4.6h-4.6zM781.2 286.7h4.6v4.6h-4.6zM783.0 286.7h4.6v4.6h-4.6zM784.6 286.7h4.6v4.6h-4.6zM786.4 286.7h4.6v4.6h-4.6zM787.5 286.7h4.6v4.6h-4.6zM788.7 286.7h4.6v4.6h-4.6zM790.1 286.7h4.6v4.6h-4.6zM791.3 286.7h4.6v4.6h-4.6zM792.4 286.7h4.6v4.6h-4.6zM794.4 286.7h4.6v4.6h-4.6zM796.4 286.7h4.6v4.6h-4.6zM798.3 286.7h4.6v4.6h-4.6zM799.6 286.7h4.6v4.6h-4.6zM801.6 286.7h4.6v4.6h-4.6zM803.7 286.7h4.6v4.6h-4.6zM805.6 286.7h4.6v4.6h-4.6zM806.9 286.7h4.6v4.6h-4.6zM808.7 286.7h4.6v4.6h-4.6zM810.2 286.7h4.6v4.6h-4.6zM811.6 286.7h4.6v4.6h-4.6zM812.9 286.7h4.6v4.6h-4.6zM815.1 286.7h4.6v4.6h-4.6zM816.9 286.7h4.6v4.6h-4.6zM819.2 286.6h4.6v4.6h-4.6zM820.5 286.6h4.6v4.6h-4.6zM821.9 286.6h4.6v4.6h-4.6zM823.6 286.6h4.6v4.6h-4.6zM824.7 286.6h4.6v4.6h-4.6zM826.1 286.6h4.6v4.6h-4.6zM827.9 286.6h4.6v4.6h-4.6zM829.5 286.6h4.6v4.6h-4.6zM831.8 286.6h4.6v4.6h-4.6zM833.6 286.6h4.6v4.6h-4.6zM835.5 286.6h4.6v4.6h-4.6zM837.3 286.6h4.6v4.6h-4.6zM839.4 286.6h4.6v4.6h-4.6zM840.9 286.6h4.6v4.6h-4.6zM841.9 286.6h4.6v4.6h-4.6zM844.3 286.6h4.6v4.6h-4.6zM846.4 286.6h4.6v4.6h-4.6zM847.6 286.6h4.6v4.6h-4.6zM848.7 286.6h4.6v4.6h-4.6zM850.1 286.6h4.6v4.6h-4.6zM852.0 286.6h4.6v4.6h-4.6zM853.2 286.6h4.6v4.6h-4.6zM854.2 286.6h4.6v4.6h-4.6zM855.9 286.6h4.6v4.6h-4.6zM856.9 286.6h4.6v4.6h-4.6zM858.3 286.6h4.6v4.6h-4.6zM859.9 286.6h4.6v4.6h-4.6zM861.2 286.6h4.6v4.6h-4.6zM862.2 286.6h4.6v4.6h-4.6zM863.5 286.6h4.6v4.6h-4.6zM864.9 286.6h4.6v4.6h-4.6zM866.4 286.6h4.6v4.6h-4.6zM867.9 286.6h4.6v4.6h-4.6zM869.5 286.6h4.6v4.6h-4.6zM870.9 286.6h4.6v4.6h-4.6zM872.0 286.6h4.6v4.6h-4.6zM874.1 286.6h4.6v4.6h-4.6zM876.1 286.6h4.6v4.6h-4.6zM877.8 286.6h4.6v4.6h-4.6zM878.9 286.6h4.6v4.6h-4.6zM880.2 286.6h4.6v4.6h-4.6zM882.4 286.6h4.6v4.6h-4.6zM884.1 286.6h4.6v4.6h-4.6zM885.4 286.6h4.6v4.6h-4.6zM887.5 286.6h4.6v4.6h-4.6zM889.7 286.6h4.6v4.6h-4.6zM890.9 286.6h4.6v4.6h-4.6zM892.6 286.6h4.6v4.6h-4.6zM894.4 286.6h4.6v4.6h-4.6zM895.6 286.6h4.6v4.6h-4.6zM897.1 286.6h4.6v4.6h-4.6zM898.9 286.6h4.6v4.6h-4.6zM900.8 286.6h4.6v4.6h-4.6zM902.7 286.5h4.6v4.6h-4.6zM904.6 286.5h4.6v4.6h-4.6zM906.1 286.5h4.6v4.6h-4.6zM915.7 286.5h4.6v4.6h-4.6zM916.7 286.5h4.6v4.6h-4.6zM918.9 286.5h4.6v4.6h-4.6zM921.1 286.5h4.6v4.6h-4.6zM923.3 286.5h4.6v4.6h-4.6zM924.5 286.5h4.6v4.6h-4.6zM926.5 286.5h4.6v4.6h-4.6zM927.8 286.5h4.6v4.6h-4.6zM929.3 286.5h4.6v4.6h-4.6zM956.8 286.5h4.6v4.6h-4.6zM959.0 286.5h4.6v4.6h-4.6zM961.1 286.5h4.6v4.6h-4.6zM963.3 286.5h4.6v4.6h-4.6zM964.8 286.5h4.6v4.6h-4.6zM976.6 286.5h4.6v4.6h-4.6zM978.0 286.5h4.6v4.6h-4.6zM979.8 286.5h4.6v4.6h-4.6zM981.7 286.5h4.6v4.6h-4.6zM983.0 286.5h4.6v4.6h-4.6zM984.6 286.4h4.6v4.6h-4.6zM985.7 286.4h4.6v4.6h-4.6zM987.8 286.4h4.6v4.6h-4.6zM989.1 286.4h4.6v4.6h-4.6zM990.3 286.4h4.6v4.6h-4.6zM991.7 286.4h4.6v4.6h-4.6zM993.6 286.4h4.6v4.6h-4.6zM995.5 286.4h4.6v4.6h-4.6zM997.2 286.4h4.6v4.6h-4.6zM999.4 286.4h4.6v4.6h-4.6zM1001.5 286.4h4.6v4.6h-4.6zM1002.8 286.4h4.6v4.6h-4.6zM1004.5 286.4h4.6v4.6h-4.6zM1005.8 286.4h4.6v4.6h-4.6zM1007.1 286.4h4.6v4.6h-4.6zM1008.3 286.4h4.6v4.6h-4.6zM1009.5 286.4h4.6v4.6h-4.6zM1010.9 286.4h4.6v4.6h-4.6zM1013.2 286.4h4.6v4.6h-4.6zM1015.1 286.4h4.6v4.6h-4.6zM1016.2 286.4h4.6v4.6h-4.6zM1017.5 286.4h4.6v4.6h-4.6zM1019.4 286.4h4.6v4.6h-4.6zM1021.1 286.4h4.6v4.6h-4.6zM1024.3 286.4h4.6v4.6h-4.6zM1027.7 286.4h4.6v4.6h-4.6zM1033.1 286.4h4.6v4.6h-4.6zM1038.6 286.4h4.6v4.6h-4.6zM1042.0 286.4h4.6v4.6h-4.6zM1048.2 286.4h4.6v4.6h-4.6zM1052.2 286.4h4.6v4.6h-4.6zM1057.7 286.4h4.6v4.6h-4.6zM1062.9 286.4h4.6v4.6h-4.6zM1067.4 286.3h4.6v4.6h-4.6zM1074.3 286.3h4.6v4.6h-4.6zM1079.0 286.3h4.6v4.6h-4.6zM1083.8 286.3h4.6v4.6h-4.6zM1089.0 286.3h4.6v4.6h-4.6zM1095.5 286.3h4.6v4.6h-4.6zM1102.6 286.3h4.6v4.6h-4.6zM1108.8 286.4h4.6v4.6h-4.6zM1114.1 286.7h4.6v4.6h-4.6zM1120.0 287.1h4.6v4.6h-4.6zM1123.7 287.3h4.6v4.6h-4.6zM1128.2 287.6h4.6v4.6h-4.6zM1132.8 287.9h4.6v4.6h-4.6zM1136.7 288.1h4.6v4.6h-4.6zM1139.3 288.3h4.6v4.6h-4.6zM1142.8 288.5h4.6v4.6h-4.6zM1145.9 288.7h4.6v4.6h-4.6zM1148.5 288.9h4.6v4.6h-4.6zM1160.2 289.7h4.6v4.6h-4.6zM1161.0 289.7h4.6v4.6h-4.6zM1167.3 290.2h4.6v4.6h-4.6zM1168.1 290.3h4.6v4.6h-4.6z" fill="none" stroke="#999" stroke-width="0.9"/>
<path d="M727.4 321.2a2.2 2.2 0 1 0 4.4 0a2.2 2.2 0 1 0 -4.4 0M733.4 321.2a2.2 2.2 0 1 0 4.4 0a2.2 2.2 0 1 0 -4.4 0M742.1 321.2a2.2 2.2 0 1 0 4.4 0a2.2 2.2 0 1 0 -4.4 0M745.4 321.2a2.2 2.2 0 1 0 4.4 0a2.2 2.2 0 1 0 -4.4 0M752.8 321.2a2.2 2.2 0 1 0 4.4 0a2.2 2.2 0 1 0 -4.4 0M754.1 321.2a2.2 2.2 0 1 0 4.4 0a2.2 2.2 0 1 0 -4.4 0M756.1 321.2a2.2 2.2 0 1 0 4.4 0a2.2 2.2 0 1 0 -4.4 0M757.8 321.2a2.2 2.2 0 1 0 4.4 0a2.2 2.2 0 1 0 -4.4 0M759.4 321.2a2.2 2.2 0 1 0 4.4 0a2.2 2.2 0 1 0 -4.4 0M761.4 321.2a2.2 2.2 0 1 0 4.4 0a2.2 2.2 0 1 0 -4.4 0M763.4 321.2a2.2 2.2 0 1 0 4.4 0a2.2 2.2 0 1 0 -4.4 0M765.7 321.2a2.2 2.2 0 1 0 4.4 0a2.2 2.2 0 1 0 -4.4 0M768.1 321.2a2.2 2.2 0 1 0 4.4 0a2.2 2.2 0 1 0 -4.4 0M770.2 321.2a2.2 2.2 0 1 0 4.4 0a2.2 2.2 0 1 0 -4.4 0M771.6 321.2a2.2 2.2 0 1 0 4.4 0a2.2 2.2 0 1 0 -4.4 0M773.5 321.2a2.2 2.2 0 1 0 4.4 0a2.2 2.2 0 1 0 -4.4 0M775.2 321.2a2.2 2.2 0 1 0 4.4 0a2.2 2.2 0 1 0 -4.4 0M777.5 321.2a2.2 2.2 0 1 0 4.4 0a2.2 2.2 0 1 0 -4.4 0M779.2 321.2a2.2 2.2 0 1 0 4.4 0a2.2 2.2 0 1 0 -4.4 0M780.7 321.2a2.2 2.2 0 1 0 4.4 0a2.2 2.2 0 1 0 -4.4 0M781.7 321.2a2.2 2.2 0 1 0 4.4 0a2.2 2.2 0 1 0 -4.4 0M783.4 321.2a2.2 2.2 0 1 0 4.4 0a2.2 2.2 0 1 0 -4.4 0M785.1 321.2a2.2 2.2 0 1 0 4.4 0a2.2 2.2 0 1 0 -4.4 0M786.6 321.2a2.2 2.2 0 1 0 4.4 0a2.2 2.2 0 1 0 -4.4 0M787.7 321.2a2.2 2.2 0 1 0 4.4 0a2.2 2.2 0 1 0 -4.4 0M789.4 321.2a2.2 2.2 0 1 0 4.4 0a2.2 2.2 0 1 0 -4.4 0M790.5 321.2a2.2 2.2 0 1 0 4.4 0a2.2 2.2 0 1 0 -4.4 0M791.8 321.2a2.2 2.2 0 1 0 4.4 0a2.2 2.2 0 1 0 -4.4 0M793.4 321.2a2.2 2.2 0 1 0 4.4 0a2.2 2.2 0 1 0 -4.4 0M794.9 321.2a2.2 2.2 0 1 0 4.4 0a2.2 2.2 0 1 0 -4.4 0M796.6 321.2a2.2 2.2 0 1 0 4.4 0a2.2 2.2 0 1 0 -4.4 0M798.3 321.2a2.2 2.2 0 1 0 4.4 0a2.2 2.2 0 1 0 -4.4 0M799.9 321.2a2.2 2.2 0 1 0 4.4 0a2.2 2.2 0 1 0 -4.4 0M801.1 321.2a2.2 2.2 0 1 0 4.4 0a2.2 2.2 0 1 0 -4.4 0M802.1 321.2a2.2 2.2 0 1 0 4.4 0a2.2 2.2 0 1 0 -4.4 0M803.9 321.2a2.2 2.2 0 1 0 4.4 0a2.2 2.2 0 1 0 -4.4 0M806.2 321.2a2.2 2.2 0 1 0 4.4 0a2.2 2.2 0 1 0 -4.4 0M807.7 321.2a2.2 2.2 0 1 0 4.4 0a2.2 2.2 0 1 0 -4.4 0M809.2 321.2a2.2 2.2 0 1 0 4.4 0a2.2 2.2 0 1 0 -4.4 0M810.6 321.2a2.2 2.2 0 1 0 4.4 0a2.2 2.2 0 1 0 -4.4 0M812.6 321.2a2.2 2.2 0 1 0 4.4 0a2.2 2.2 0 1 0 -4.4 0M814.3 321.2a2.2 2.2 0 1 0 4.4 0a2.2 2.2 0 1 0 -4.4 0M816.4 321.2a2.2 2.2 0 1 0 4.4 0a2.2 2.2 0 1 0 -4.4 0M817.5 321.2a2.2 2.2 0 1 0 4.4 0a2.2 2.2 0 1 0 -4.4 0M818.7 321.2a2.2 2.2 0 1 0 4.4 0a2.2 2.2 0 1 0 -4.4 0M820.0 321.2a2.2 2.2 0 1 0 4.4 0a2.2 2.2 0 1 0 -4.4 0M821.5 321.2a2.2 2.2 0 1 0 4.4 0a2.2 2.2 0 1 0 -4.4 0M823.0 321.2a2.2 2.2 0 1 0 4.4 0a2.2 2.2 0 1 0 -4.4 0M824.6 321.2a2.2 2.2 0 1 0 4.4 0a2.2 2.2 0 1 0 -4.4 0M826.9 321.2a2.2 2.2 0 1 0 4.4 0a2.2 2.2 0 1 0 -4.4 0M828.5 321.2a2.2 2.2 0 1 0 4.4 0a2.2 2.2 0 1 0 -4.4 0M830.3 321.2a2.2 2.2 0 1 0 4.4 0a2.2 2.2 0 1 0 -4.4 0M832.7 321.2a2.2 2.2 0 1 0 4.4 0a2.2 2.2 0 1 0 -4.4 0M834.6 321.2a2.2 2.2 0 1 0 4.4 0a2.2 2.2 0 1 0 -4.4 0M836.4 321.2a2.2 2.2 0 1 0 4.4 0a2.2 2.2 0 1 0 -4.4 0M838.5 321.2a2.2 2.2 0 1 0 4.4 0a2.2 2.2 0 1 0 -4.4 0M840.0 321.2a2.2 2.2 0 1 0 4.4 0a2.2 2.2 0 1 0 -4.4 0M841.1 321.2a2.2 2.2 0 1 0 4.4 0a2.2 2.2 0 1 0 -4.4 0M843.4 321.2a2.2 2.2 0 1 0 4.4 0a2.2 2.2 0 1 0 -4.4 0M845.1 321.2a2.2 2.2 0 1 0 4.4 0a2.2 2.2 0 1 0 -4.4 0M847.0 321.2a2.2 2.2 0 1 0 4.4 0a2.2 2.2 0 1 0 -4.4 0M848.1 321.2a2.2 2.2 0 1 0 4.4 0a2.2 2.2 0 1 0 -4.4 0M850.1 321.2a2.2 2.2 0 1 0 4.4 0a2.2 2.2 0 1 0 -4.4 0M851.6 321.2a2.2 2.2 0 1 0 4.4 0a2.2 2.2 0 1 0 -4.4 0M853.5 321.2a2.2 2.2 0 1 0 4.4 0a2.2 2.2 0 1 0 -4.4 0M854.9 321.2a2.2 2.2 0 1 0 4.4 0a2.2 2.2 0 1 0 -4.4 0M857.2 321.2a2.2 2.2 0 1 0 4.4 0a2.2 2.2 0 1 0 -4.4 0M858.7 321.2a2.2 2.2 0 1 0 4.4 0a2.2 2.2 0 1 0 -4.4 0M860.1 321.2a2.2 2.2 0 1 0 4.4 0a2.2 2.2 0 1 0 -4.4 0M862.4 321.2a2.2 2.2 0 1 0 4.4 0a2.2 2.2 0 1 0 -4.4 0M863.7 321.2a2.2 2.2 0 1 0 4.4 0a2.2 2.2 0 1 0 -4.4 0M865.1 321.2a2.2 2.2 0 1 0 4.4 0a2.2 2.2 0 1 0 -4.4 0M866.7 321.2a2.2 2.2 0 1 0 4.4 0a2.2 2.2 0 1 0 -4.4 0M869.1 321.2a2.2 2.2 0 1 0 4.4 0a2.2 2.2 0 1 0 -4.4 0M870.3 321.2a2.2 2.2 0 1 0 4.4 0a2.2 2.2 0 1 0 -4.4 0M871.6 321.2a2.2 2.2 0 1 0 4.4 0a2.2 2.2 0 1 0 -4.4 0M873.7 321.2a2.2 2.2 0 1 0 4.4 0a2.2 2.2 0 1 0 -4.4 0M874.8 321.2a2.2 2.2 0 1 0 4.4 0a2.2 2.2 0 1 0 -4.4 0M876.4 321.2a2.2 2.2 0 1 0 4.4 0a2.2 2.2 0 1 0 -4.4 0M878.5 321.2a2.2 2.2 0 1 0 4.4 0a2.2 2.2 0 1 0 -4.4 0M880.5 321.2a2.2 2.2 0 1 0 4.4 0a2.2 2.2 0 1 0 -4.4 0M882.6 321.2a2.2 2.2 0 1 0 4.4 0a2.2 2.2 0 1 0 -4.4 0M883.7 321.2a2.2 2.2 0 1 0 4.4 0a2.2 2.2 0 1 0 -4.4 0M886.0 321.2a2.2 2.2 0 1 0 4.4 0a2.2 2.2 0 1 0 -4.4 0M887.5 321.2a2.2 2.2 0 1 0 4.4 0a2.2 2.2 0 1 0 -4.4 0M889.6 321.2a2.2 2.2 0 1 0 4.4 0a2.2 2.2 0 1 0 -4.4 0M891.3 321.2a2.2 2.2 0 1 0 4.4 0a2.2 2.2 0 1 0 -4.4 0M893.5 321.2a2.2 2.2 0 1 0 4.4 0a2.2 2.2 0 1 0 -4.4 0M895.2 321.2a2.2 2.2 0 1 0 4.4 0a2.2 2.2 0 1 0 -4.4 0M896.5 321.2a2.2 2.2 0 1 0 4.4 0a2.2 2.2 0 1 0 -4.4 0M897.8 321.2a2.2 2.2 0 1 0 4.4 0a2.2 2.2 0 1 0 -4.4 0M899.5 321.2a2.2 2.2 0 1 0 4.4 0a2.2 2.2 0 1 0 -4.4 0M900.6 321.2a2.2 2.2 0 1 0 4.4 0a2.2 2.2 0 1 0 -4.4 0M901.8 321.2a2.2 2.2 0 1 0 4.4 0a2.2 2.2 0 1 0 -4.4 0M904.0 321.2a2.2 2.2 0 1 0 4.4 0a2.2 2.2 0 1 0 -4.4 0M905.8 321.2a2.2 2.2 0 1 0 4.4 0a2.2 2.2 0 1 0 -4.4 0M908.0 321.2a2.2 2.2 0 1 0 4.4 0a2.2 2.2 0 1 0 -4.4 0M909.2 321.2a2.2 2.2 0 1 0 4.4 0a2.2 2.2 0 1 0 -4.4 0M919.7 321.2a2.2 2.2 0 1 0 4.4 0a2.2 2.2 0 1 0 -4.4 0M921.4 321.2a2.2 2.2 0 1 0 4.4 0a2.2 2.2 0 1 0 -4.4 0M922.5 321.2a2.2 2.2 0 1 0 4.4 0a2.2 2.2 0 1 0 -4.4 0M923.9 321.2a2.2 2.2 0 1 0 4.4 0a2.2 2.2 0 1 0 -4.4 0M926.2 321.2a2.2 2.2 0 1 0 4.4 0a2.2 2.2 0 1 0 -4.4 0M928.2 321.2a2.2 2.2 0 1 0 4.4 0a2.2 2.2 0 1 0 -4.4 0M929.9 321.2a2.2 2.2 0 1 0 4.4 0a2.2 2.2 0 1 0 -4.4 0M931.7 321.2a2.2 2.2 0 1 0 4.4 0a2.2 2.2 0 1 0 -4.4 0M963.9 321.2a2.2 2.2 0 1 0 4.4 0a2.2 2.2 0 1 0 -4.4 0M966.2 321.2a2.2 2.2 0 1 0 4.4 0a2.2 2.2 0 1 0 -4.4 0M968.0 321.2a2.2 2.2 0 1 0 4.4 0a2.2 2.2 0 1 0 -4.4 0M969.1 321.2a2.2 2.2 0 1 0 4.4 0a2.2 2.2 0 1 0 -4.4 0M971.3 321.2a2.2 2.2 0 1 0 4.4 0a2.2 2.2 0 1 0 -4.4 0M972.6 321.2a2.2 2.2 0 1 0 4.4 0a2.2 2.2 0 1 0 -4.4 0M973.9 321.2a2.2 2.2 0 1 0 4.4 0a2.2 2.2 0 1 0 -4.4 0M975.1 321.2a2.2 2.2 0 1 0 4.4 0a2.2 2.2 0 1 0 -4.4 0M976.9 321.2a2.2 2.2 0 1 0 4.4 0a2.2 2.2 0 1 0 -4.4 0M978.7 321.2a2.2 2.2 0 1 0 4.4 0a2.2 2.2 0 1 0 -4.4 0M980.3 321.2a2.2 2.2 0 1 0 4.4 0a2.2 2.2 0 1 0 -4.4 0M982.0 321.2a2.2 2.2 0 1 0 4.4 0a2.2 2.2 0 1 0 -4.4 0M983.2 321.2a2.2 2.2 0 1 0 4.4 0a2.2 2.2 0 1 0 -4.4 0M985.2 321.2a2.2 2.2 0 1 0 4.4 0a2.2 2.2 0 1 0 -4.4 0M986.9 321.2a2.2 2.2 0 1 0 4.4 0a2.2 2.2 0 1 0 -4.4 0M988.4 321.2a2.2 2.2 0 1 0 4.4 0a2.2 2.2 0 1 0 -4.4 0M990.5 321.2a2.2 2.2 0 1 0 4.4 0a2.2 2.2 0 1 0 -4.4 0M992.8 321.2a2.2 2.2 0 1 0 4.4 0a2.2 2.2 0 1 0 -4.4 0M995.1 321.2a2.2 2.2 0 1 0 4.4 0a2.2 2.2 0 1 0 -4.4 0M997.5 321.2a2.2 2.2 0 1 0 4.4 0a2.2 2.2 0 1 0 -4.4 0M998.6 321.2a2.2 2.2 0 1 0 4.4 0a2.2 2.2 0 1 0 -4.4 0M1000.1 321.2a2.2 2.2 0 1 0 4.4 0a2.2 2.2 0 1 0 -4.4 0M1001.7 321.2a2.2 2.2 0 1 0 4.4 0a2.2 2.2 0 1 0 -4.4 0M1003.1 321.2a2.2 2.2 0 1 0 4.4 0a2.2 2.2 0 1 0 -4.4 0M1005.1 321.2a2.2 2.2 0 1 0 4.4 0a2.2 2.2 0 1 0 -4.4 0M1007.4 321.2a2.2 2.2 0 1 0 4.4 0a2.2 2.2 0 1 0 -4.4 0M1008.6 321.2a2.2 2.2 0 1 0 4.4 0a2.2 2.2 0 1 0 -4.4 0M1010.3 321.2a2.2 2.2 0 1 0 4.4 0a2.2 2.2 0 1 0 -4.4 0M1012.7 321.2a2.2 2.2 0 1 0 4.4 0a2.2 2.2 0 1 0 -4.4 0M1014.9 321.2a2.2 2.2 0 1 0 4.4 0a2.2 2.2 0 1 0 -4.4 0M1018.7 321.2a2.2 2.2 0 1 0 4.4 0a2.2 2.2 0 1 0 -4.4 0M1021.5 321.2a2.2 2.2 0 1 0 4.4 0a2.2 2.2 0 1 0 -4.4 0M1025.3 321.2a2.2 2.2 0 1 0 4.4 0a2.2 2.2 0 1 0 -4.4 0M1029.4 321.2a2.2 2.2 0 1 0 4.4 0a2.2 2.2 0 1 0 -4.4 0M1034.3 321.2a2.2 2.2 0 1 0 4.4 0a2.2 2.2 0 1 0 -4.4 0M1037.3 321.2a2.2 2.2 0 1 0 4.4 0a2.2 2.2 0 1 0 -4.4 0M1040.6 321.2a2.2 2.2 0 1 0 4.4 0a2.2 2.2 0 1 0 -4.4 0M1046.1 321.2a2.2 2.2 0 1 0 4.4 0a2.2 2.2 0 1 0 -4.4 0M1049.2 321.2a2.2 2.2 0 1 0 4.4 0a2.2 2.2 0 1 0 -4.4 0M1054.8 321.2a2.2 2.2 0 1 0 4.4 0a2.2 2.2 0 1 0 -4.4 0M1058.2 321.2a2.2 2.2 0 1 0 4.4 0a2.2 2.2 0 1 0 -4.4 0M1064.4 321.2a2.2 2.2 0 1 0 4.4 0a2.2 2.2 0 1 0 -4.4 0M1069.1 321.2a2.2 2.2 0 1 0 4.4 0a2.2 2.2 0 1 0 -4.4 0M1076.0 321.2a2.2 2.2 0 1 0 4.4 0a2.2 2.2 0 1 0 -4.4 0M1080.0 321.2a2.2 2.2 0 1 0 4.4 0a2.2 2.2 0 1 0 -4.4 0M1086.6 321.2a2.2 2.2 0 1 0 4.4 0a2.2 2.2 0 1 0 -4.4 0M1090.6 321.2a2.2 2.2 0 1 0 4.4 0a2.2 2.2 0 1 0 -4.4 0M1093.8 321.2a2.2 2.2 0 1 0 4.4 0a2.2 2.2 0 1 0 -4.4 0M1097.3 321.2a2.2 2.2 0 1 0 4.4 0a2.2 2.2 0 1 0 -4.4 0M1100.6 321.2a2.2 2.2 0 1 0 4.4 0a2.2 2.2 0 1 0 -4.4 0M1105.3 321.2a2.2 2.2 0 1 0 4.4 0a2.2 2.2 0 1 0 -4.4 0M1112.3 321.2a2.2 2.2 0 1 0 4.4 0a2.2 2.2 0 1 0 -4.4 0M1116.8 321.2a2.2 2.2 0 1 0 4.4 0a2.2 2.2 0 1 0 -4.4 0M1122.8 321.2a2.2 2.2 0 1 0 4.4 0a2.2 2.2 0 1 0 -4.4 0M1126.0 321.2a2.2 2.2 0 1 0 4.4 0a2.2 2.2 0 1 0 -4.4 0M1128.6 321.2a2.2 2.2 0 1 0 4.4 0a2.2 2.2 0 1 0 -4.4 0M1131.3 321.2a2.2 2.2 0 1 0 4.4 0a2.2 2.2 0 1 0 -4.4 0M1133.1 321.2a2.2 2.2 0 1 0 4.4 0a2.2 2.2 0 1 0 -4.4 0M1135.8 321.2a2.2 2.2 0 1 0 4.4 0a2.2 2.2 0 1 0 -4.4 0M1138.3 321.2a2.2 2.2 0 1 0 4.4 0a2.2 2.2 0 1 0 -4.4 0M1140.6 321.2a2.2 2.2 0 1 0 4.4 0a2.2 2.2 0 1 0 -4.4 0M1143.8 321.2a2.2 2.2 0 1 0 4.4 0a2.2 2.2 0 1 0 -4.4 0M1146.8 321.2a2.2 2.2 0 1 0 4.4 0a2.2 2.2 0 1 0 -4.4 0M1148.7 321.2a2.2 2.2 0 1 0 4.4 0a2.2 2.2 0 1 0 -4.4 0M1150.4 321.2a2.2 2.2 0 1 0 4.4 0a2.2 2.2 0 1 0 -4.4 0M1152.1 321.2a2.2 2.2 0 1 0 4.4 0a2.2 2.2 0 1 0 -4.4 0M1154.2 321.2a2.2 2.2 0 1 0 4.4 0a2.2 2.2 0 1 0 -4.4 0M1172.2 321.2a2.2 2.2 0 1 0 4.4 0a2.2 2.2 0 1 0 -4.4 0" fill="none" stroke="#999" stroke-width="0.9"/>
<path d="M750.4 323.3a2.45 2.45 0 1 0 4.9 0a2.45 2.45 0 1 0 -4.9 0M836.3 156.8a2.45 2.45 0 1 0 4.9 0a2.45 2.45 0 1 0 -4.9 0M804.2 213.5a2.45 2.45 0 1 0 4.9 0a2.45 2.45 0 1 0 -4.9 0M897.6 57.8a2.45 2.45 0 1 0 4.9 0a2.45 2.45 0 1 0 -4.9 0M803.1 219.3a2.45 2.45 0 1 0 4.9 0a2.45 2.45 0 1 0 -4.9 0M750.9 321.8a2.45 2.45 0 1 0 4.9 0a2.45 2.45 0 1 0 -4.9 0M884.3 68.8a2.45 2.45 0 1 0 4.9 0a2.45 2.45 0 1 0 -4.9 0M752.4 323.8a2.45 2.45 0 1 0 4.9 0a2.45 2.45 0 1 0 -4.9 0M817.8 198.6a2.45 2.45 0 1 0 4.9 0a2.45 2.45 0 1 0 -4.9 0M806.1 221.3a2.45 2.45 0 1 0 4.9 0a2.45 2.45 0 1 0 -4.9 0M824.2 179.7a2.45 2.45 0 1 0 4.9 0a2.45 2.45 0 1 0 -4.9 0M888.9 59.3a2.45 2.45 0 1 0 4.9 0a2.45 2.45 0 1 0 -4.9 0M926.0 34.0a2.45 2.45 0 1 0 4.9 0a2.45 2.45 0 1 0 -4.9 0M822.3 192.6a2.45 2.45 0 1 0 4.9 0a2.45 2.45 0 1 0 -4.9 0M889.9 63.0a2.45 2.45 0 1 0 4.9 0a2.45 2.45 0 1 0 -4.9 0M747.8 321.3a2.45 2.45 0 1 0 4.9 0a2.45 2.45 0 1 0 -4.9 0M845.0 136.1a2.45 2.45 0 1 0 4.9 0a2.45 2.45 0 1 0 -4.9 0M899.5 50.1a2.45 2.45 0 1 0 4.9 0a2.45 2.45 0 1 0 -4.9 0M865.2 86.3a2.45 2.45 0 1 0 4.9 0a2.45 2.45 0 1 0 -4.9 0M784.3 270.5a2.45 2.45 0 1 0 4.9 0a2.45 2.45 0 1 0 -4.9 0M831.1 175.0a2.45 2.45 0 1 0 4.9 0a2.45 2.45 0 1 0 -4.9 0M808.4 213.5a2.45 2.45 0 1 0 4.9 0a2.45 2.45 0 1 0 -4.9 0M834.4 153.9a2.45 2.45 0 1 0 4.9 0a2.45 2.45 0 1 0 -4.9 0M877.5 76.1a2.45 2.45 0 1 0 4.9 0a2.45 2.45 0 1 0 -4.9 0M829.5 176.2a2.45 2.45 0 1 0 4.9 0a2.45 2.45 0 1 0 -4.9 0M830.6 170.9a2.45 2.45 0 1 0 4.9 0a2.45 2.45 0 1 0 -4.9 0M888.0 65.3a2.45 2.45 0 1 0 4.9 0a2.45 2.45 0 1 0 -4.9 0M798.6 232.9a2.45 2.45 0 1 0 4.9 0a2.45 2.45 0 1 0 -4.9 0M868.0 92.2a2.45 2.45 0 1 0 4.9 0a2.45 2.45 0 1 0 -4.9 0M790.5 259.3a2.45 2.45 0 1 0 4.9 0a2.45 2.45 0 1 0 -4.9 0M858.5 103.9a2.45 2.45 0 1 0 4.9 0a2.45 2.45 0 1 0 -4.9 0M789.1 258.5a2.45 2.45 0 1 0 4.9 0a2.45 2.45 0 1 0 -4.9 0M914.2 36.8a2.45 2.45 0 1 0 4.9 0a2.45 2.45 0 1 0 -4.9 0M883.3 67.4a2.45 2.45 0 1 0 4.9 0a2.45 2.45 0 1 0 -4.9 0M794.4 238.4a2.45 2.45 0 1 0 4.9 0a2.45 2.45 0 1 0 -4.9 0M827.8 179.9a2.45 2.45 0 1 0 4.9 0a2.45 2.45 0 1 0 -4.9 0M837.4 152.4a2.45 2.45 0 1 0 4.9 0a2.45 2.45 0 1 0 -4.9 0M831.0 164.7a2.45 2.45 0 1 0 4.9 0a2.45 2.45 0 1 0 -4.9 0M862.6 99.1a2.45 2.45 0 1 0 4.9 0a2.45 2.45 0 1 0 -4.9 0M803.8 227.5a2.45 2.45 0 1 0 4.9 0a2.45 2.45 0 1 0 -4.9 0M835.7 158.4a2.45 2.45 0 1 0 4.9 0a2.45 2.45 0 1 0 -4.9 0M773.0 292.3a2.45 2.45 0 1 0 4.9 0a2.45 2.45 0 1 0 -4.9 0M808.5 212.4a2.45 2.45 0 1 0 4.9 0a2.45 2.45 0 1 0 -4.9 0M829.9 171.3a2.45 2.45 0 1 0 4.9 0a2.45 2.45 0 1 0 -4.9 0M840.5 145.6a2.45 2.45 0 1 0 4.9 0a2.45 2.45 0 1 0 -4.9 0M808.9 214.9a2.45 2.45 0 1 0 4.9 0a2.45 2.45 0 1 0 -4.9 0M819.8 192.0a2.45 2.45 0 1 0 4.9 0a2.45 2.45 0 1 0 -4.9 0M760.9 308.2a2.45 2.45 0 1 0 4.9 0a2.45 2.45 0 1 0 -4.9 0M834.1 151.9a2.45 2.45 0 1 0 4.9 0a2.45 2.45 0 1 0 -4.9 0M862.3 94.0a2.45 2.45 0 1 0 4.9 0a2.45 2.45 0 1 0 -4.9 0M940.8 27.9a2.45 2.45 0 1 0 4.9 0a2.45 2.45 0 1 0 -4.9 0M801.2 223.7a2.45 2.45 0 1 0 4.9 0a2.45 2.45 0 1 0 -4.9 0M897.2 50.2a2.45 2.45 0 1 0 4.9 0a2.45 2.45 0 1 0 -4.9 0M906.3 43.8a2.45 2.45 0 1 0 4.9 0a2.45 2.45 0 1 0 -4.9 0M768.8 294.7a2.45 2.45 0 1 0 4.9 0a2.45 2.45 0 1 0 -4.9 0M818.4 189.7a2.45 2.45 0 1 0 4.9 0a2.45 2.45 0 1 0 -4.9 0M828.5 167.3a2.45 2.45 0 1 0 4.9 0a2.45 2.45 0 1 0 -4.9 0M794.7 250.7a2.45 2.45 0 1 0 4.9 0a2.45 2.45 0 1 0 -4.9 0M838.8 150.2a2.45 2.45 0 1 0 4.9 0a2.45 2.45 0 1 0 -4.9 0M850.2 128.6a2.45 2.45 0 1 0 4.9 0a2.45 2.45 0 1 0 -4.9 0M890.1 60.6a2.45 2.45 0 1 0 4.9 0a2.45 2.45 0 1 0 -4.9 0M836.3 162.8a2.45 2.45 0 1 0 4.9 0a2.45 2.45 0 1 0 -4.9 0M927.5 32.7a2.45 2.45 0 1 0 4.9 0a2.45 2.45 0 1 0 -4.9 0M767.1 296.2a2.45 2.45 0 1 0 4.9 0a2.45 2.45 0 1 0 -4.9 0M804.3 225.7a2.45 2.45 0 1 0 4.9 0a2.45 2.45 0 1 0 -4.9 0M791.4 251.8a2.45 2.45 0 1 0 4.9 0a2.45 2.45 0 1 0 -4.9 0M912.1 40.4a2.45 2.45 0 1 0 4.9 0a2.45 2.45 0 1 0 -4.9 0M828.4 176.7a2.45 2.45 0 1 0 4.9 0a2.45 2.45 0 1 0 -4.9 0M829.4 167.2a2.45 2.45 0 1 0 4.9 0a2.45 2.45 0 1 0 -4.9 0M818.7 194.8a2.45 2.45 0 1 0 4.9 0a2.45 2.45 0 1 0 -4.9 0M860.8 98.2a2.45 2.45 0 1 0 4.9 0a2.45 2.45 0 1 0 -4.9 0M795.4 246.6a2.45 2.45 0 1 0 4.9 0a2.45 2.45 0 1 0 -4.9 0M748.8 321.2a2.45 2.45 0 1 0 4.9 0a2.45 2.45 0 1 0 -4.9 0M806.3 216.4a2.45 2.45 0 1 0 4.9 0a2.45 2.45 0 1 0 -4.9 0M820.7 191.1a2.45 2.45 0 1 0 4.9 0a2.45 2.45 0 1 0 -4.9 0M755.4 317.5a2.45 2.45 0 1 0 4.9 0a2.45 2.45 0 1 0 -4.9 0M851.4 123.8a2.45 2.45 0 1 0 4.9 0a2.45 2.45 0 1 0 -4.9 0M790.5 260.3a2.45 2.45 0 1 0 4.9 0a2.45 2.45 0 1 0 -4.9 0M823.5 192.2a2.45 2.45 0 1 0 4.9 0a2.45 2.45 0 1 0 -4.9 0M788.1 260.6a2.45 2.45 0 1 0 4.9 0a2.45 2.45 0 1 0 -4.9 0M832.1 169.7a2.45 2.45 0 1 0 4.9 0a2.45 2.45 0 1 0 -4.9 0M890.7 59.4a2.45 2.45 0 1 0 4.9 0a2.45 2.45 0 1 0 -4.9 0M881.6 72.7a2.45 2.45 0 1 0 4.9 0a2.45 2.45 0 1 0 -4.9 0M916.6 36.9a2.45 2.45 0 1 0 4.9 0a2.45 2.45 0 1 0 -4.9 0M856.3 103.5a2.45 2.45 0 1 0 4.9 0a2.45 2.45 0 1 0 -4.9 0M736.8 335.6a2.45 2.45 0 1 0 4.9 0a2.45 2.45 0 1 0 -4.9 0M798.3 242.3a2.45 2.45 0 1 0 4.9 0a2.45 2.45 0 1 0 -4.9 0M846.2 131.1a2.45 2.45 0 1 0 4.9 0a2.45 2.45 0 1 0 -4.9 0M824.7 184.3a2.45 2.45 0 1 0 4.9 0a2.45 2.45 0 1 0 -4.9 0M743.3 329.6a2.45 2.45 0 1 0 4.9 0a2.45 2.45 0 1 0 -4.9 0M796.3 243.2a2.45 2.45 0 1 0 4.9 0a2.45 2.45 0 1 0 -4.9 0M925.3 33.5a2.45 2.45 0 1 0 4.9 0a2.45 2.45 0 1 0 -4.9 0M736.4 330.2a2.45 2.45 0 1 0 4.9 0a2.45 2.45 0 1 0 -4.9 0M835.2 156.8a2.45 2.45 0 1 0 4.9 0a2.45 2.45 0 1 0 -4.9 0M896.1 53.1a2.45 2.45 0 1 0 4.9 0a2.45 2.45 0 1 0 -4.9 0M776.6 281.5a2.45 2.45 0 1 0 4.9 0a2.45 2.45 0 1 0 -4.9 0M819.0 193.0a2.45 2.45 0 1 0 4.9 0a2.45 2.45 0 1 0 -4.9 0M790.4 253.6a2.45 2.45 0 1 0 4.9 0a2.45 2.45 0 1 0 -4.9 0M866.1 92.8a2.45 2.45 0 1 0 4.9 0a2.45 2.45 0 1 0 -4.9 0M928.7 32.0a2.45 2.45 0 1 0 4.9 0a2.45 2.45 0 1 0 -4.9 0M868.7 88.6a2.45 2.45 0 1 0 4.9 0a2.45 2.45 0 1 0 -4.9 0M852.6 113.8a2.45 2.45 0 1 0 4.9 0a2.45 2.45 0 1 0 -4.9 0M823.6 187.0a2.45 2.45 0 1 0 4.9 0a2.45 2.45 0 1 0 -4.9 0M846.6 139.0a2.45 2.45 0 1 0 4.9 0a2.45 2.45 0 1 0 -4.9 0M823.8 183.6a2.45 2.45 0 1 0 4.9 0a2.45 2.45 0 1 0 -4.9 0M906.7 42.4a2.45 2.45 0 1 0 4.9 0a2.45 2.45 0 1 0 -4.9 0M829.8 174.5a2.45 2.45 0 1 0 4.9 0a2.45 2.45 0 1 0 -4.9 0M842.5 134.7a2.45 2.45 0 1 0 4.9 0a2.45 2.45 0 1 0 -4.9 0M730.7 336.1a2.45 2.45 0 1 0 4.9 0a2.45 2.45 0 1 0 -4.9 0M744.6 327.5a2.45 2.45 0 1 0 4.9 0a2.45 2.45 0 1 0 -4.9 0M792.2 244.4a2.45 2.45 0 1 0 4.9 0a2.45 2.45 0 1 0 -4.9 0M879.9 68.4a2.45 2.45 0 1 0 4.9 0a2.45 2.45 0 1 0 -4.9 0M773.6 289.2a2.45 2.45 0 1 0 4.9 0a2.45 2.45 0 1 0 -4.9 0M846.1 127.5a2.45 2.45 0 1 0 4.9 0a2.45 2.45 0 1 0 -4.9 0M826.6 181.4a2.45 2.45 0 1 0 4.9 0a2.45 2.45 0 1 0 -4.9 0M727.8 338.4a2.45 2.45 0 1 0 4.9 0a2.45 2.45 0 1 0 -4.9 0M864.5 98.1a2.45 2.45 0 1 0 4.9 0a2.45 2.45 0 1 0 -4.9 0M860.9 103.7a2.45 2.45 0 1 0 4.9 0a2.45 2.45 0 1 0 -4.9 0M878.0 79.5a2.45 2.45 0 1 0 4.9 0a2.45 2.45 0 1 0 -4.9 0M872.0 85.0a2.45 2.45 0 1 0 4.9 0a2.45 2.45 0 1 0 -4.9 0M876.5 73.9a2.45 2.45 0 1 0 4.9 0a2.45 2.45 0 1 0 -4.9 0M849.5 124.3a2.45 2.45 0 1 0 4.9 0a2.45 2.45 0 1 0 -4.9 0M873.8 76.9a2.45 2.45 0 1 0 4.9 0a2.45 2.45 0 1 0 -4.9 0M814.9 196.7a2.45 2.45 0 1 0 4.9 0a2.45 2.45 0 1 0 -4.9 0M795.1 245.9a2.45 2.45 0 1 0 4.9 0a2.45 2.45 0 1 0 -4.9 0M922.9 34.7a2.45 2.45 0 1 0 4.9 0a2.45 2.45 0 1 0 -4.9 0M901.3 43.4a2.45 2.45 0 1 0 4.9 0a2.45 2.45 0 1 0 -4.9 0M866.8 93.8a2.45 2.45 0 1 0 4.9 0a2.45 2.45 0 1 0 -4.9 0M886.7 61.9a2.45 2.45 0 1 0 4.9 0a2.45 2.45 0 1 0 -4.9 0M899.1 50.5a2.45 2.45 0 1 0 4.9 0a2.45 2.45 0 1 0 -4.9 0M789.5 259.0a2.45 2.45 0 1 0 4.9 0a2.45 2.45 0 1 0 -4.9 0M786.6 256.4a2.45 2.45 0 1 0 4.9 0a2.45 2.45 0 1 0 -4.9 0M805.0 217.9a2.45 2.45 0 1 0 4.9 0a2.45 2.45 0 1 0 -4.9 0M846.5 139.6a2.45 2.45 0 1 0 4.9 0a2.45 2.45 0 1 0 -4.9 0M860.3 107.5a2.45 2.45 0 1 0 4.9 0a2.45 2.45 0 1 0 -4.9 0M752.8 323.3a2.45 2.45 0 1 0 4.9 0a2.45 2.45 0 1 0 -4.9 0M858.4 106.9a2.45 2.45 0 1 0 4.9 0a2.45 2.45 0 1 0 -4.9 0M884.2 66.3a2.45 2.45 0 1 0 4.9 0a2.45 2.45 0 1 0 -4.9 0M829.0 175.9a2.45 2.45 0 1 0 4.9 0a2.45 2.45 0 1 0 -4.9 0M930.6 29.1a2.45 2.45 0 1 0 4.9 0a2.45 2.45 0 1 0 -4.9 0M802.9 222.5a2.45 2.45 0 1 0 4.9 0a2.45 2.45 0 1 0 -4.9 0M845.4 137.0a2.45 2.45 0 1 0 4.9 0a2.45 2.45 0 1 0 -4.9 0M880.0 72.2a2.45 2.45 0 1 0 4.9 0a2.45 2.45 0 1 0 -4.9 0M751.3 325.8a2.45 2.45 0 1 0 4.9 0a2.45 2.45 0 1 0 -4.9 0M808.6 204.1a2.45 2.45 0 1 0 4.9 0a2.45 2.45 0 1 0 -4.9 0M762.9 315.1a2.45 2.45 0 1 0 4.9 0a2.45 2.45 0 1 0 -4.9 0M796.5 243.2a2.45 2.45 0 1 0 4.9 0a2.45 2.45 0 1 0 -4.9 0M868.4 87.9a2.45 2.45 0 1 0 4.9 0a2.45 2.45 0 1 0 -4.9 0M830.1 164.2a2.45 2.45 0 1 0 4.9 0a2.45 2.45 0 1 0 -4.9 0M756.8 311.5a2.45 2.45 0 1 0 4.9 0a2.45 2.45 0 1 0 -4.9 0M898.7 51.0a2.45 2.45 0 1 0 4.9 0a2.45 2.45 0 1 0 -4.9 0M764.3 306.7a2.45 2.45 0 1 0 4.9 0a2.45 2.45 0 1 0 -4.9 0M801.2 234.5a2.45 2.45 0 1 0 4.9 0a2.45 2.45 0 1 0 -4.9 0M828.0 169.5a2.45 2.45 0 1 0 4.9 0a2.45 2.45 0 1 0 -4.9 0M831.7 156.9a2.45 2.45 0 1 0 4.9 0a2.45 2.45 0 1 0 -4.9 0M852.5 115.0a2.45 2.45 0 1 0 4.9 0a2.45 2.45 0 1 0 -4.9 0M849.7 128.5a2.45 2.45 0 1 0 4.9 0a2.45 2.45 0 1 0 -4.9 0M815.0 205.2a2.45 2.45 0 1 0 4.9 0a2.45 2.45 0 1 0 -4.9 0M878.5 74.8a2.45 2.45 0 1 0 4.9 0a2.45 2.45 0 1 0 -4.9 0M859.3 109.6a2.45 2.45 0 1 0 4.9 0a2.45 2.45 0 1 0 -4.9 0M821.3 194.9a2.45 2.45 0 1 0 4.9 0a2.45 2.45 0 1 0 -4.9 0M902.6 46.4a2.45 2.45 0 1 0 4.9 0a2.45 2.45 0 1 0 -4.9 0M931.8 28.6a2.45 2.45 0 1 0 4.9 0a2.45 2.45 0 1 0 -4.9 0M796.2 249.7a2.45 2.45 0 1 0 4.9 0a2.45 2.45 0 1 0 -4.9 0M830.6 165.3a2.45 2.45 0 1 0 4.9 0a2.45 2.45 0 1 0 -4.9 0M840.0 158.5a2.45 2.45 0 1 0 4.9 0a2.45 2.45 0 1 0 -4.9 0M853.3 121.7a2.45 2.45 0 1 0 4.9 0a2.45 2.45 0 1 0 -4.9 0M810.6 205.7a2.45 2.45 0 1 0 4.9 0a2.45 2.45 0 1 0 -4.9 0M785.8 266.3a2.45 2.45 0 1 0 4.9 0a2.45 2.45 0 1 0 -4.9 0M787.9 261.9a2.45 2.45 0 1 0 4.9 0a2.45 2.45 0 1 0 -4.9 0M874.7 78.0a2.45 2.45 0 1 0 4.9 0a2.45 2.45 0 1 0 -4.9 0M849.1 117.7a2.45 2.45 0 1 0 4.9 0a2.45 2.45 0 1 0 -4.9 0M809.7 213.9a2.45 2.45 0 1 0 4.9 0a2.45 2.45 0 1 0 -4.9 0M841.2 147.1a2.45 2.45 0 1 0 4.9 0a2.45 2.45 0 1 0 -4.9 0M820.1 189.9a2.45 2.45 0 1 0 4.9 0a2.45 2.45 0 1 0 -4.9 0M934.4 29.7a2.45 2.45 0 1 0 4.9 0a2.45 2.45 0 1 0 -4.9 0M837.9 152.6a2.45 2.45 0 1 0 4.9 0a2.45 2.45 0 1 0 -4.9 0M755.5 318.1a2.45 2.45 0 1 0 4.9 0a2.45 2.45 0 1 0 -4.9 0M746.4 327.0a2.45 2.45 0 1 0 4.9 0a2.45 2.45 0 1 0 -4.9 0M787.5 257.2a2.45 2.45 0 1 0 4.9 0a2.45 2.45 0 1 0 -4.9 0M809.1 212.2a2.45 2.45 0 1 0 4.9 0a2.45 2.45 0 1 0 -4.9 0M823.2 189.9a2.45 2.45 0 1 0 4.9 0a2.45 2.45 0 1 0 -4.9 0M849.8 124.4a2.45 2.45 0 1 0 4.9 0a2.45 2.45 0 1 0 -4.9 0M822.8 191.2a2.45 2.45 0 1 0 4.9 0a2.45 2.45 0 1 0 -4.9 0M918.5 36.1a2.45 2.45 0 1 0 4.9 0a2.45 2.45 0 1 0 -4.9 0M817.7 189.7a2.45 2.45 0 1 0 4.9 0a2.45 2.45 0 1 0 -4.9 0M751.6 323.7a2.45 2.45 0 1 0 4.9 0a2.45 2.45 0 1 0 -4.9 0M835.6 160.6a2.45 2.45 0 1 0 4.9 0a2.45 2.45 0 1 0 -4.9 0M898.7 51.3a2.45 2.45 0 1 0 4.9 0a2.45 2.45 0 1 0 -4.9 0M824.3 178.3a2.45 2.45 0 1 0 4.9 0a2.45 2.45 0 1 0 -4.9 0M845.1 144.0a2.45 2.45 0 1 0 4.9 0a2.45 2.45 0 1 0 -4.9 0M746.7 323.9a2.45 2.45 0 1 0 4.9 0a2.45 2.45 0 1 0 -4.9 0M845.0 128.2a2.45 2.45 0 1 0 4.9 0a2.45 2.45 0 1 0 -4.9 0M836.2 162.2a2.45 2.45 0 1 0 4.9 0a2.45 2.45 0 1 0 -4.9 0M860.0 102.6a2.45 2.45 0 1 0 4.9 0a2.45 2.45 0 1 0 -4.9 0M830.7 167.7a2.45 2.45 0 1 0 4.9 0a2.45 2.45 0 1 0 -4.9 0M820.0 192.3a2.45 2.45 0 1 0 4.9 0a2.45 2.45 0 1 0 -4.9 0M893.3 55.7a2.45 2.45 0 1 0 4.9 0a2.45 2.45 0 1 0 -4.9 0M899.6 55.4a2.45 2.45 0 1 0 4.9 0a2.45 2.45 0 1 0 -4.9 0M827.0 176.7a2.45 2.45 0 1 0 4.9 0a2.45 2.45 0 1 0 -4.9 0M844.4 141.6a2.45 2.45 0 1 0 4.9 0a2.45 2.45 0 1 0 -4.9 0M809.4 212.8a2.45 2.45 0 1 0 4.9 0a2.45 2.45 0 1 0 -4.9 0M825.4 181.1a2.45 2.45 0 1 0 4.9 0a2.45 2.45 0 1 0 -4.9 0M874.9 82.4a2.45 2.45 0 1 0 4.9 0a2.45 2.45 0 1 0 -4.9 0M804.8 217.5a2.45 2.45 0 1 0 4.9 0a2.45 2.45 0 1 0 -4.9 0M761.1 309.2a2.45 2.45 0 1 0 4.9 0a2.45 2.45 0 1 0 -4.9 0M845.6 126.8a2.45 2.45 0 1 0 4.9 0a2.45 2.45 0 1 0 -4.9 0M836.2 154.0a2.45 2.45 0 1 0 4.9 0a2.45 2.45 0 1 0 -4.9 0M815.8 197.7a2.45 2.45 0 1 0 4.9 0a2.45 2.45 0 1 0 -4.9 0M772.8 293.3a2.45 2.45 0 1 0 4.9 0a2.45 2.45 0 1 0 -4.9 0M799.6 224.3a2.45 2.45 0 1 0 4.9 0a2.45 2.45 0 1 0 -4.9 0M837.6 157.6a2.45 2.45 0 1 0 4.9 0a2.45 2.45 0 1 0 -4.9 0M794.7 252.9a2.45 2.45 0 1 0 4.9 0a2.45 2.45 0 1 0 -4.9 0M757.0 317.1a2.45 2.45 0 1 0 4.9 0a2.45 2.45 0 1 0 -4.9 0M870.3 83.5a2.45 2.45 0 1 0 4.9 0a2.45 2.45 0 1 0 -4.9 0M732.8 338.3a2.45 2.45 0 1 0 4.9 0a2.45 2.45 0 1 0 -4.9 0M727.7 338.7a2.45 2.45 0 1 0 4.9 0a2.45 2.45 0 1 0 -4.9 0M940.3 27.9a2.45 2.45 0 1 0 4.9 0a2.45 2.45 0 1 0 -4.9 0M861.0 100.8a2.45 2.45 0 1 0 4.9 0a2.45 2.45 0 1 0 -4.9 0M836.2 156.0a2.45 2.45 0 1 0 4.9 0a2.45 2.45 0 1 0 -4.9 0M777.7 281.4a2.45 2.45 0 1 0 4.9 0a2.45 2.45 0 1 0 -4.9 0M827.4 184.3a2.45 2.45 0 1 0 4.9 0a2.45 2.45 0 1 0 -4.9 0M867.7 86.2a2.45 2.45 0 1 0 4.9 0a2.45 2.45 0 1 0 -4.9 0M895.8 53.3a2.45 2.45 0 1 0 4.9 0a2.45 2.45 0 1 0 -4.9 0M869.3 87.4a2.45 2.45 0 1 0 4.9 0a2.45 2.45 0 1 0 -4.9 0M813.2 202.7a2.45 2.45 0 1 0 4.9 0a2.45 2.45 0 1 0 -4.9 0M830.5 175.0a2.45 2.45 0 1 0 4.9 0a2.45 2.45 0 1 0 -4.9 0M885.0 63.0a2.45 2.45 0 1 0 4.9 0a2.45 2.45 0 1 0 -4.9 0M852.6 121.7a2.45 2.45 0 1 0 4.9 0a2.45 2.45 0 1 0 -4.9 0M810.1 207.0a2.45 2.45 0 1 0 4.9 0a2.45 2.45 0 1 0 -4.9 0M873.1 79.6a2.45 2.45 0 1 0 4.9 0a2.45 2.45 0 1 0 -4.9 0M821.1 192.2a2.45 2.45 0 1 0 4.9 0a2.45 2.45 0 1 0 -4.9 0M866.7 89.1a2.45 2.45 0 1 0 4.9 0a2.45 2.45 0 1 0 -4.9 0M835.9 159.0a2.45 2.45 0 1 0 4.9 0a2.45 2.45 0 1 0 -4.9 0M883.8 68.2a2.45 2.45 0 1 0 4.9 0a2.45 2.45 0 1 0 -4.9 0M881.9 68.1a2.45 2.45 0 1 0 4.9 0a2.45 2.45 0 1 0 -4.9 0M860.2 103.3a2.45 2.45 0 1 0 4.9 0a2.45 2.45 0 1 0 -4.9 0M776.8 280.0a2.45 2.45 0 1 0 4.9 0a2.45 2.45 0 1 0 -4.9 0M813.5 195.5a2.45 2.45 0 1 0 4.9 0a2.45 2.45 0 1 0 -4.9 0M831.7 168.6a2.45 2.45 0 1 0 4.9 0a2.45 2.45 0 1 0 -4.9 0M802.1 226.9a2.45 2.45 0 1 0 4.9 0a2.45 2.45 0 1 0 -4.9 0M876.4 80.8a2.45 2.45 0 1 0 4.9 0a2.45 2.45 0 1 0 -4.9 0M786.8 260.7a2.45 2.45 0 1 0 4.9 0a2.45 2.45 0 1 0 -4.9 0M814.3 202.8a2.45 2.45 0 1 0 4.9 0a2.45 2.45 0 1 0 -4.9 0M790.4 254.3a2.45 2.45 0 1 0 4.9 0a2.45 2.45 0 1 0 -4.9 0M826.3 170.5a2.45 2.45 0 1 0 4.9 0a2.45 2.45 0 1 0 -4.9 0M893.7 57.7a2.45 2.45 0 1 0 4.9 0a2.45 2.45 0 1 0 -4.9 0M787.0 264.7a2.45 2.45 0 1 0 4.9 0a2.45 2.45 0 1 0 -4.9 0M826.7 176.2a2.45 2.45 0 1 0 4.9 0a2.45 2.45 0 1 0 -4.9 0M791.2 252.6a2.45 2.45 0 1 0 4.9 0a2.45 2.45 0 1 0 -4.9 0M845.1 141.1a2.45 2.45 0 1 0 4.9 0a2.45 2.45 0 1 0 -4.9 0M895.1 55.5a2.45 2.45 0 1 0 4.9 0a2.45 2.45 0 1 0 -4.9 0M922.0 33.8a2.45 2.45 0 1 0 4.9 0a2.45 2.45 0 1 0 -4.9 0M755.7 313.2a2.45 2.45 0 1 0 4.9 0a2.45 2.45 0 1 0 -4.9 0M751.8 324.1a2.45 2.45 0 1 0 4.9 0a2.45 2.45 0 1 0 -4.9 0M841.3 144.8a2.45 2.45 0 1 0 4.9 0a2.45 2.45 0 1 0 -4.9 0M819.7 191.9a2.45 2.45 0 1 0 4.9 0a2.45 2.45 0 1 0 -4.9 0M916.3 37.7a2.45 2.45 0 1 0 4.9 0a2.45 2.45 0 1 0 -4.9 0M882.8 69.5a2.45 2.45 0 1 0 4.9 0a2.45 2.45 0 1 0 -4.9 0M756.8 313.2a2.45 2.45 0 1 0 4.9 0a2.45 2.45 0 1 0 -4.9 0M869.0 85.2a2.45 2.45 0 1 0 4.9 0a2.45 2.45 0 1 0 -4.9 0M767.7 301.7a2.45 2.45 0 1 0 4.9 0a2.45 2.45 0 1 0 -4.9 0M784.1 262.2a2.45 2.45 0 1 0 4.9 0a2.45 2.45 0 1 0 -4.9 0M911.9 40.2a2.45 2.45 0 1 0 4.9 0a2.45 2.45 0 1 0 -4.9 0M774.7 282.0a2.45 2.45 0 1 0 4.9 0a2.45 2.45 0 1 0 -4.9 0M911.4 41.3a2.45 2.45 0 1 0 4.9 0a2.45 2.45 0 1 0 -4.9 0M836.8 158.0a2.45 2.45 0 1 0 4.9 0a2.45 2.45 0 1 0 -4.9 0M764.4 304.2a2.45 2.45 0 1 0 4.9 0a2.45 2.45 0 1 0 -4.9 0M803.2 223.3a2.45 2.45 0 1 0 4.9 0a2.45 2.45 0 1 0 -4.9 0M846.6 129.1a2.45 2.45 0 1 0 4.9 0a2.45 2.45 0 1 0 -4.9 0M788.9 261.6a2.45 2.45 0 1 0 4.9 0a2.45 2.45 0 1 0 -4.9 0M833.1 174.3a2.45 2.45 0 1 0 4.9 0a2.45 2.45 0 1 0 -4.9 0M788.5 255.4a2.45 2.45 0 1 0 4.9 0a2.45 2.45 0 1 0 -4.9 0M831.3 159.8a2.45 2.45 0 1 0 4.9 0a2.45 2.45 0 1 0 -4.9 0M803.8 217.9a2.45 2.45 0 1 0 4.9 0a2.45 2.45 0 1 0 -4.9 0M843.8 147.9a2.45 2.45 0 1 0 4.9 0a2.45 2.45 0 1 0 -4.9 0M810.9 208.8a2.45 2.45 0 1 0 4.9 0a2.45 2.45 0 1 0 -4.9 0M876.6 74.2a2.45 2.45 0 1 0 4.9 0a2.45 2.45 0 1 0 -4.9 0M896.5 50.8a2.45 2.45 0 1 0 4.9 0a2.45 2.45 0 1 0 -4.9 0M913.0 39.9a2.45 2.45 0 1 0 4.9 0a2.45 2.45 0 1 0 -4.9 0M870.2 80.6a2.45 2.45 0 1 0 4.9 0a2.45 2.45 0 1 0 -4.9 0M886.0 65.7a2.45 2.45 0 1 0 4.9 0a2.45 2.45 0 1 0 -4.9 0M837.2 156.9a2.45 2.45 0 1 0 4.9 0a2.45 2.45 0 1 0 -4.9 0M904.0 44.8a2.45 2.45 0 1 0 4.9 0a2.45 2.45 0 1 0 -4.9 0M865.8 89.6a2.45 2.45 0 1 0 4.9 0a2.45 2.45 0 1 0 -4.9 0M908.9 39.4a2.45 2.45 0 1 0 4.9 0a2.45 2.45 0 1 0 -4.9 0M870.9 79.4a2.45 2.45 0 1 0 4.9 0a2.45 2.45 0 1 0 -4.9 0M923.4 34.2a2.45 2.45 0 1 0 4.9 0a2.45 2.45 0 1 0 -4.9 0M728.5 338.6a2.45 2.45 0 1 0 4.9 0a2.45 2.45 0 1 0 -4.9 0M927.0 30.9a2.45 2.45 0 1 0 4.9 0a2.45 2.45 0 1 0 -4.9 0M791.9 242.4a2.45 2.45 0 1 0 4.9 0a2.45 2.45 0 1 0 -4.9 0M794.2 252.4a2.45 2.45 0 1 0 4.9 0a2.45 2.45 0 1 0 -4.9 0M889.5 61.3a2.45 2.45 0 1 0 4.9 0a2.45 2.45 0 1 0 -4.9 0M796.7 232.2a2.45 2.45 0 1 0 4.9 0a2.45 2.45 0 1 0 -4.9 0M801.7 226.2a2.45 2.45 0 1 0 4.9 0a2.45 2.45 0 1 0 -4.9 0M826.3 178.6a2.45 2.45 0 1 0 4.9 0a2.45 2.45 0 1 0 -4.9 0M832.8 167.1a2.45 2.45 0 1 0 4.9 0a2.45 2.45 0 1 0 -4.9 0M821.7 187.1a2.45 2.45 0 1 0 4.9 0a2.45 2.45 0 1 0 -4.9 0M823.3 179.3a2.45 2.45 0 1 0 4.9 0a2.45 2.45 0 1 0 -4.9 0M895.2 56.3a2.45 2.45 0 1 0 4.9 0a2.45 2.45 0 1 0 -4.9 0M813.5 206.7a2.45 2.45 0 1 0 4.9 0a2.45 2.45 0 1 0 -4.9 0M836.2 150.1a2.45 2.45 0 1 0 4.9 0a2.45 2.45 0 1 0 -4.9 0M826.9 179.0a2.45 2.45 0 1 0 4.9 0a2.45 2.45 0 1 0 -4.9 0M790.5 258.2a2.45 2.45 0 1 0 4.9 0a2.45 2.45 0 1 0 -4.9 0M885.3 68.0a2.45 2.45 0 1 0 4.9 0a2.45 2.45 0 1 0 -4.9 0M861.1 99.3a2.45 2.45 0 1 0 4.9 0a2.45 2.45 0 1 0 -4.9 0M776.6 279.4a2.45 2.45 0 1 0 4.9 0a2.45 2.45 0 1 0 -4.9 0M866.8 85.9a2.45 2.45 0 1 0 4.9 0a2.45 2.45 0 1 0 -4.9 0M760.5 307.9a2.45 2.45 0 1 0 4.9 0a2.45 2.45 0 1 0 -4.9 0M864.1 97.7a2.45 2.45 0 1 0 4.9 0a2.45 2.45 0 1 0 -4.9 0M899.8 49.0a2.45 2.45 0 1 0 4.9 0a2.45 2.45 0 1 0 -4.9 0M867.6 93.5a2.45 2.45 0 1 0 4.9 0a2.45 2.45 0 1 0 -4.9 0M833.8 158.6a2.45 2.45 0 1 0 4.9 0a2.45 2.45 0 1 0 -4.9 0M792.3 246.2a2.45 2.45 0 1 0 4.9 0a2.45 2.45 0 1 0 -4.9 0M890.2 65.0a2.45 2.45 0 1 0 4.9 0a2.45 2.45 0 1 0 -4.9 0M865.4 88.8a2.45 2.45 0 1 0 4.9 0a2.45 2.45 0 1 0 -4.9 0M747.0 326.2a2.45 2.45 0 1 0 4.9 0a2.45 2.45 0 1 0 -4.9 0M881.4 69.3a2.45 2.45 0 1 0 4.9 0a2.45 2.45 0 1 0 -4.9 0M792.6 246.4a2.45 2.45 0 1 0 4.9 0a2.45 2.45 0 1 0 -4.9 0M848.1 130.1a2.45 2.45 0 1 0 4.9 0a2.45 2.45 0 1 0 -4.9 0M772.0 286.3a2.45 2.45 0 1 0 4.9 0a2.45 2.45 0 1 0 -4.9 0M887.0 63.6a2.45 2.45 0 1 0 4.9 0a2.45 2.45 0 1 0 -4.9 0M824.4 194.5a2.45 2.45 0 1 0 4.9 0a2.45 2.45 0 1 0 -4.9 0M896.1 51.7a2.45 2.45 0 1 0 4.9 0a2.45 2.45 0 1 0 -4.9 0M901.1 45.7a2.45 2.45 0 1 0 4.9 0a2.45 2.45 0 1 0 -4.9 0M855.3 110.8a2.45 2.45 0 1 0 4.9 0a2.45 2.45 0 1 0 -4.9 0M821.1 191.7a2.45 2.45 0 1 0 4.9 0a2.45 2.45 0 1 0 -4.9 0M866.0 92.0a2.45 2.45 0 1 0 4.9 0a2.45 2.45 0 1 0 -4.9 0M826.4 174.7a2.45 2.45 0 1 0 4.9 0a2.45 2.45 0 1 0 -4.9 0M893.3 53.9a2.45 2.45 0 1 0 4.9 0a2.45 2.45 0 1 0 -4.9 0M780.2 266.8a2.45 2.45 0 1 0 4.9 0a2.45 2.45 0 1 0 -4.9 0M782.6 275.6a2.45 2.45 0 1 0 4.9 0a2.45 2.45 0 1 0 -4.9 0M834.6 153.5a2.45 2.45 0 1 0 4.9 0a2.45 2.45 0 1 0 -4.9 0M786.4 259.6a2.45 2.45 0 1 0 4.9 0a2.45 2.45 0 1 0 -4.9 0M786.2 263.7a2.45 2.45 0 1 0 4.9 0a2.45 2.45 0 1 0 -4.9 0M859.5 102.4a2.45 2.45 0 1 0 4.9 0a2.45 2.45 0 1 0 -4.9 0M794.1 244.3a2.45 2.45 0 1 0 4.9 0a2.45 2.45 0 1 0 -4.9 0M766.7 295.0a2.45 2.45 0 1 0 4.9 0a2.45 2.45 0 1 0 -4.9 0M848.0 125.4a2.45 2.45 0 1 0 4.9 0a2.45 2.45 0 1 0 -4.9 0M851.2 116.3a2.45 2.45 0 1 0 4.9 0a2.45 2.45 0 1 0 -4.9 0M872.3 83.2a2.45 2.45 0 1 0 4.9 0a2.45 2.45 0 1 0 -4.9 0M755.2 319.0a2.45 2.45 0 1 0 4.9 0a2.45 2.45 0 1 0 -4.9 0M827.7 179.0a2.45 2.45 0 1 0 4.9 0a2.45 2.45 0 1 0 -4.9 0M770.7 299.5a2.45 2.45 0 1 0 4.9 0a2.45 2.45 0 1 0 -4.9 0M805.9 218.7a2.45 2.45 0 1 0 4.9 0a2.45 2.45 0 1 0 -4.9 0M866.1 95.9a2.45 2.45 0 1 0 4.9 0a2.45 2.45 0 1 0 -4.9 0M811.9 201.7a2.45 2.45 0 1 0 4.9 0a2.45 2.45 0 1 0 -4.9 0M774.5 289.3a2.45 2.45 0 1 0 4.9 0a2.45 2.45 0 1 0 -4.9 0M771.9 288.0a2.45 2.45 0 1 0 4.9 0a2.45 2.45 0 1 0 -4.9 0M806.4 212.8a2.45 2.45 0 1 0 4.9 0a2.45 2.45 0 1 0 -4.9 0M779.3 275.9a2.45 2.45 0 1 0 4.9 0a2.45 2.45 0 1 0 -4.9 0M883.2 66.9a2.45 2.45 0 1 0 4.9 0a2.45 2.45 0 1 0 -4.9 0M767.9 294.7a2.45 2.45 0 1 0 4.9 0a2.45 2.45 0 1 0 -4.9 0M738.9 332.2a2.45 2.45 0 1 0 4.9 0a2.45 2.45 0 1 0 -4.9 0M766.5 297.3a2.45 2.45 0 1 0 4.9 0a2.45 2.45 0 1 0 -4.9 0M804.3 228.5a2.45 2.45 0 1 0 4.9 0a2.45 2.45 0 1 0 -4.9 0M767.8 304.4a2.45 2.45 0 1 0 4.9 0a2.45 2.45 0 1 0 -4.9 0M862.1 94.5a2.45 2.45 0 1 0 4.9 0a2.45 2.45 0 1 0 -4.9 0M906.9 43.2a2.45 2.45 0 1 0 4.9 0a2.45 2.45 0 1 0 -4.9 0M848.5 127.8a2.45 2.45 0 1 0 4.9 0a2.45 2.45 0 1 0 -4.9 0M793.3 248.5a2.45 2.45 0 1 0 4.9 0a2.45 2.45 0 1 0 -4.9 0M841.7 127.7a2.45 2.45 0 1 0 4.9 0a2.45 2.45 0 1 0 -4.9 0M916.9 38.3a2.45 2.45 0 1 0 4.9 0a2.45 2.45 0 1 0 -4.9 0M825.3 183.9a2.45 2.45 0 1 0 4.9 0a2.45 2.45 0 1 0 -4.9 0M934.2 29.6a2.45 2.45 0 1 0 4.9 0a2.45 2.45 0 1 0 -4.9 0M789.9 256.9a2.45 2.45 0 1 0 4.9 0a2.45 2.45 0 1 0 -4.9 0M929.8 31.0a2.45 2.45 0 1 0 4.9 0a2.45 2.45 0 1 0 -4.9 0M787.4 268.3a2.45 2.45 0 1 0 4.9 0a2.45 2.45 0 1 0 -4.9 0M882.7 67.4a2.45 2.45 0 1 0 4.9 0a2.45 2.45 0 1 0 -4.9 0M829.3 184.2a2.45 2.45 0 1 0 4.9 0a2.45 2.45 0 1 0 -4.9 0M812.5 199.3a2.45 2.45 0 1 0 4.9 0a2.45 2.45 0 1 0 -4.9 0M854.7 118.5a2.45 2.45 0 1 0 4.9 0a2.45 2.45 0 1 0 -4.9 0M776.0 280.4a2.45 2.45 0 1 0 4.9 0a2.45 2.45 0 1 0 -4.9 0M783.4 270.1a2.45 2.45 0 1 0 4.9 0a2.45 2.45 0 1 0 -4.9 0M802.8 223.3a2.45 2.45 0 1 0 4.9 0a2.45 2.45 0 1 0 -4.9 0M898.7 52.6a2.45 2.45 0 1 0 4.9 0a2.45 2.45 0 1 0 -4.9 0M862.3 98.5a2.45 2.45 0 1 0 4.9 0a2.45 2.45 0 1 0 -4.9 0M844.7 143.4a2.45 2.45 0 1 0 4.9 0a2.45 2.45 0 1 0 -4.9 0M794.4 243.5a2.45 2.45 0 1 0 4.9 0a2.45 2.45 0 1 0 -4.9 0M908.5 43.8a2.45 2.45 0 1 0 4.9 0a2.45 2.45 0 1 0 -4.9 0M825.5 182.6a2.45 2.45 0 1 0 4.9 0a2.45 2.45 0 1 0 -4.9 0M789.3 261.0a2.45 2.45 0 1 0 4.9 0a2.45 2.45 0 1 0 -4.9 0M848.0 139.2a2.45 2.45 0 1 0 4.9 0a2.45 2.45 0 1 0 -4.9 0M834.6 154.1a2.45 2.45 0 1 0 4.9 0a2.45 2.45 0 1 0 -4.9 0M925.1 33.5a2.45 2.45 0 1 0 4.9 0a2.45 2.45 0 1 0 -4.9 0M863.6 102.8a2.45 2.45 0 1 0 4.9 0a2.45 2.45 0 1 0 -4.9 0M819.6 198.9a2.45 2.45 0 1 0 4.9 0a2.45 2.45 0 1 0 -4.9 0M841.0 143.8a2.45 2.45 0 1 0 4.9 0a2.45 2.45 0 1 0 -4.9 0M814.8 199.3a2.45 2.45 0 1 0 4.9 0a2.45 2.45 0 1 0 -4.9 0M757.2 314.5a2.45 2.45 0 1 0 4.9 0a2.45 2.45 0 1 0 -4.9 0M801.0 236.3a2.45 2.45 0 1 0 4.9 0a2.45 2.45 0 1 0 -4.9 0M850.6 128.4a2.45 2.45 0 1 0 4.9 0a2.45 2.45 0 1 0 -4.9 0M818.7 199.1a2.45 2.45 0 1 0 4.9 0a2.45 2.45 0 1 0 -4.9 0M763.6 302.3a2.45 2.45 0 1 0 4.9 0a2.45 2.45 0 1 0 -4.9 0M800.1 227.5a2.45 2.45 0 1 0 4.9 0a2.45 2.45 0 1 0 -4.9 0M818.6 193.5a2.45 2.45 0 1 0 4.9 0a2.45 2.45 0 1 0 -4.9 0M840.8 149.6a2.45 2.45 0 1 0 4.9 0a2.45 2.45 0 1 0 -4.9 0M858.4 110.4a2.45 2.45 0 1 0 4.9 0a2.45 2.45 0 1 0 -4.9 0M841.9 136.4a2.45 2.45 0 1 0 4.9 0a2.45 2.45 0 1 0 -4.9 0M803.3 217.4a2.45 2.45 0 1 0 4.9 0a2.45 2.45 0 1 0 -4.9 0M888.7 58.1a2.45 2.45 0 1 0 4.9 0a2.45 2.45 0 1 0 -4.9 0M736.4 334.7a2.45 2.45 0 1 0 4.9 0a2.45 2.45 0 1 0 -4.9 0M785.1 271.3a2.45 2.45 0 1 0 4.9 0a2.45 2.45 0 1 0 -4.9 0M829.6 164.3a2.45 2.45 0 1 0 4.9 0a2.45 2.45 0 1 0 -4.9 0M826.4 182.7a2.45 2.45 0 1 0 4.9 0a2.45 2.45 0 1 0 -4.9 0M765.7 304.1a2.45 2.45 0 1 0 4.9 0a2.45 2.45 0 1 0 -4.9 0M833.0 170.8a2.45 2.45 0 1 0 4.9 0a2.45 2.45 0 1 0 -4.9 0M917.1 38.7a2.45 2.45 0 1 0 4.9 0a2.45 2.45 0 1 0 -4.9 0M839.8 146.5a2.45 2.45 0 1 0 4.9 0a2.45 2.45 0 1 0 -4.9 0M826.2 169.0a2.45 2.45 0 1 0 4.9 0a2.45 2.45 0 1 0 -4.9 0M771.6 288.1a2.45 2.45 0 1 0 4.9 0a2.45 2.45 0 1 0 -4.9 0M931.8 30.5a2.45 2.45 0 1 0 4.9 0a2.45 2.45 0 1 0 -4.9 0M833.0 159.2a2.45 2.45 0 1 0 4.9 0a2.45 2.45 0 1 0 -4.9 0M910.0 42.0a2.45 2.45 0 1 0 4.9 0a2.45 2.45 0 1 0 -4.9 0M763.1 303.0a2.45 2.45 0 1 0 4.9 0a2.45 2.45 0 1 0 -4.9 0M732.8 335.2a2.45 2.45 0 1 0 4.9 0a2.45 2.45 0 1 0 -4.9 0M887.8 62.8a2.45 2.45 0 1 0 4.9 0a2.45 2.45 0 1 0 -4.9 0M755.7 319.6a2.45 2.45 0 1 0 4.9 0a2.45 2.45 0 1 0 -4.9 0M892.4 58.3a2.45 2.45 0 1 0 4.9 0a2.45 2.45 0 1 0 -4.9 0M888.1 64.1a2.45 2.45 0 1 0 4.9 0a2.45 2.45 0 1 0 -4.9 0M1054.1 137.9a2.45 2.45 0 1 0 4.9 0a2.45 2.45 0 1 0 -4.9 0M1069.8 167.0a2.45 2.45 0 1 0 4.9 0a2.45 2.45 0 1 0 -4.9 0M1039.0 102.3a2.45 2.45 0 1 0 4.9 0a2.45 2.45 0 1 0 -4.9 0M1006.6 64.4a2.45 2.45 0 1 0 4.9 0a2.45 2.45 0 1 0 -4.9 0M1082.7 195.0a2.45 2.45 0 1 0 4.9 0a2.45 2.45 0 1 0 -4.9 0M979.2 35.0a2.45 2.45 0 1 0 4.9 0a2.45 2.45 0 1 0 -4.9 0M1078.3 187.7a2.45 2.45 0 1 0 4.9 0a2.45 2.45 0 1 0 -4.9 0M1029.9 91.0a2.45 2.45 0 1 0 4.9 0a2.45 2.45 0 1 0 -4.9 0M1090.7 212.3a2.45 2.45 0 1 0 4.9 0a2.45 2.45 0 1 0 -4.9 0M1040.0 118.0a2.45 2.45 0 1 0 4.9 0a2.45 2.45 0 1 0 -4.9 0M1105.5 256.2a2.45 2.45 0 1 0 4.9 0a2.45 2.45 0 1 0 -4.9 0M1158.1 335.9a2.45 2.45 0 1 0 4.9 0a2.45 2.45 0 1 0 -4.9 0M1032.4 100.1a2.45 2.45 0 1 0 4.9 0a2.45 2.45 0 1 0 -4.9 0M1127.8 301.4a2.45 2.45 0 1 0 4.9 0a2.45 2.45 0 1 0 -4.9 0M1099.5 231.8a2.45 2.45 0 1 0 4.9 0a2.45 2.45 0 1 0 -4.9 0M1110.8 257.8a2.45 2.45 0 1 0 4.9 0a2.45 2.45 0 1 0 -4.9 0M997.0 52.9a2.45 2.45 0 1 0 4.9 0a2.45 2.45 0 1 0 -4.9 0M1116.5 272.5a2.45 2.45 0 1 0 4.9 0a2.45 2.45 0 1 0 -4.9 0M1011.9 71.0a2.45 2.45 0 1 0 4.9 0a2.45 2.45 0 1 0 -4.9 0M1066.7 160.3a2.45 2.45 0 1 0 4.9 0a2.45 2.45 0 1 0 -4.9 0M964.6 28.0a2.45 2.45 0 1 0 4.9 0a2.45 2.45 0 1 0 -4.9 0M1122.6 283.9a2.45 2.45 0 1 0 4.9 0a2.45 2.45 0 1 0 -4.9 0M1075.8 181.8a2.45 2.45 0 1 0 4.9 0a2.45 2.45 0 1 0 -4.9 0M1150.2 328.1a2.45 2.45 0 1 0 4.9 0a2.45 2.45 0 1 0 -4.9 0M1084.4 204.0a2.45 2.45 0 1 0 4.9 0a2.45 2.45 0 1 0 -4.9 0M1042.1 114.5a2.45 2.45 0 1 0 4.9 0a2.45 2.45 0 1 0 -4.9 0M1021.0 80.7a2.45 2.45 0 1 0 4.9 0a2.45 2.45 0 1 0 -4.9 0M1101.6 245.1a2.45 2.45 0 1 0 4.9 0a2.45 2.45 0 1 0 -4.9 0M979.1 36.7a2.45 2.45 0 1 0 4.9 0a2.45 2.45 0 1 0 -4.9 0M1018.3 78.2a2.45 2.45 0 1 0 4.9 0a2.45 2.45 0 1 0 -4.9 0M1068.7 160.8a2.45 2.45 0 1 0 4.9 0a2.45 2.45 0 1 0 -4.9 0M979.9 35.9a2.45 2.45 0 1 0 4.9 0a2.45 2.45 0 1 0 -4.9 0M1095.9 224.4a2.45 2.45 0 1 0 4.9 0a2.45 2.45 0 1 0 -4.9 0M1034.1 104.6a2.45 2.45 0 1 0 4.9 0a2.45 2.45 0 1 0 -4.9 0M1065.8 156.7a2.45 2.45 0 1 0 4.9 0a2.45 2.45 0 1 0 -4.9 0M1037.9 105.5a2.45 2.45 0 1 0 4.9 0a2.45 2.45 0 1 0 -4.9 0M1054.7 139.9a2.45 2.45 0 1 0 4.9 0a2.45 2.45 0 1 0 -4.9 0M1096.1 231.4a2.45 2.45 0 1 0 4.9 0a2.45 2.45 0 1 0 -4.9 0M1100.5 235.9a2.45 2.45 0 1 0 4.9 0a2.45 2.45 0 1 0 -4.9 0M983.7 37.8a2.45 2.45 0 1 0 4.9 0a2.45 2.45 0 1 0 -4.9 0M1143.5 324.6a2.45 2.45 0 1 0 4.9 0a2.45 2.45 0 1 0 -4.9 0M1073.9 179.9a2.45 2.45 0 1 0 4.9 0a2.45 2.45 0 1 0 -4.9 0M1082.3 191.6a2.45 2.45 0 1 0 4.9 0a2.45 2.45 0 1 0 -4.9 0M1036.1 100.5a2.45 2.45 0 1 0 4.9 0a2.45 2.45 0 1 0 -4.9 0M1031.9 96.9a2.45 2.45 0 1 0 4.9 0a2.45 2.45 0 1 0 -4.9 0M1039.0 108.3a2.45 2.45 0 1 0 4.9 0a2.45 2.45 0 1 0 -4.9 0M1036.8 108.9a2.45 2.45 0 1 0 4.9 0a2.45 2.45 0 1 0 -4.9 0M995.1 50.4a2.45 2.45 0 1 0 4.9 0a2.45 2.45 0 1 0 -4.9 0M1037.3 108.6a2.45 2.45 0 1 0 4.9 0a2.45 2.45 0 1 0 -4.9 0M1081.1 198.3a2.45 2.45 0 1 0 4.9 0a2.45 2.45 0 1 0 -4.9 0M1078.0 190.8a2.45 2.45 0 1 0 4.9 0a2.45 2.45 0 1 0 -4.9 0M1081.2 198.2a2.45 2.45 0 1 0 4.9 0a2.45 2.45 0 1 0 -4.9 0M1099.1 232.1a2.45 2.45 0 1 0 4.9 0a2.45 2.45 0 1 0 -4.9 0M1024.1 85.5a2.45 2.45 0 1 0 4.9 0a2.45 2.45 0 1 0 -4.9 0M1074.4 178.4a2.45 2.45 0 1 0 4.9 0a2.45 2.45 0 1 0 -4.9 0M1107.4 259.1a2.45 2.45 0 1 0 4.9 0a2.45 2.45 0 1 0 -4.9 0M1104.1 247.1a2.45 2.45 0 1 0 4.9 0a2.45 2.45 0 1 0 -4.9 0M1072.9 165.2a2.45 2.45 0 1 0 4.9 0a2.45 2.45 0 1 0 -4.9 0M1089.1 210.4a2.45 2.45 0 1 0 4.9 0a2.45 2.45 0 1 0 -4.9 0M1133.6 308.3a2.45 2.45 0 1 0 4.9 0a2.45 2.45 0 1 0 -4.9 0M1047.0 123.9a2.45 2.45 0 1 0 4.9 0a2.45 2.45 0 1 0 -4.9 0M1091.0 216.6a2.45 2.45 0 1 0 4.9 0a2.45 2.45 0 1 0 -4.9 0M1092.8 216.2a2.45 2.45 0 1 0 4.9 0a2.45 2.45 0 1 0 -4.9 0M1049.8 129.7a2.45 2.45 0 1 0 4.9 0a2.45 2.45 0 1 0 -4.9 0M1060.2 152.4a2.45 2.45 0 1 0 4.9 0a2.45 2.45 0 1 0 -4.9 0M965.4 27.9a2.45 2.45 0 1 0 4.9 0a2.45 2.45 0 1 0 -4.9 0M971.9 29.3a2.45 2.45 0 1 0 4.9 0a2.45 2.45 0 1 0 -4.9 0M1063.1 154.2a2.45 2.45 0 1 0 4.9 0a2.45 2.45 0 1 0 -4.9 0M1002.6 62.0a2.45 2.45 0 1 0 4.9 0a2.45 2.45 0 1 0 -4.9 0M977.9 34.8a2.45 2.45 0 1 0 4.9 0a2.45 2.45 0 1 0 -4.9 0M979.7 36.2a2.45 2.45 0 1 0 4.9 0a2.45 2.45 0 1 0 -4.9 0M1003.6 59.6a2.45 2.45 0 1 0 4.9 0a2.45 2.45 0 1 0 -4.9 0M1134.7 309.7a2.45 2.45 0 1 0 4.9 0a2.45 2.45 0 1 0 -4.9 0M1130.8 305.2a2.45 2.45 0 1 0 4.9 0a2.45 2.45 0 1 0 -4.9 0M1087.5 206.8a2.45 2.45 0 1 0 4.9 0a2.45 2.45 0 1 0 -4.9 0M1099.7 228.3a2.45 2.45 0 1 0 4.9 0a2.45 2.45 0 1 0 -4.9 0M1052.9 136.4a2.45 2.45 0 1 0 4.9 0a2.45 2.45 0 1 0 -4.9 0M1075.0 181.8a2.45 2.45 0 1 0 4.9 0a2.45 2.45 0 1 0 -4.9 0M1066.4 163.1a2.45 2.45 0 1 0 4.9 0a2.45 2.45 0 1 0 -4.9 0M999.8 53.0a2.45 2.45 0 1 0 4.9 0a2.45 2.45 0 1 0 -4.9 0M1121.8 291.9a2.45 2.45 0 1 0 4.9 0a2.45 2.45 0 1 0 -4.9 0M1071.1 167.4a2.45 2.45 0 1 0 4.9 0a2.45 2.45 0 1 0 -4.9 0M1077.7 182.1a2.45 2.45 0 1 0 4.9 0a2.45 2.45 0 1 0 -4.9 0M994.3 47.8a2.45 2.45 0 1 0 4.9 0a2.45 2.45 0 1 0 -4.9 0M1076.1 176.9a2.45 2.45 0 1 0 4.9 0a2.45 2.45 0 1 0 -4.9 0M996.3 52.3a2.45 2.45 0 1 0 4.9 0a2.45 2.45 0 1 0 -4.9 0M1042.3 113.1a2.45 2.45 0 1 0 4.9 0a2.45 2.45 0 1 0 -4.9 0M1111.0 260.2a2.45 2.45 0 1 0 4.9 0a2.45 2.45 0 1 0 -4.9 0M1061.8 151.9a2.45 2.45 0 1 0 4.9 0a2.45 2.45 0 1 0 -4.9 0M1031.6 96.0a2.45 2.45 0 1 0 4.9 0a2.45 2.45 0 1 0 -4.9 0M989.4 43.2a2.45 2.45 0 1 0 4.9 0a2.45 2.45 0 1 0 -4.9 0M1088.8 208.5a2.45 2.45 0 1 0 4.9 0a2.45 2.45 0 1 0 -4.9 0M1055.6 142.1a2.45 2.45 0 1 0 4.9 0a2.45 2.45 0 1 0 -4.9 0M1107.9 254.3a2.45 2.45 0 1 0 4.9 0a2.45 2.45 0 1 0 -4.9 0M1077.5 188.8a2.45 2.45 0 1 0 4.9 0a2.45 2.45 0 1 0 -4.9 0M1139.7 317.0a2.45 2.45 0 1 0 4.9 0a2.45 2.45 0 1 0 -4.9 0M1022.9 81.1a2.45 2.45 0 1 0 4.9 0a2.45 2.45 0 1 0 -4.9 0M1108.8 262.7a2.45 2.45 0 1 0 4.9 0a2.45 2.45 0 1 0 -4.9 0M1099.6 228.4a2.45 2.45 0 1 0 4.9 0a2.45 2.45 0 1 0 -4.9 0M1057.8 147.7a2.45 2.45 0 1 0 4.9 0a2.45 2.45 0 1 0 -4.9 0M1043.2 112.3a2.45 2.45 0 1 0 4.9 0a2.45 2.45 0 1 0 -4.9 0M1055.0 140.8a2.45 2.45 0 1 0 4.9 0a2.45 2.45 0 1 0 -4.9 0M1066.8 161.8a2.45 2.45 0 1 0 4.9 0a2.45 2.45 0 1 0 -4.9 0M1044.1 117.0a2.45 2.45 0 1 0 4.9 0a2.45 2.45 0 1 0 -4.9 0M1002.3 59.4a2.45 2.45 0 1 0 4.9 0a2.45 2.45 0 1 0 -4.9 0M1136.8 317.8a2.45 2.45 0 1 0 4.9 0a2.45 2.45 0 1 0 -4.9 0M1113.9 273.1a2.45 2.45 0 1 0 4.9 0a2.45 2.45 0 1 0 -4.9 0M1046.8 128.9a2.45 2.45 0 1 0 4.9 0a2.45 2.45 0 1 0 -4.9 0M1011.0 68.3a2.45 2.45 0 1 0 4.9 0a2.45 2.45 0 1 0 -4.9 0M991.8 46.2a2.45 2.45 0 1 0 4.9 0a2.45 2.45 0 1 0 -4.9 0M1055.9 142.2a2.45 2.45 0 1 0 4.9 0a2.45 2.45 0 1 0 -4.9 0M1076.8 188.8a2.45 2.45 0 1 0 4.9 0a2.45 2.45 0 1 0 -4.9 0M1014.8 72.3a2.45 2.45 0 1 0 4.9 0a2.45 2.45 0 1 0 -4.9 0M973.6 31.1a2.45 2.45 0 1 0 4.9 0a2.45 2.45 0 1 0 -4.9 0M1120.0 285.3a2.45 2.45 0 1 0 4.9 0a2.45 2.45 0 1 0 -4.9 0M996.1 52.4a2.45 2.45 0 1 0 4.9 0a2.45 2.45 0 1 0 -4.9 0M979.5 37.3a2.45 2.45 0 1 0 4.9 0a2.45 2.45 0 1 0 -4.9 0M1010.2 63.7a2.45 2.45 0 1 0 4.9 0a2.45 2.45 0 1 0 -4.9 0M1049.8 133.3a2.45 2.45 0 1 0 4.9 0a2.45 2.45 0 1 0 -4.9 0M1150.3 329.5a2.45 2.45 0 1 0 4.9 0a2.45 2.45 0 1 0 -4.9 0M1058.3 145.3a2.45 2.45 0 1 0 4.9 0a2.45 2.45 0 1 0 -4.9 0M1026.7 86.4a2.45 2.45 0 1 0 4.9 0a2.45 2.45 0 1 0 -4.9 0M1099.6 236.1a2.45 2.45 0 1 0 4.9 0a2.45 2.45 0 1 0 -4.9 0M1097.2 226.7a2.45 2.45 0 1 0 4.9 0a2.45 2.45 0 1 0 -4.9 0M1114.9 274.0a2.45 2.45 0 1 0 4.9 0a2.45 2.45 0 1 0 -4.9 0M1111.4 259.6a2.45 2.45 0 1 0 4.9 0a2.45 2.45 0 1 0 -4.9 0M988.9 43.8a2.45 2.45 0 1 0 4.9 0a2.45 2.45 0 1 0 -4.9 0M1028.2 93.4a2.45 2.45 0 1 0 4.9 0a2.45 2.45 0 1 0 -4.9 0M1123.0 293.2a2.45 2.45 0 1 0 4.9 0a2.45 2.45 0 1 0 -4.9 0M1065.9 156.8a2.45 2.45 0 1 0 4.9 0a2.45 2.45 0 1 0 -4.9 0M969.1 31.3a2.45 2.45 0 1 0 4.9 0a2.45 2.45 0 1 0 -4.9 0M1113.1 269.3a2.45 2.45 0 1 0 4.9 0a2.45 2.45 0 1 0 -4.9 0M1047.4 128.3a2.45 2.45 0 1 0 4.9 0a2.45 2.45 0 1 0 -4.9 0M1054.9 139.8a2.45 2.45 0 1 0 4.9 0a2.45 2.45 0 1 0 -4.9 0M1055.8 150.1a2.45 2.45 0 1 0 4.9 0a2.45 2.45 0 1 0 -4.9 0M1074.9 171.3a2.45 2.45 0 1 0 4.9 0a2.45 2.45 0 1 0 -4.9 0M1065.5 162.3a2.45 2.45 0 1 0 4.9 0a2.45 2.45 0 1 0 -4.9 0M1051.0 134.2a2.45 2.45 0 1 0 4.9 0a2.45 2.45 0 1 0 -4.9 0M1080.8 194.6a2.45 2.45 0 1 0 4.9 0a2.45 2.45 0 1 0 -4.9 0M1086.9 197.7a2.45 2.45 0 1 0 4.9 0a2.45 2.45 0 1 0 -4.9 0M1010.5 67.2a2.45 2.45 0 1 0 4.9 0a2.45 2.45 0 1 0 -4.9 0M1015.8 70.5a2.45 2.45 0 1 0 4.9 0a2.45 2.45 0 1 0 -4.9 0M1015.4 78.4a2.45 2.45 0 1 0 4.9 0a2.45 2.45 0 1 0 -4.9 0M1126.8 295.9a2.45 2.45 0 1 0 4.9 0a2.45 2.45 0 1 0 -4.9 0M1010.6 67.6a2.45 2.45 0 1 0 4.9 0a2.45 2.45 0 1 0 -4.9 0M1079.6 192.5a2.45 2.45 0 1 0 4.9 0a2.45 2.45 0 1 0 -4.9 0M994.7 50.7a2.45 2.45 0 1 0 4.9 0a2.45 2.45 0 1 0 -4.9 0M1008.0 64.3a2.45 2.45 0 1 0 4.9 0a2.45 2.45 0 1 0 -4.9 0M1048.3 125.5a2.45 2.45 0 1 0 4.9 0a2.45 2.45 0 1 0 -4.9 0M1119.9 274.1a2.45 2.45 0 1 0 4.9 0a2.45 2.45 0 1 0 -4.9 0M1088.0 208.1a2.45 2.45 0 1 0 4.9 0a2.45 2.45 0 1 0 -4.9 0M1089.8 217.3a2.45 2.45 0 1 0 4.9 0a2.45 2.45 0 1 0 -4.9 0M1007.4 65.6a2.45 2.45 0 1 0 4.9 0a2.45 2.45 0 1 0 -4.9 0M1081.5 189.2a2.45 2.45 0 1 0 4.9 0a2.45 2.45 0 1 0 -4.9 0M1102.5 245.9a2.45 2.45 0 1 0 4.9 0a2.45 2.45 0 1 0 -4.9 0M1116.6 276.6a2.45 2.45 0 1 0 4.9 0a2.45 2.45 0 1 0 -4.9 0M1042.9 113.2a2.45 2.45 0 1 0 4.9 0a2.45 2.45 0 1 0 -4.9 0M1031.9 100.6a2.45 2.45 0 1 0 4.9 0a2.45 2.45 0 1 0 -4.9 0M1009.6 67.6a2.45 2.45 0 1 0 4.9 0a2.45 2.45 0 1 0 -4.9 0M989.5 43.1a2.45 2.45 0 1 0 4.9 0a2.45 2.45 0 1 0 -4.9 0M1117.6 276.6a2.45 2.45 0 1 0 4.9 0a2.45 2.45 0 1 0 -4.9 0M1094.5 218.5a2.45 2.45 0 1 0 4.9 0a2.45 2.45 0 1 0 -4.9 0M1118.3 265.9a2.45 2.45 0 1 0 4.9 0a2.45 2.45 0 1 0 -4.9 0M1065.5 156.2a2.45 2.45 0 1 0 4.9 0a2.45 2.45 0 1 0 -4.9 0M1038.0 108.6a2.45 2.45 0 1 0 4.9 0a2.45 2.45 0 1 0 -4.9 0M1079.4 185.7a2.45 2.45 0 1 0 4.9 0a2.45 2.45 0 1 0 -4.9 0M1047.8 130.2a2.45 2.45 0 1 0 4.9 0a2.45 2.45 0 1 0 -4.9 0M1158.6 336.2a2.45 2.45 0 1 0 4.9 0a2.45 2.45 0 1 0 -4.9 0M969.6 29.7a2.45 2.45 0 1 0 4.9 0a2.45 2.45 0 1 0 -4.9 0M1098.5 237.1a2.45 2.45 0 1 0 4.9 0a2.45 2.45 0 1 0 -4.9 0M1039.6 109.6a2.45 2.45 0 1 0 4.9 0a2.45 2.45 0 1 0 -4.9 0M1005.8 61.4a2.45 2.45 0 1 0 4.9 0a2.45 2.45 0 1 0 -4.9 0M1049.5 132.8a2.45 2.45 0 1 0 4.9 0a2.45 2.45 0 1 0 -4.9 0M1127.4 296.1a2.45 2.45 0 1 0 4.9 0a2.45 2.45 0 1 0 -4.9 0M1053.2 141.0a2.45 2.45 0 1 0 4.9 0a2.45 2.45 0 1 0 -4.9 0M1002.3 57.6a2.45 2.45 0 1 0 4.9 0a2.45 2.45 0 1 0 -4.9 0M1108.2 259.2a2.45 2.45 0 1 0 4.9 0a2.45 2.45 0 1 0 -4.9 0M1082.1 196.5a2.45 2.45 0 1 0 4.9 0a2.45 2.45 0 1 0 -4.9 0M1019.3 73.7a2.45 2.45 0 1 0 4.9 0a2.45 2.45 0 1 0 -4.9 0M1123.7 290.2a2.45 2.45 0 1 0 4.9 0a2.45 2.45 0 1 0 -4.9 0M989.6 45.1a2.45 2.45 0 1 0 4.9 0a2.45 2.45 0 1 0 -4.9 0M992.3 45.7a2.45 2.45 0 1 0 4.9 0a2.45 2.45 0 1 0 -4.9 0M1127.2 297.0a2.45 2.45 0 1 0 4.9 0a2.45 2.45 0 1 0 -4.9 0M1141.6 318.2a2.45 2.45 0 1 0 4.9 0a2.45 2.45 0 1 0 -4.9 0M1055.4 140.9a2.45 2.45 0 1 0 4.9 0a2.45 2.45 0 1 0 -4.9 0M990.2 42.4a2.45 2.45 0 1 0 4.9 0a2.45 2.45 0 1 0 -4.9 0M1140.4 318.9a2.45 2.45 0 1 0 4.9 0a2.45 2.45 0 1 0 -4.9 0M1010.6 67.8a2.45 2.45 0 1 0 4.9 0a2.45 2.45 0 1 0 -4.9 0M1077.5 181.7a2.45 2.45 0 1 0 4.9 0a2.45 2.45 0 1 0 -4.9 0M1005.2 59.3a2.45 2.45 0 1 0 4.9 0a2.45 2.45 0 1 0 -4.9 0M1098.2 228.6a2.45 2.45 0 1 0 4.9 0a2.45 2.45 0 1 0 -4.9 0M1050.6 134.1a2.45 2.45 0 1 0 4.9 0a2.45 2.45 0 1 0 -4.9 0M1081.7 200.0a2.45 2.45 0 1 0 4.9 0a2.45 2.45 0 1 0 -4.9 0M1082.1 194.9a2.45 2.45 0 1 0 4.9 0a2.45 2.45 0 1 0 -4.9 0M1009.3 68.5a2.45 2.45 0 1 0 4.9 0a2.45 2.45 0 1 0 -4.9 0M1086.1 206.3a2.45 2.45 0 1 0 4.9 0a2.45 2.45 0 1 0 -4.9 0M1058.9 151.3a2.45 2.45 0 1 0 4.9 0a2.45 2.45 0 1 0 -4.9 0M1024.9 85.9a2.45 2.45 0 1 0 4.9 0a2.45 2.45 0 1 0 -4.9 0M1073.3 186.2a2.45 2.45 0 1 0 4.9 0a2.45 2.45 0 1 0 -4.9 0M981.4 38.7a2.45 2.45 0 1 0 4.9 0a2.45 2.45 0 1 0 -4.9 0M991.5 43.8a2.45 2.45 0 1 0 4.9 0a2.45 2.45 0 1 0 -4.9 0M1088.2 209.8a2.45 2.45 0 1 0 4.9 0a2.45 2.45 0 1 0 -4.9 0M1123.8 294.3a2.45 2.45 0 1 0 4.9 0a2.45 2.45 0 1 0 -4.9 0M1086.5 208.9a2.45 2.45 0 1 0 4.9 0a2.45 2.45 0 1 0 -4.9 0M1078.8 190.3a2.45 2.45 0 1 0 4.9 0a2.45 2.45 0 1 0 -4.9 0M994.2 46.4a2.45 2.45 0 1 0 4.9 0a2.45 2.45 0 1 0 -4.9 0M1075.4 185.6a2.45 2.45 0 1 0 4.9 0a2.45 2.45 0 1 0 -4.9 0M1008.4 64.8a2.45 2.45 0 1 0 4.9 0a2.45 2.45 0 1 0 -4.9 0M1115.2 272.0a2.45 2.45 0 1 0 4.9 0a2.45 2.45 0 1 0 -4.9 0M985.5 41.6a2.45 2.45 0 1 0 4.9 0a2.45 2.45 0 1 0 -4.9 0M1125.0 294.6a2.45 2.45 0 1 0 4.9 0a2.45 2.45 0 1 0 -4.9 0M1169.7 340.7a2.45 2.45 0 1 0 4.9 0a2.45 2.45 0 1 0 -4.9 0M991.3 43.9a2.45 2.45 0 1 0 4.9 0a2.45 2.45 0 1 0 -4.9 0M1108.1 249.6a2.45 2.45 0 1 0 4.9 0a2.45 2.45 0 1 0 -4.9 0M1158.2 337.4a2.45 2.45 0 1 0 4.9 0a2.45 2.45 0 1 0 -4.9 0M1034.8 103.2a2.45 2.45 0 1 0 4.9 0a2.45 2.45 0 1 0 -4.9 0M1044.9 121.3a2.45 2.45 0 1 0 4.9 0a2.45 2.45 0 1 0 -4.9 0M1017.5 79.4a2.45 2.45 0 1 0 4.9 0a2.45 2.45 0 1 0 -4.9 0M1083.1 198.6a2.45 2.45 0 1 0 4.9 0a2.45 2.45 0 1 0 -4.9 0M1157.8 335.7a2.45 2.45 0 1 0 4.9 0a2.45 2.45 0 1 0 -4.9 0M1025.9 84.3a2.45 2.45 0 1 0 4.9 0a2.45 2.45 0 1 0 -4.9 0M1113.0 261.4a2.45 2.45 0 1 0 4.9 0a2.45 2.45 0 1 0 -4.9 0M1038.4 108.1a2.45 2.45 0 1 0 4.9 0a2.45 2.45 0 1 0 -4.9 0M1089.3 210.8a2.45 2.45 0 1 0 4.9 0a2.45 2.45 0 1 0 -4.9 0M1077.9 190.6a2.45 2.45 0 1 0 4.9 0a2.45 2.45 0 1 0 -4.9 0M959.8 26.5a2.45 2.45 0 1 0 4.9 0a2.45 2.45 0 1 0 -4.9 0M975.1 33.9a2.45 2.45 0 1 0 4.9 0a2.45 2.45 0 1 0 -4.9 0M1053.9 136.7a2.45 2.45 0 1 0 4.9 0a2.45 2.45 0 1 0 -4.9 0M1156.9 336.0a2.45 2.45 0 1 0 4.9 0a2.45 2.45 0 1 0 -4.9 0M1018.9 76.1a2.45 2.45 0 1 0 4.9 0a2.45 2.45 0 1 0 -4.9 0M1159.1 336.6a2.45 2.45 0 1 0 4.9 0a2.45 2.45 0 1 0 -4.9 0M1045.1 119.1a2.45 2.45 0 1 0 4.9 0a2.45 2.45 0 1 0 -4.9 0M1083.8 201.2a2.45 2.45 0 1 0 4.9 0a2.45 2.45 0 1 0 -4.9 0M1052.2 139.6a2.45 2.45 0 1 0 4.9 0a2.45 2.45 0 1 0 -4.9 0M996.2 48.1a2.45 2.45 0 1 0 4.9 0a2.45 2.45 0 1 0 -4.9 0M1150.2 328.9a2.45 2.45 0 1 0 4.9 0a2.45 2.45 0 1 0 -4.9 0M1085.2 199.8a2.45 2.45 0 1 0 4.9 0a2.45 2.45 0 1 0 -4.9 0M955.7 26.5a2.45 2.45 0 1 0 4.9 0a2.45 2.45 0 1 0 -4.9 0M1038.3 109.1a2.45 2.45 0 1 0 4.9 0a2.45 2.45 0 1 0 -4.9 0M1021.0 79.6a2.45 2.45 0 1 0 4.9 0a2.45 2.45 0 1 0 -4.9 0M996.9 51.9a2.45 2.45 0 1 0 4.9 0a2.45 2.45 0 1 0 -4.9 0M1000.4 54.2a2.45 2.45 0 1 0 4.9 0a2.45 2.45 0 1 0 -4.9 0M1030.9 89.3a2.45 2.45 0 1 0 4.9 0a2.45 2.45 0 1 0 -4.9 0M1146.1 329.4a2.45 2.45 0 1 0 4.9 0a2.45 2.45 0 1 0 -4.9 0M958.4 26.5a2.45 2.45 0 1 0 4.9 0a2.45 2.45 0 1 0 -4.9 0M1079.8 191.1a2.45 2.45 0 1 0 4.9 0a2.45 2.45 0 1 0 -4.9 0M1079.8 193.9a2.45 2.45 0 1 0 4.9 0a2.45 2.45 0 1 0 -4.9 0M1058.7 152.8a2.45 2.45 0 1 0 4.9 0a2.45 2.45 0 1 0 -4.9 0M1077.2 185.1a2.45 2.45 0 1 0 4.9 0a2.45 2.45 0 1 0 -4.9 0M1077.6 186.9a2.45 2.45 0 1 0 4.9 0a2.45 2.45 0 1 0 -4.9 0M1131.5 300.9a2.45 2.45 0 1 0 4.9 0a2.45 2.45 0 1 0 -4.9 0M1005.5 63.0a2.45 2.45 0 1 0 4.9 0a2.45 2.45 0 1 0 -4.9 0M1031.0 97.4a2.45 2.45 0 1 0 4.9 0a2.45 2.45 0 1 0 -4.9 0M1042.8 117.2a2.45 2.45 0 1 0 4.9 0a2.45 2.45 0 1 0 -4.9 0M979.2 35.2a2.45 2.45 0 1 0 4.9 0a2.45 2.45 0 1 0 -4.9 0M1092.5 212.7a2.45 2.45 0 1 0 4.9 0a2.45 2.45 0 1 0 -4.9 0M1030.6 94.1a2.45 2.45 0 1 0 4.9 0a2.45 2.45 0 1 0 -4.9 0M1086.5 197.5a2.45 2.45 0 1 0 4.9 0a2.45 2.45 0 1 0 -4.9 0M1099.7 237.0a2.45 2.45 0 1 0 4.9 0a2.45 2.45 0 1 0 -4.9 0M1110.6 251.4a2.45 2.45 0 1 0 4.9 0a2.45 2.45 0 1 0 -4.9 0M1042.7 115.8a2.45 2.45 0 1 0 4.9 0a2.45 2.45 0 1 0 -4.9 0M1036.0 103.3a2.45 2.45 0 1 0 4.9 0a2.45 2.45 0 1 0 -4.9 0M976.5 35.8a2.45 2.45 0 1 0 4.9 0a2.45 2.45 0 1 0 -4.9 0M994.7 48.7a2.45 2.45 0 1 0 4.9 0a2.45 2.45 0 1 0 -4.9 0M1022.7 83.3a2.45 2.45 0 1 0 4.9 0a2.45 2.45 0 1 0 -4.9 0M1048.2 132.5a2.45 2.45 0 1 0 4.9 0a2.45 2.45 0 1 0 -4.9 0M1077.6 177.9a2.45 2.45 0 1 0 4.9 0a2.45 2.45 0 1 0 -4.9 0M1043.2 124.1a2.45 2.45 0 1 0 4.9 0a2.45 2.45 0 1 0 -4.9 0M1134.0 312.4a2.45 2.45 0 1 0 4.9 0a2.45 2.45 0 1 0 -4.9 0M1072.3 170.7a2.45 2.45 0 1 0 4.9 0a2.45 2.45 0 1 0 -4.9 0M999.4 52.5a2.45 2.45 0 1 0 4.9 0a2.45 2.45 0 1 0 -4.9 0M975.3 34.2a2.45 2.45 0 1 0 4.9 0a2.45 2.45 0 1 0 -4.9 0M965.7 28.7a2.45 2.45 0 1 0 4.9 0a2.45 2.45 0 1 0 -4.9 0M1084.5 201.0a2.45 2.45 0 1 0 4.9 0a2.45 2.45 0 1 0 -4.9 0M1123.3 287.3a2.45 2.45 0 1 0 4.9 0a2.45 2.45 0 1 0 -4.9 0M1095.1 224.1a2.45 2.45 0 1 0 4.9 0a2.45 2.45 0 1 0 -4.9 0M982.4 39.1a2.45 2.45 0 1 0 4.9 0a2.45 2.45 0 1 0 -4.9 0M1015.9 73.3a2.45 2.45 0 1 0 4.9 0a2.45 2.45 0 1 0 -4.9 0M1037.2 110.1a2.45 2.45 0 1 0 4.9 0a2.45 2.45 0 1 0 -4.9 0M983.2 38.8a2.45 2.45 0 1 0 4.9 0a2.45 2.45 0 1 0 -4.9 0M1160.0 338.3a2.45 2.45 0 1 0 4.9 0a2.45 2.45 0 1 0 -4.9 0M1048.4 129.6a2.45 2.45 0 1 0 4.9 0a2.45 2.45 0 1 0 -4.9 0M1107.6 251.4a2.45 2.45 0 1 0 4.9 0a2.45 2.45 0 1 0 -4.9 0M974.6 33.5a2.45 2.45 0 1 0 4.9 0a2.45 2.45 0 1 0 -4.9 0M955.7 26.6a2.45 2.45 0 1 0 4.9 0a2.45 2.45 0 1 0 -4.9 0M975.4 35.7a2.45 2.45 0 1 0 4.9 0a2.45 2.45 0 1 0 -4.9 0M1042.0 123.5a2.45 2.45 0 1 0 4.9 0a2.45 2.45 0 1 0 -4.9 0M967.4 30.1a2.45 2.45 0 1 0 4.9 0a2.45 2.45 0 1 0 -4.9 0M1094.9 220.6a2.45 2.45 0 1 0 4.9 0a2.45 2.45 0 1 0 -4.9 0M1068.5 166.1a2.45 2.45 0 1 0 4.9 0a2.45 2.45 0 1 0 -4.9 0M956.7 26.5a2.45 2.45 0 1 0 4.9 0a2.45 2.45 0 1 0 -4.9 0M1048.8 131.1a2.45 2.45 0 1 0 4.9 0a2.45 2.45 0 1 0 -4.9 0M1119.2 278.2a2.45 2.45 0 1 0 4.9 0a2.45 2.45 0 1 0 -4.9 0M1052.0 139.9a2.45 2.45 0 1 0 4.9 0a2.45 2.45 0 1 0 -4.9 0M1096.8 225.4a2.45 2.45 0 1 0 4.9 0a2.45 2.45 0 1 0 -4.9 0M1085.2 206.3a2.45 2.45 0 1 0 4.9 0a2.45 2.45 0 1 0 -4.9 0M1063.8 157.6a2.45 2.45 0 1 0 4.9 0a2.45 2.45 0 1 0 -4.9 0M1101.1 243.4a2.45 2.45 0 1 0 4.9 0a2.45 2.45 0 1 0 -4.9 0M1067.8 162.5a2.45 2.45 0 1 0 4.9 0a2.45 2.45 0 1 0 -4.9 0M1139.1 312.5a2.45 2.45 0 1 0 4.9 0a2.45 2.45 0 1 0 -4.9 0M1022.6 85.6a2.45 2.45 0 1 0 4.9 0a2.45 2.45 0 1 0 -4.9 0M1049.8 132.2a2.45 2.45 0 1 0 4.9 0a2.45 2.45 0 1 0 -4.9 0M1052.9 139.2a2.45 2.45 0 1 0 4.9 0a2.45 2.45 0 1 0 -4.9 0M1061.2 156.9a2.45 2.45 0 1 0 4.9 0a2.45 2.45 0 1 0 -4.9 0M1110.7 265.9a2.45 2.45 0 1 0 4.9 0a2.45 2.45 0 1 0 -4.9 0M1010.3 68.9a2.45 2.45 0 1 0 4.9 0a2.45 2.45 0 1 0 -4.9 0M1060.9 153.6a2.45 2.45 0 1 0 4.9 0a2.45 2.45 0 1 0 -4.9 0M1047.2 130.2a2.45 2.45 0 1 0 4.9 0a2.45 2.45 0 1 0 -4.9 0M1090.5 215.2a2.45 2.45 0 1 0 4.9 0a2.45 2.45 0 1 0 -4.9 0M1057.1 144.3a2.45 2.45 0 1 0 4.9 0a2.45 2.45 0 1 0 -4.9 0M984.6 40.9a2.45 2.45 0 1 0 4.9 0a2.45 2.45 0 1 0 -4.9 0M1123.0 291.2a2.45 2.45 0 1 0 4.9 0a2.45 2.45 0 1 0 -4.9 0M975.5 33.7a2.45 2.45 0 1 0 4.9 0a2.45 2.45 0 1 0 -4.9 0M1044.9 124.0a2.45 2.45 0 1 0 4.9 0a2.45 2.45 0 1 0 -4.9 0M1041.2 118.1a2.45 2.45 0 1 0 4.9 0a2.45 2.45 0 1 0 -4.9 0M1110.4 263.8a2.45 2.45 0 1 0 4.9 0a2.45 2.45 0 1 0 -4.9 0M1018.1 79.7a2.45 2.45 0 1 0 4.9 0a2.45 2.45 0 1 0 -4.9 0M1066.6 157.2a2.45 2.45 0 1 0 4.9 0a2.45 2.45 0 1 0 -4.9 0M1012.9 73.1a2.45 2.45 0 1 0 4.9 0a2.45 2.45 0 1 0 -4.9 0M1083.0 200.2a2.45 2.45 0 1 0 4.9 0a2.45 2.45 0 1 0 -4.9 0M970.4 30.2a2.45 2.45 0 1 0 4.9 0a2.45 2.45 0 1 0 -4.9 0M1088.4 204.7a2.45 2.45 0 1 0 4.9 0a2.45 2.45 0 1 0 -4.9 0M1004.8 60.6a2.45 2.45 0 1 0 4.9 0a2.45 2.45 0 1 0 -4.9 0M1025.1 83.7a2.45 2.45 0 1 0 4.9 0a2.45 2.45 0 1 0 -4.9 0M1148.0 328.4a2.45 2.45 0 1 0 4.9 0a2.45 2.45 0 1 0 -4.9 0M1096.2 226.7a2.45 2.45 0 1 0 4.9 0a2.45 2.45 0 1 0 -4.9 0M1073.1 168.4a2.45 2.45 0 1 0 4.9 0a2.45 2.45 0 1 0 -4.9 0M1035.2 103.2a2.45 2.45 0 1 0 4.9 0a2.45 2.45 0 1 0 -4.9 0M1056.8 138.6a2.45 2.45 0 1 0 4.9 0a2.45 2.45 0 1 0 -4.9 0M1132.5 305.6a2.45 2.45 0 1 0 4.9 0a2.45 2.45 0 1 0 -4.9 0M1038.8 106.1a2.45 2.45 0 1 0 4.9 0a2.45 2.45 0 1 0 -4.9 0M994.9 47.3a2.45 2.45 0 1 0 4.9 0a2.45 2.45 0 1 0 -4.9 0M999.2 54.6a2.45 2.45 0 1 0 4.9 0a2.45 2.45 0 1 0 -4.9 0M1135.8 314.7a2.45 2.45 0 1 0 4.9 0a2.45 2.45 0 1 0 -4.9 0M1121.6 283.0a2.45 2.45 0 1 0 4.9 0a2.45 2.45 0 1 0 -4.9 0M1056.5 142.6a2.45 2.45 0 1 0 4.9 0a2.45 2.45 0 1 0 -4.9 0M986.0 40.2a2.45 2.45 0 1 0 4.9 0a2.45 2.45 0 1 0 -4.9 0M1035.7 100.4a2.45 2.45 0 1 0 4.9 0a2.45 2.45 0 1 0 -4.9 0M1101.2 241.3a2.45 2.45 0 1 0 4.9 0a2.45 2.45 0 1 0 -4.9 0M1128.0 297.6a2.45 2.45 0 1 0 4.9 0a2.45 2.45 0 1 0 -4.9 0M1065.1 159.8a2.45 2.45 0 1 0 4.9 0a2.45 2.45 0 1 0 -4.9 0M1134.0 309.4a2.45 2.45 0 1 0 4.9 0a2.45 2.45 0 1 0 -4.9 0M1062.2 157.7a2.45 2.45 0 1 0 4.9 0a2.45 2.45 0 1 0 -4.9 0M960.9 26.9a2.45 2.45 0 1 0 4.9 0a2.45 2.45 0 1 0 -4.9 0M1120.5 280.9a2.45 2.45 0 1 0 4.9 0a2.45 2.45 0 1 0 -4.9 0M1058.4 144.8a2.45 2.45 0 1 0 4.9 0a2.45 2.45 0 1 0 -4.9 0M1074.0 178.6a2.45 2.45 0 1 0 4.9 0a2.45 2.45 0 1 0 -4.9 0M1127.2 294.7a2.45 2.45 0 1 0 4.9 0a2.45 2.45 0 1 0 -4.9 0M1170.1 341.6a2.45 2.45 0 1 0 4.9 0a2.45 2.45 0 1 0 -4.9 0M1034.1 98.5a2.45 2.45 0 1 0 4.9 0a2.45 2.45 0 1 0 -4.9 0M1014.5 75.7a2.45 2.45 0 1 0 4.9 0a2.45 2.45 0 1 0 -4.9 0M1099.0 232.4a2.45 2.45 0 1 0 4.9 0a2.45 2.45 0 1 0 -4.9 0M1120.7 280.7a2.45 2.45 0 1 0 4.9 0a2.45 2.45 0 1 0 -4.9 0M1125.6 291.8a2.45 2.45 0 1 0 4.9 0a2.45 2.45 0 1 0 -4.9 0M1060.1 150.8a2.45 2.45 0 1 0 4.9 0a2.45 2.45 0 1 0 -4.9 0M1080.6 198.4a2.45 2.45 0 1 0 4.9 0a2.45 2.45 0 1 0 -4.9 0M1023.5 86.3a2.45 2.45 0 1 0 4.9 0a2.45 2.45 0 1 0 -4.9 0M1106.9 254.3a2.45 2.45 0 1 0 4.9 0a2.45 2.45 0 1 0 -4.9 0M1045.2 120.9a2.45 2.45 0 1 0 4.9 0a2.45 2.45 0 1 0 -4.9 0M1122.5 283.7a2.45 2.45 0 1 0 4.9 0a2.45 2.45 0 1 0 -4.9 0M1018.0 77.3a2.45 2.45 0 1 0 4.9 0a2.45 2.45 0 1 0 -4.9 0M1130.6 298.2a2.45 2.45 0 1 0 4.9 0a2.45 2.45 0 1 0 -4.9 0M1044.3 120.6a2.45 2.45 0 1 0 4.9 0a2.45 2.45 0 1 0 -4.9 0M1068.2 162.8a2.45 2.45 0 1 0 4.9 0a2.45 2.45 0 1 0 -4.9 0M1018.1 76.9a2.45 2.45 0 1 0 4.9 0a2.45 2.45 0 1 0 -4.9 0M1124.0 288.7a2.45 2.45 0 1 0 4.9 0a2.45 2.45 0 1 0 -4.9 0M1091.4 211.0a2.45 2.45 0 1 0 4.9 0a2.45 2.45 0 1 0 -4.9 0M1108.0 248.6a2.45 2.45 0 1 0 4.9 0a2.45 2.45 0 1 0 -4.9 0M1036.9 104.3a2.45 2.45 0 1 0 4.9 0a2.45 2.45 0 1 0 -4.9 0M1096.4 224.5a2.45 2.45 0 1 0 4.9 0a2.45 2.45 0 1 0 -4.9 0M1100.2 236.8a2.45 2.45 0 1 0 4.9 0a2.45 2.45 0 1 0 -4.9 0M1059.9 150.6a2.45 2.45 0 1 0 4.9 0a2.45 2.45 0 1 0 -4.9 0M1003.3 60.0a2.45 2.45 0 1 0 4.9 0a2.45 2.45 0 1 0 -4.9 0M1010.9 65.8a2.45 2.45 0 1 0 4.9 0a2.45 2.45 0 1 0 -4.9 0M1088.3 211.6a2.45 2.45 0 1 0 4.9 0a2.45 2.45 0 1 0 -4.9 0M1045.2 115.7a2.45 2.45 0 1 0 4.9 0a2.45 2.45 0 1 0 -4.9 0M1000.6 59.0a2.45 2.45 0 1 0 4.9 0a2.45 2.45 0 1 0 -4.9 0M1025.1 88.5a2.45 2.45 0 1 0 4.9 0a2.45 2.45 0 1 0 -4.9 0M1041.4 116.3a2.45 2.45 0 1 0 4.9 0a2.45 2.45 0 1 0 -4.9 0M1043.7 125.6a2.45 2.45 0 1 0 4.9 0a2.45 2.45 0 1 0 -4.9 0M1118.1 271.3a2.45 2.45 0 1 0 4.9 0a2.45 2.45 0 1 0 -4.9 0M1046.8 122.7a2.45 2.45 0 1 0 4.9 0a2.45 2.45 0 1 0 -4.9 0M991.6 44.8a2.45 2.45 0 1 0 4.9 0a2.45 2.45 0 1 0 -4.9 0M1095.2 232.2a2.45 2.45 0 1 0 4.9 0a2.45 2.45 0 1 0 -4.9 0M1062.6 155.4a2.45 2.45 0 1 0 4.9 0a2.45 2.45 0 1 0 -4.9 0M1090.7 213.7a2.45 2.45 0 1 0 4.9 0a2.45 2.45 0 1 0 -4.9 0M1105.3 244.5a2.45 2.45 0 1 0 4.9 0a2.45 2.45 0 1 0 -4.9 0M1045.5 126.4a2.45 2.45 0 1 0 4.9 0a2.45 2.45 0 1 0 -4.9 0M976.1 32.8a2.45 2.45 0 1 0 4.9 0a2.45 2.45 0 1 0 -4.9 0M1094.9 223.1a2.45 2.45 0 1 0 4.9 0a2.45 2.45 0 1 0 -4.9 0M1074.9 184.7a2.45 2.45 0 1 0 4.9 0a2.45 2.45 0 1 0 -4.9 0M1033.1 94.8a2.45 2.45 0 1 0 4.9 0a2.45 2.45 0 1 0 -4.9 0M1110.6 271.6a2.45 2.45 0 1 0 4.9 0a2.45 2.45 0 1 0 -4.9 0M1056.2 141.0a2.45 2.45 0 1 0 4.9 0a2.45 2.45 0 1 0 -4.9 0M981.0 38.3a2.45 2.45 0 1 0 4.9 0a2.45 2.45 0 1 0 -4.9 0M1023.5 82.3a2.45 2.45 0 1 0 4.9 0a2.45 2.45 0 1 0 -4.9 0M1074.3 176.9a2.45 2.45 0 1 0 4.9 0a2.45 2.45 0 1 0 -4.9 0M1078.1 177.7a2.45 2.45 0 1 0 4.9 0a2.45 2.45 0 1 0 -4.9 0M1105.0 246.4a2.45 2.45 0 1 0 4.9 0a2.45 2.45 0 1 0 -4.9 0M1107.9 258.7a2.45 2.45 0 1 0 4.9 0a2.45 2.45 0 1 0 -4.9 0M1047.1 123.3a2.45 2.45 0 1 0 4.9 0a2.45 2.45 0 1 0 -4.9 0M1013.5 67.4a2.45 2.45 0 1 0 4.9 0a2.45 2.45 0 1 0 -4.9 0M1148.4 326.3a2.45 2.45 0 1 0 4.9 0a2.45 2.45 0 1 0 -4.9 0M1081.7 197.3a2.45 2.45 0 1 0 4.9 0a2.45 2.45 0 1 0 -4.9 0M1012.3 72.5a2.45 2.45 0 1 0 4.9 0a2.45 2.45 0 1 0 -4.9 0M1135.4 310.8a2.45 2.45 0 1 0 4.9 0a2.45 2.45 0 1 0 -4.9 0M1107.5 254.8a2.45 2.45 0 1 0 4.9 0a2.45 2.45 0 1 0 -4.9 0M1112.9 263.5a2.45 2.45 0 1 0 4.9 0a2.45 2.45 0 1 0 -4.9 0M1070.7 172.3a2.45 2.45 0 1 0 4.9 0a2.45 2.45 0 1 0 -4.9 0M1007.0 62.8a2.45 2.45 0 1 0 4.9 0a2.45 2.45 0 1 0 -4.9 0M1042.1 116.1a2.45 2.45 0 1 0 4.9 0a2.45 2.45 0 1 0 -4.9 0M1025.7 88.7a2.45 2.45 0 1 0 4.9 0a2.45 2.45 0 1 0 -4.9 0M1022.6 85.1a2.45 2.45 0 1 0 4.9 0a2.45 2.45 0 1 0 -4.9 0M1039.9 113.4a2.45 2.45 0 1 0 4.9 0a2.45 2.45 0 1 0 -4.9 0M1029.2 94.9a2.45 2.45 0 1 0 4.9 0a2.45 2.45 0 1 0 -4.9 0M1098.4 232.9a2.45 2.45 0 1 0 4.9 0a2.45 2.45 0 1 0 -4.9 0M1042.7 112.8a2.45 2.45 0 1 0 4.9 0a2.45 2.45 0 1 0 -4.9 0M1079.9 187.4a2.45 2.45 0 1 0 4.9 0a2.45 2.45 0 1 0 -4.9 0M1159.8 335.1a2.45 2.45 0 1 0 4.9 0a2.45 2.45 0 1 0 -4.9 0M1135.3 306.2a2.45 2.45 0 1 0 4.9 0a2.45 2.45 0 1 0 -4.9 0M1068.9 164.7a2.45 2.45 0 1 0 4.9 0a2.45 2.45 0 1 0 -4.9 0M1128.8 301.4a2.45 2.45 0 1 0 4.9 0a2.45 2.45 0 1 0 -4.9 0M1011.5 67.9a2.45 2.45 0 1 0 4.9 0a2.45 2.45 0 1 0 -4.9 0M1074.1 179.1a2.45 2.45 0 1 0 4.9 0a2.45 2.45 0 1 0 -4.9 0M1018.5 76.6a2.45 2.45 0 1 0 4.9 0a2.45 2.45 0 1 0 -4.9 0M1057.8 146.2a2.45 2.45 0 1 0 4.9 0a2.45 2.45 0 1 0 -4.9 0M1133.9 310.5a2.45 2.45 0 1 0 4.9 0a2.45 2.45 0 1 0 -4.9 0M1104.9 244.6a2.45 2.45 0 1 0 4.9 0a2.45 2.45 0 1 0 -4.9 0M971.2 31.1a2.45 2.45 0 1 0 4.9 0a2.45 2.45 0 1 0 -4.9 0M1099.1 229.1a2.45 2.45 0 1 0 4.9 0a2.45 2.45 0 1 0 -4.9 0M997.6 52.7a2.45 2.45 0 1 0 4.9 0a2.45 2.45 0 1 0 -4.9 0M977.5 33.7a2.45 2.45 0 1 0 4.9 0a2.45 2.45 0 1 0 -4.9 0M1022.0 79.6a2.45 2.45 0 1 0 4.9 0a2.45 2.45 0 1 0 -4.9 0M1104.0 240.0a2.45 2.45 0 1 0 4.9 0a2.45 2.45 0 1 0 -4.9 0M1074.0 172.2a2.45 2.45 0 1 0 4.9 0a2.45 2.45 0 1 0 -4.9 0M1083.4 203.8a2.45 2.45 0 1 0 4.9 0a2.45 2.45 0 1 0 -4.9 0M1096.1 224.3a2.45 2.45 0 1 0 4.9 0a2.45 2.45 0 1 0 -4.9 0M1161.8 337.3a2.45 2.45 0 1 0 4.9 0a2.45 2.45 0 1 0 -4.9 0M1080.6 192.5a2.45 2.45 0 1 0 4.9 0a2.45 2.45 0 1 0 -4.9 0M1058.9 143.8a2.45 2.45 0 1 0 4.9 0a2.45 2.45 0 1 0 -4.9 0M1097.1 232.5a2.45 2.45 0 1 0 4.9 0a2.45 2.45 0 1 0 -4.9 0M1060.1 147.7a2.45 2.45 0 1 0 4.9 0a2.45 2.45 0 1 0 -4.9 0M1039.0 103.2a2.45 2.45 0 1 0 4.9 0a2.45 2.45 0 1 0 -4.9 0M1070.0 168.7a2.45 2.45 0 1 0 4.9 0a2.45 2.45 0 1 0 -4.9 0M1030.2 92.4a2.45 2.45 0 1 0 4.9 0a2.45 2.45 0 1 0 -4.9 0M1015.1 73.5a2.45 2.45 0 1 0 4.9 0a2.45 2.45 0 1 0 -4.9 0M1068.1 163.2a2.45 2.45 0 1 0 4.9 0a2.45 2.45 0 1 0 -4.9 0M1057.4 145.1a2.45 2.45 0 1 0 4.9 0a2.45 2.45 0 1 0 -4.9 0M975.3 33.3a2.45 2.45 0 1 0 4.9 0a2.45 2.45 0 1 0 -4.9 0M1101.3 246.3a2.45 2.45 0 1 0 4.9 0a2.45 2.45 0 1 0 -4.9 0M1162.0 338.3a2.45 2.45 0 1 0 4.9 0a2.45 2.45 0 1 0 -4.9 0M1085.8 206.6a2.45 2.45 0 1 0 4.9 0a2.45 2.45 0 1 0 -4.9 0M976.2 34.2a2.45 2.45 0 1 0 4.9 0a2.45 2.45 0 1 0 -4.9 0M1118.1 277.7a2.45 2.45 0 1 0 4.9 0a2.45 2.45 0 1 0 -4.9 0M983.7 40.3a2.45 2.45 0 1 0 4.9 0a2.45 2.45 0 1 0 -4.9 0M1068.1 169.2a2.45 2.45 0 1 0 4.9 0a2.45 2.45 0 1 0 -4.9 0M1127.0 291.7a2.45 2.45 0 1 0 4.9 0a2.45 2.45 0 1 0 -4.9 0M1083.5 197.2a2.45 2.45 0 1 0 4.9 0a2.45 2.45 0 1 0 -4.9 0M1095.3 222.4a2.45 2.45 0 1 0 4.9 0a2.45 2.45 0 1 0 -4.9 0M1091.4 215.9a2.45 2.45 0 1 0 4.9 0a2.45 2.45 0 1 0 -4.9 0M1145.4 328.4a2.45 2.45 0 1 0 4.9 0a2.45 2.45 0 1 0 -4.9 0M1040.4 113.2a2.45 2.45 0 1 0 4.9 0a2.45 2.45 0 1 0 -4.9 0M1087.9 211.3a2.45 2.45 0 1 0 4.9 0a2.45 2.45 0 1 0 -4.9 0M1156.7 337.0a2.45 2.45 0 1 0 4.9 0a2.45 2.45 0 1 0 -4.9 0M1113.9 271.2a2.45 2.45 0 1 0 4.9 0a2.45 2.45 0 1 0 -4.9 0M1040.1 111.2a2.45 2.45 0 1 0 4.9 0a2.45 2.45 0 1 0 -4.9 0M1003.1 63.1a2.45 2.45 0 1 0 4.9 0a2.45 2.45 0 1 0 -4.9 0M1144.0 326.0a2.45 2.45 0 1 0 4.9 0a2.45 2.45 0 1 0 -4.9 0M1133.0 314.2a2.45 2.45 0 1 0 4.9 0a2.45 2.45 0 1 0 -4.9 0M1134.5 307.2a2.45 2.45 0 1 0 4.9 0a2.45 2.45 0 1 0 -4.9 0M1012.1 68.4a2.45 2.45 0 1 0 4.9 0a2.45 2.45 0 1 0 -4.9 0M1048.8 131.7a2.45 2.45 0 1 0 4.9 0a2.45 2.45 0 1 0 -4.9 0M1010.3 67.5a2.45 2.45 0 1 0 4.9 0a2.45 2.45 0 1 0 -4.9 0M1105.6 252.6a2.45 2.45 0 1 0 4.9 0a2.45 2.45 0 1 0 -4.9 0M1013.4 71.3a2.45 2.45 0 1 0 4.9 0a2.45 2.45 0 1 0 -4.9 0M1164.7 340.2a2.45 2.45 0 1 0 4.9 0a2.45 2.45 0 1 0 -4.9 0M1012.0 69.7a2.45 2.45 0 1 0 4.9 0a2.45 2.45 0 1 0 -4.9 0M990.8 42.0a2.45 2.45 0 1 0 4.9 0a2.45 2.45 0 1 0 -4.9 0M990.6 41.5a2.45 2.45 0 1 0 4.9 0a2.45 2.45 0 1 0 -4.9 0M1042.0 108.9a2.45 2.45 0 1 0 4.9 0a2.45 2.45 0 1 0 -4.9 0M1106.2 255.7a2.45 2.45 0 1 0 4.9 0a2.45 2.45 0 1 0 -4.9 0M1150.5 333.9a2.45 2.45 0 1 0 4.9 0a2.45 2.45 0 1 0 -4.9 0M1173.6 342.4a2.45 2.45 0 1 0 4.9 0a2.45 2.45 0 1 0 -4.9 0M1072.2 172.2a2.45 2.45 0 1 0 4.9 0a2.45 2.45 0 1 0 -4.9 0M1062.8 160.0a2.45 2.45 0 1 0 4.9 0a2.45 2.45 0 1 0 -4.9 0M1078.0 182.2a2.45 2.45 0 1 0 4.9 0a2.45 2.45 0 1 0 -4.9 0M1092.0 212.8a2.45 2.45 0 1 0 4.9 0a2.45 2.45 0 1 0 -4.9 0M1033.2 97.4a2.45 2.45 0 1 0 4.9 0a2.45 2.45 0 1 0 -4.9 0M1136.4 311.9a2.45 2.45 0 1 0 4.9 0a2.45 2.45 0 1 0 -4.9 0M1039.0 110.5a2.45 2.45 0 1 0 4.9 0a2.45 2.45 0 1 0 -4.9 0M1103.2 236.1a2.45 2.45 0 1 0 4.9 0a2.45 2.45 0 1 0 -4.9 0M1049.0 131.8a2.45 2.45 0 1 0 4.9 0a2.45 2.45 0 1 0 -4.9 0M1042.4 116.3a2.45 2.45 0 1 0 4.9 0a2.45 2.45 0 1 0 -4.9 0M990.9 46.6a2.45 2.45 0 1 0 4.9 0a2.45 2.45 0 1 0 -4.9 0M1175.3 343.3a2.45 2.45 0 1 0 4.9 0a2.45 2.45 0 1 0 -4.9 0M1031.9 99.8a2.45 2.45 0 1 0 4.9 0a2.45 2.45 0 1 0 -4.9 0M991.7 48.9a2.45 2.45 0 1 0 4.9 0a2.45 2.45 0 1 0 -4.9 0M1092.9 221.9a2.45 2.45 0 1 0 4.9 0a2.45 2.45 0 1 0 -4.9 0M1147.0 327.2a2.45 2.45 0 1 0 4.9 0a2.45 2.45 0 1 0 -4.9 0M993.7 49.4a2.45 2.45 0 1 0 4.9 0a2.45 2.45 0 1 0 -4.9 0M1073.6 177.1a2.45 2.45 0 1 0 4.9 0a2.45 2.45 0 1 0 -4.9 0M1068.7 165.3a2.45 2.45 0 1 0 4.9 0a2.45 2.45 0 1 0 -4.9 0M1036.2 104.6a2.45 2.45 0 1 0 4.9 0a2.45 2.45 0 1 0 -4.9 0M973.0 33.5a2.45 2.45 0 1 0 4.9 0a2.45 2.45 0 1 0 -4.9 0M988.4 40.5a2.45 2.45 0 1 0 4.9 0a2.45 2.45 0 1 0 -4.9 0M976.2 33.3a2.45 2.45 0 1 0 4.9 0a2.45 2.45 0 1 0 -4.9 0M996.0 50.6a2.45 2.45 0 1 0 4.9 0a2.45 2.45 0 1 0 -4.9 0M989.7 43.3a2.45 2.45 0 1 0 4.9 0a2.45 2.45 0 1 0 -4.9 0M1131.7 309.3a2.45 2.45 0 1 0 4.9 0a2.45 2.45 0 1 0 -4.9 0M1087.2 205.0a2.45 2.45 0 1 0 4.9 0a2.45 2.45 0 1 0 -4.9 0M988.8 42.4a2.45 2.45 0 1 0 4.9 0a2.45 2.45 0 1 0 -4.9 0M997.4 52.0a2.45 2.45 0 1 0 4.9 0a2.45 2.45 0 1 0 -4.9 0M1104.0 239.4a2.45 2.45 0 1 0 4.9 0a2.45 2.45 0 1 0 -4.9 0M1030.8 93.4a2.45 2.45 0 1 0 4.9 0a2.45 2.45 0 1 0 -4.9 0M1054.2 145.9a2.45 2.45 0 1 0 4.9 0a2.45 2.45 0 1 0 -4.9 0M1079.6 191.3a2.45 2.45 0 1 0 4.9 0a2.45 2.45 0 1 0 -4.9 0M1125.3 291.6a2.45 2.45 0 1 0 4.9 0a2.45 2.45 0 1 0 -4.9 0M992.2 42.6a2.45 2.45 0 1 0 4.9 0a2.45 2.45 0 1 0 -4.9 0M1112.5 266.3a2.45 2.45 0 1 0 4.9 0a2.45 2.45 0 1 0 -4.9 0M1028.4 95.7a2.45 2.45 0 1 0 4.9 0a2.45 2.45 0 1 0 -4.9 0M1101.2 240.6a2.45 2.45 0 1 0 4.9 0a2.45 2.45 0 1 0 -4.9 0M1068.4 162.7a2.45 2.45 0 1 0 4.9 0a2.45 2.45 0 1 0 -4.9 0M1048.2 124.5a2.45 2.45 0 1 0 4.9 0a2.45 2.45 0 1 0 -4.9 0M1097.6 228.9a2.45 2.45 0 1 0 4.9 0a2.45 2.45 0 1 0 -4.9 0M1092.1 218.8a2.45 2.45 0 1 0 4.9 0a2.45 2.45 0 1 0 -4.9 0M1097.9 229.4a2.45 2.45 0 1 0 4.9 0a2.45 2.45 0 1 0 -4.9 0M1145.3 322.4a2.45 2.45 0 1 0 4.9 0a2.45 2.45 0 1 0 -4.9 0M1004.1 59.0a2.45 2.45 0 1 0 4.9 0a2.45 2.45 0 1 0 -4.9 0M985.6 40.7a2.45 2.45 0 1 0 4.9 0a2.45 2.45 0 1 0 -4.9 0M1002.1 58.3a2.45 2.45 0 1 0 4.9 0a2.45 2.45 0 1 0 -4.9 0M1050.5 130.2a2.45 2.45 0 1 0 4.9 0a2.45 2.45 0 1 0 -4.9 0M1050.3 132.0a2.45 2.45 0 1 0 4.9 0a2.45 2.45 0 1 0 -4.9 0M1149.9 329.8a2.45 2.45 0 1 0 4.9 0a2.45 2.45 0 1 0 -4.9 0M1050.2 132.6a2.45 2.45 0 1 0 4.9 0a2.45 2.45 0 1 0 -4.9 0M968.2 28.5a2.45 2.45 0 1 0 4.9 0a2.45 2.45 0 1 0 -4.9 0M1051.1 134.4a2.45 2.45 0 1 0 4.9 0a2.45 2.45 0 1 0 -4.9 0M1116.6 273.7a2.45 2.45 0 1 0 4.9 0a2.45 2.45 0 1 0 -4.9 0M1069.4 170.3a2.45 2.45 0 1 0 4.9 0a2.45 2.45 0 1 0 -4.9 0M1123.8 287.0a2.45 2.45 0 1 0 4.9 0a2.45 2.45 0 1 0 -4.9 0M1145.1 322.7a2.45 2.45 0 1 0 4.9 0a2.45 2.45 0 1 0 -4.9 0M1046.0 119.0a2.45 2.45 0 1 0 4.9 0a2.45 2.45 0 1 0 -4.9 0M1159.7 336.9a2.45 2.45 0 1 0 4.9 0a2.45 2.45 0 1 0 -4.9 0M1081.1 191.6a2.45 2.45 0 1 0 4.9 0a2.45 2.45 0 1 0 -4.9 0M1069.8 173.8a2.45 2.45 0 1 0 4.9 0a2.45 2.45 0 1 0 -4.9 0M1166.8 339.8a2.45 2.45 0 1 0 4.9 0a2.45 2.45 0 1 0 -4.9 0M1026.0 85.4a2.45 2.45 0 1 0 4.9 0a2.45 2.45 0 1 0 -4.9 0M1140.8 321.1a2.45 2.45 0 1 0 4.9 0a2.45 2.45 0 1 0 -4.9 0M1122.5 291.6a2.45 2.45 0 1 0 4.9 0a2.45 2.45 0 1 0 -4.9 0M986.5 39.8a2.45 2.45 0 1 0 4.9 0a2.45 2.45 0 1 0 -4.9 0M1013.4 76.2a2.45 2.45 0 1 0 4.9 0a2.45 2.45 0 1 0 -4.9 0M1030.3 94.7a2.45 2.45 0 1 0 4.9 0a2.45 2.45 0 1 0 -4.9 0M1118.4 281.9a2.45 2.45 0 1 0 4.9 0a2.45 2.45 0 1 0 -4.9 0M1119.7 281.9a2.45 2.45 0 1 0 4.9 0a2.45 2.45 0 1 0 -4.9 0M1104.9 243.5a2.45 2.45 0 1 0 4.9 0a2.45 2.45 0 1 0 -4.9 0M970.7 30.5a2.45 2.45 0 1 0 4.9 0a2.45 2.45 0 1 0 -4.9 0M971.5 29.4a2.45 2.45 0 1 0 4.9 0a2.45 2.45 0 1 0 -4.9 0M1122.5 283.7a2.45 2.45 0 1 0 4.9 0a2.45 2.45 0 1 0 -4.9 0M1101.8 233.7a2.45 2.45 0 1 0 4.9 0a2.45 2.45 0 1 0 -4.9 0M996.8 53.0a2.45 2.45 0 1 0 4.9 0a2.45 2.45 0 1 0 -4.9 0M1025.8 90.3a2.45 2.45 0 1 0 4.9 0a2.45 2.45 0 1 0 -4.9 0M1074.1 177.4a2.45 2.45 0 1 0 4.9 0a2.45 2.45 0 1 0 -4.9 0M1022.9 86.8a2.45 2.45 0 1 0 4.9 0a2.45 2.45 0 1 0 -4.9 0M1126.4 290.9a2.45 2.45 0 1 0 4.9 0a2.45 2.45 0 1 0 -4.9 0M1109.9 260.2a2.45 2.45 0 1 0 4.9 0a2.45 2.45 0 1 0 -4.9 0M1098.0 230.3a2.45 2.45 0 1 0 4.9 0a2.45 2.45 0 1 0 -4.9 0M1006.1 59.7a2.45 2.45 0 1 0 4.9 0a2.45 2.45 0 1 0 -4.9 0M958.2 27.0a2.45 2.45 0 1 0 4.9 0a2.45 2.45 0 1 0 -4.9 0M1056.5 146.4a2.45 2.45 0 1 0 4.9 0a2.45 2.45 0 1 0 -4.9 0M999.6 54.1a2.45 2.45 0 1 0 4.9 0a2.45 2.45 0 1 0 -4.9 0M1129.5 304.2a2.45 2.45 0 1 0 4.9 0a2.45 2.45 0 1 0 -4.9 0M1097.2 225.6a2.45 2.45 0 1 0 4.9 0a2.45 2.45 0 1 0 -4.9 0M1115.6 272.2a2.45 2.45 0 1 0 4.9 0a2.45 2.45 0 1 0 -4.9 0M1050.5 135.0a2.45 2.45 0 1 0 4.9 0a2.45 2.45 0 1 0 -4.9 0M1139.1 317.3a2.45 2.45 0 1 0 4.9 0a2.45 2.45 0 1 0 -4.9 0M994.2 49.4a2.45 2.45 0 1 0 4.9 0a2.45 2.45 0 1 0 -4.9 0M1009.6 64.9a2.45 2.45 0 1 0 4.9 0a2.45 2.45 0 1 0 -4.9 0M1090.1 213.3a2.45 2.45 0 1 0 4.9 0a2.45 2.45 0 1 0 -4.9 0M1129.3 304.6a2.45 2.45 0 1 0 4.9 0a2.45 2.45 0 1 0 -4.9 0M1051.9 142.9a2.45 2.45 0 1 0 4.9 0a2.45 2.45 0 1 0 -4.9 0M1003.7 61.8a2.45 2.45 0 1 0 4.9 0a2.45 2.45 0 1 0 -4.9 0M1043.3 124.0a2.45 2.45 0 1 0 4.9 0a2.45 2.45 0 1 0 -4.9 0M1088.2 210.8a2.45 2.45 0 1 0 4.9 0a2.45 2.45 0 1 0 -4.9 0M992.9 46.7a2.45 2.45 0 1 0 4.9 0a2.45 2.45 0 1 0 -4.9 0M976.8 33.7a2.45 2.45 0 1 0 4.9 0a2.45 2.45 0 1 0 -4.9 0M1042.6 119.2a2.45 2.45 0 1 0 4.9 0a2.45 2.45 0 1 0 -4.9 0M1079.5 196.6a2.45 2.45 0 1 0 4.9 0a2.45 2.45 0 1 0 -4.9 0M1137.9 319.0a2.45 2.45 0 1 0 4.9 0a2.45 2.45 0 1 0 -4.9 0M1089.7 208.2a2.45 2.45 0 1 0 4.9 0a2.45 2.45 0 1 0 -4.9 0M973.5 31.1a2.45 2.45 0 1 0 4.9 0a2.45 2.45 0 1 0 -4.9 0M1000.4 57.4a2.45 2.45 0 1 0 4.9 0a2.45 2.45 0 1 0 -4.9 0M975.0 32.1a2.45 2.45 0 1 0 4.9 0a2.45 2.45 0 1 0 -4.9 0M1142.3 324.9a2.45 2.45 0 1 0 4.9 0a2.45 2.45 0 1 0 -4.9 0M1034.6 100.9a2.45 2.45 0 1 0 4.9 0a2.45 2.45 0 1 0 -4.9 0M1074.2 180.2a2.45 2.45 0 1 0 4.9 0a2.45 2.45 0 1 0 -4.9 0M988.0 44.2a2.45 2.45 0 1 0 4.9 0a2.45 2.45 0 1 0 -4.9 0M962.8 28.5a2.45 2.45 0 1 0 4.9 0a2.45 2.45 0 1 0 -4.9 0M1070.1 177.1a2.45 2.45 0 1 0 4.9 0a2.45 2.45 0 1 0 -4.9 0M1067.1 160.3a2.45 2.45 0 1 0 4.9 0a2.45 2.45 0 1 0 -4.9 0M1018.3 73.0a2.45 2.45 0 1 0 4.9 0a2.45 2.45 0 1 0 -4.9 0M1052.0 133.6a2.45 2.45 0 1 0 4.9 0a2.45 2.45 0 1 0 -4.9 0M982.7 42.0a2.45 2.45 0 1 0 4.9 0a2.45 2.45 0 1 0 -4.9 0M1133.7 311.0a2.45 2.45 0 1 0 4.9 0a2.45 2.45 0 1 0 -4.9 0M1036.9 101.5a2.45 2.45 0 1 0 4.9 0a2.45 2.45 0 1 0 -4.9 0M1023.8 84.1a2.45 2.45 0 1 0 4.9 0a2.45 2.45 0 1 0 -4.9 0M1056.9 145.9a2.45 2.45 0 1 0 4.9 0a2.45 2.45 0 1 0 -4.9 0M1093.7 222.2a2.45 2.45 0 1 0 4.9 0a2.45 2.45 0 1 0 -4.9 0M1069.3 171.9a2.45 2.45 0 1 0 4.9 0a2.45 2.45 0 1 0 -4.9 0M1033.9 103.9a2.45 2.45 0 1 0 4.9 0a2.45 2.45 0 1 0 -4.9 0M994.9 50.2a2.45 2.45 0 1 0 4.9 0a2.45 2.45 0 1 0 -4.9 0M1080.7 192.9a2.45 2.45 0 1 0 4.9 0a2.45 2.45 0 1 0 -4.9 0M1059.0 147.3a2.45 2.45 0 1 0 4.9 0a2.45 2.45 0 1 0 -4.9 0M1049.7 134.2a2.45 2.45 0 1 0 4.9 0a2.45 2.45 0 1 0 -4.9 0M1052.6 135.8a2.45 2.45 0 1 0 4.9 0a2.45 2.45 0 1 0 -4.9 0M1050.8 136.2a2.45 2.45 0 1 0 4.9 0a2.45 2.45 0 1 0 -4.9 0M1064.5 155.9a2.45 2.45 0 1 0 4.9 0a2.45 2.45 0 1 0 -4.9 0M1011.3 71.3a2.45 2.45 0 1 0 4.9 0a2.45 2.45 0 1 0 -4.9 0M1038.2 102.4a2.45 2.45 0 1 0 4.9 0a2.45 2.45 0 1 0 -4.9 0M1024.7 85.1a2.45 2.45 0 1 0 4.9 0a2.45 2.45 0 1 0 -4.9 0M1109.9 263.4a2.45 2.45 0 1 0 4.9 0a2.45 2.45 0 1 0 -4.9 0M993.8 49.7a2.45 2.45 0 1 0 4.9 0a2.45 2.45 0 1 0 -4.9 0M1088.4 208.7a2.45 2.45 0 1 0 4.9 0a2.45 2.45 0 1 0 -4.9 0M996.3 48.8a2.45 2.45 0 1 0 4.9 0a2.45 2.45 0 1 0 -4.9 0M1140.2 322.1a2.45 2.45 0 1 0 4.9 0a2.45 2.45 0 1 0 -4.9 0M1012.5 70.2a2.45 2.45 0 1 0 4.9 0a2.45 2.45 0 1 0 -4.9 0M1111.8 261.1a2.45 2.45 0 1 0 4.9 0a2.45 2.45 0 1 0 -4.9 0M1018.7 75.3a2.45 2.45 0 1 0 4.9 0a2.45 2.45 0 1 0 -4.9 0M984.3 39.3a2.45 2.45 0 1 0 4.9 0a2.45 2.45 0 1 0 -4.9 0M1080.7 201.8a2.45 2.45 0 1 0 4.9 0a2.45 2.45 0 1 0 -4.9 0M1008.6 67.8a2.45 2.45 0 1 0 4.9 0a2.45 2.45 0 1 0 -4.9 0M999.0 57.5a2.45 2.45 0 1 0 4.9 0a2.45 2.45 0 1 0 -4.9 0M983.4 41.8a2.45 2.45 0 1 0 4.9 0a2.45 2.45 0 1 0 -4.9 0M1018.9 79.1a2.45 2.45 0 1 0 4.9 0a2.45 2.45 0 1 0 -4.9 0M1112.8 268.3a2.45 2.45 0 1 0 4.9 0a2.45 2.45 0 1 0 -4.9 0M987.8 40.9a2.45 2.45 0 1 0 4.9 0a2.45 2.45 0 1 0 -4.9 0M1047.6 123.6a2.45 2.45 0 1 0 4.9 0a2.45 2.45 0 1 0 -4.9 0M1041.9 109.3a2.45 2.45 0 1 0 4.9 0a2.45 2.45 0 1 0 -4.9 0M1097.4 229.2a2.45 2.45 0 1 0 4.9 0a2.45 2.45 0 1 0 -4.9 0M1096.7 231.3a2.45 2.45 0 1 0 4.9 0a2.45 2.45 0 1 0 -4.9 0M1077.4 181.3a2.45 2.45 0 1 0 4.9 0a2.45 2.45 0 1 0 -4.9 0M1015.5 72.3a2.45 2.45 0 1 0 4.9 0a2.45 2.45 0 1 0 -4.9 0M1133.0 308.4a2.45 2.45 0 1 0 4.9 0a2.45 2.45 0 1 0 -4.9 0M1091.5 212.5a2.45 2.45 0 1 0 4.9 0a2.45 2.45 0 1 0 -4.9 0M1008.5 65.0a2.45 2.45 0 1 0 4.9 0a2.45 2.45 0 1 0 -4.9 0M1045.7 121.7a2.45 2.45 0 1 0 4.9 0a2.45 2.45 0 1 0 -4.9 0M1049.3 127.9a2.45 2.45 0 1 0 4.9 0a2.45 2.45 0 1 0 -4.9 0M1054.5 140.8a2.45 2.45 0 1 0 4.9 0a2.45 2.45 0 1 0 -4.9 0M1046.1 120.8a2.45 2.45 0 1 0 4.9 0a2.45 2.45 0 1 0 -4.9 0M1115.2 271.8a2.45 2.45 0 1 0 4.9 0a2.45 2.45 0 1 0 -4.9 0M1035.4 102.5a2.45 2.45 0 1 0 4.9 0a2.45 2.45 0 1 0 -4.9 0M1051.0 131.1a2.45 2.45 0 1 0 4.9 0a2.45 2.45 0 1 0 -4.9 0M1002.6 56.9a2.45 2.45 0 1 0 4.9 0a2.45 2.45 0 1 0 -4.9 0M997.1 49.2a2.45 2.45 0 1 0 4.9 0a2.45 2.45 0 1 0 -4.9 0M1051.3 133.0a2.45 2.45 0 1 0 4.9 0a2.45 2.45 0 1 0 -4.9 0M1062.2 149.5a2.45 2.45 0 1 0 4.9 0a2.45 2.45 0 1 0 -4.9 0M1033.6 99.7a2.45 2.45 0 1 0 4.9 0a2.45 2.45 0 1 0 -4.9 0M1067.7 162.3a2.45 2.45 0 1 0 4.9 0a2.45 2.45 0 1 0 -4.9 0M1141.8 321.3a2.45 2.45 0 1 0 4.9 0a2.45 2.45 0 1 0 -4.9 0M1076.1 184.6a2.45 2.45 0 1 0 4.9 0a2.45 2.45 0 1 0 -4.9 0M988.1 40.2a2.45 2.45 0 1 0 4.9 0a2.45 2.45 0 1 0 -4.9 0M1081.7 201.3a2.45 2.45 0 1 0 4.9 0a2.45 2.45 0 1 0 -4.9 0M1152.8 334.2a2.45 2.45 0 1 0 4.9 0a2.45 2.45 0 1 0 -4.9 0M1140.6 318.1a2.45 2.45 0 1 0 4.9 0a2.45 2.45 0 1 0 -4.9 0M1049.6 132.1a2.45 2.45 0 1 0 4.9 0a2.45 2.45 0 1 0 -4.9 0M1136.3 309.8a2.45 2.45 0 1 0 4.9 0a2.45 2.45 0 1 0 -4.9 0M972.8 31.8a2.45 2.45 0 1 0 4.9 0a2.45 2.45 0 1 0 -4.9 0M990.3 43.9a2.45 2.45 0 1 0 4.9 0a2.45 2.45 0 1 0 -4.9 0M965.5 29.6a2.45 2.45 0 1 0 4.9 0a2.45 2.45 0 1 0 -4.9 0M1055.0 146.1a2.45 2.45 0 1 0 4.9 0a2.45 2.45 0 1 0 -4.9 0M1076.7 186.4a2.45 2.45 0 1 0 4.9 0a2.45 2.45 0 1 0 -4.9 0M1109.6 256.8a2.45 2.45 0 1 0 4.9 0a2.45 2.45 0 1 0 -4.9 0M967.2 29.5a2.45 2.45 0 1 0 4.9 0a2.45 2.45 0 1 0 -4.9 0M1022.8 83.2a2.45 2.45 0 1 0 4.9 0a2.45 2.45 0 1 0 -4.9 0M1075.5 182.0a2.45 2.45 0 1 0 4.9 0a2.45 2.45 0 1 0 -4.9 0M998.3 51.8a2.45 2.45 0 1 0 4.9 0a2.45 2.45 0 1 0 -4.9 0M1163.3 337.9a2.45 2.45 0 1 0 4.9 0a2.45 2.45 0 1 0 -4.9 0M1006.8 66.0a2.45 2.45 0 1 0 4.9 0a2.45 2.45 0 1 0 -4.9 0M1001.7 58.4a2.45 2.45 0 1 0 4.9 0a2.45 2.45 0 1 0 -4.9 0M1048.7 132.9a2.45 2.45 0 1 0 4.9 0a2.45 2.45 0 1 0 -4.9 0M1102.3 243.1a2.45 2.45 0 1 0 4.9 0a2.45 2.45 0 1 0 -4.9 0M1014.1 73.8a2.45 2.45 0 1 0 4.9 0a2.45 2.45 0 1 0 -4.9 0M995.1 48.5a2.45 2.45 0 1 0 4.9 0a2.45 2.45 0 1 0 -4.9 0M976.1 34.4a2.45 2.45 0 1 0 4.9 0a2.45 2.45 0 1 0 -4.9 0M1103.3 248.4a2.45 2.45 0 1 0 4.9 0a2.45 2.45 0 1 0 -4.9 0M1062.9 156.6a2.45 2.45 0 1 0 4.9 0a2.45 2.45 0 1 0 -4.9 0M1093.0 219.7a2.45 2.45 0 1 0 4.9 0a2.45 2.45 0 1 0 -4.9 0M1042.2 125.0a2.45 2.45 0 1 0 4.9 0a2.45 2.45 0 1 0 -4.9 0M1024.1 91.7a2.45 2.45 0 1 0 4.9 0a2.45 2.45 0 1 0 -4.9 0M991.4 45.6a2.45 2.45 0 1 0 4.9 0a2.45 2.45 0 1 0 -4.9 0M1002.0 58.3a2.45 2.45 0 1 0 4.9 0a2.45 2.45 0 1 0 -4.9 0M1001.5 56.2a2.45 2.45 0 1 0 4.9 0a2.45 2.45 0 1 0 -4.9 0M1105.8 257.7a2.45 2.45 0 1 0 4.9 0a2.45 2.45 0 1 0 -4.9 0M1056.8 145.0a2.45 2.45 0 1 0 4.9 0a2.45 2.45 0 1 0 -4.9 0M1039.4 109.0a2.45 2.45 0 1 0 4.9 0a2.45 2.45 0 1 0 -4.9 0M975.3 33.4a2.45 2.45 0 1 0 4.9 0a2.45 2.45 0 1 0 -4.9 0M1012.0 68.7a2.45 2.45 0 1 0 4.9 0a2.45 2.45 0 1 0 -4.9 0M1151.5 331.3a2.45 2.45 0 1 0 4.9 0a2.45 2.45 0 1 0 -4.9 0M1061.9 151.5a2.45 2.45 0 1 0 4.9 0a2.45 2.45 0 1 0 -4.9 0M1009.1 62.4a2.45 2.45 0 1 0 4.9 0a2.45 2.45 0 1 0 -4.9 0M1078.7 186.6a2.45 2.45 0 1 0 4.9 0a2.45 2.45 0 1 0 -4.9 0M1168.3 340.8a2.45 2.45 0 1 0 4.9 0a2.45 2.45 0 1 0 -4.9 0" fill="none" stroke="#000" stroke-width="1.0"/>
<path d="M910.2 42.7l4.6 4.6m0 -4.6l-4.6 4.6M908.8 41.6l4.6 4.6m0 -4.6l-4.6 4.6M926.0 30.4l4.6 4.6m0 -4.6l-4.6 4.6M751.8 319.6l4.6 4.6m0 -4.6l-4.6 4.6M829.4 177.5l4.6 4.6m0 -4.6l-4.6 4.6M820.0 192.1l4.6 4.6m0 -4.6l-4.6 4.6M807.8 204.9l4.6 4.6m0 -4.6l-4.6 4.6M887.6 57.8l4.6 4.6m0 -4.6l-4.6 4.6M785.9 267.2l4.6 4.6m0 -4.6l-4.6 4.6M899.9 50.9l4.6 4.6m0 -4.6l-4.6 4.6M810.6 203.9l4.6 4.6m0 -4.6l-4.6 4.6M862.8 97.8l4.6 4.6m0 -4.6l-4.6 4.6M814.3 200.4l4.6 4.6m0 -4.6l-4.6 4.6M786.3 264.9l4.6 4.6m0 -4.6l-4.6 4.6M839.1 160.9l4.6 4.6m0 -4.6l-4.6 4.6M934.0 31.0l4.6 4.6m0 -4.6l-4.6 4.6M873.5 81.0l4.6 4.6m0 -4.6l-4.6 4.6M824.1 178.6l4.6 4.6m0 -4.6l-4.6 4.6M788.0 262.0l4.6 4.6m0 -4.6l-4.6 4.6M884.8 67.3l4.6 4.6m0 -4.6l-4.6 4.6M857.8 110.7l4.6 4.6m0 -4.6l-4.6 4.6M823.2 193.8l4.6 4.6m0 -4.6l-4.6 4.6M806.5 220.2l4.6 4.6m0 -4.6l-4.6 4.6M793.3 254.4l4.6 4.6m0 -4.6l-4.6 4.6M880.7 72.9l4.6 4.6m0 -4.6l-4.6 4.6M825.0 181.2l4.6 4.6m0 -4.6l-4.6 4.6M791.2 247.0l4.6 4.6m0 -4.6l-4.6 4.6M835.5 162.9l4.6 4.6m0 -4.6l-4.6 4.6M851.1 123.1l4.6 4.6m0 -4.6l-4.6 4.6M904.8 49.9l4.6 4.6m0 -4.6l-4.6 4.6M847.5 127.9l4.6 4.6m0 -4.6l-4.6 4.6M904.6 46.2l4.6 4.6m0 -4.6l-4.6 4.6M801.0 242.2l4.6 4.6m0 -4.6l-4.6 4.6M745.5 325.1l4.6 4.6m0 -4.6l-4.6 4.6M845.5 143.6l4.6 4.6m0 -4.6l-4.6 4.6M771.0 288.6l4.6 4.6m0 -4.6l-4.6 4.6M826.3 181.0l4.6 4.6m0 -4.6l-4.6 4.6M938.9 26.7l4.6 4.6m0 -4.6l-4.6 4.6M897.6 53.2l4.6 4.6m0 -4.6l-4.6 4.6M819.3 197.6l4.6 4.6m0 -4.6l-4.6 4.6M795.8 244.7l4.6 4.6m0 -4.6l-4.6 4.6M867.3 96.4l4.6 4.6m0 -4.6l-4.6 4.6M761.5 302.9l4.6 4.6m0 -4.6l-4.6 4.6M877.6 78.4l4.6 4.6m0 -4.6l-4.6 4.6M830.8 170.0l4.6 4.6m0 -4.6l-4.6 4.6M868.2 90.1l4.6 4.6m0 -4.6l-4.6 4.6M894.1 52.9l4.6 4.6m0 -4.6l-4.6 4.6M866.8 91.0l4.6 4.6m0 -4.6l-4.6 4.6M747.5 323.1l4.6 4.6m0 -4.6l-4.6 4.6M846.1 127.6l4.6 4.6m0 -4.6l-4.6 4.6M925.8 31.2l4.6 4.6m0 -4.6l-4.6 4.6M847.9 142.8l4.6 4.6m0 -4.6l-4.6 4.6M883.1 69.1l4.6 4.6m0 -4.6l-4.6 4.6M841.6 145.1l4.6 4.6m0 -4.6l-4.6 4.6M858.1 110.0l4.6 4.6m0 -4.6l-4.6 4.6M940.0 28.2l4.6 4.6m0 -4.6l-4.6 4.6M884.7 64.4l4.6 4.6m0 -4.6l-4.6 4.6M867.7 87.4l4.6 4.6m0 -4.6l-4.6 4.6M876.2 81.4l4.6 4.6m0 -4.6l-4.6 4.6M825.1 180.6l4.6 4.6m0 -4.6l-4.6 4.6M766.4 302.9l4.6 4.6m0 -4.6l-4.6 4.6M832.8 168.2l4.6 4.6m0 -4.6l-4.6 4.6M835.6 160.2l4.6 4.6m0 -4.6l-4.6 4.6M874.2 80.6l4.6 4.6m0 -4.6l-4.6 4.6M809.7 210.5l4.6 4.6m0 -4.6l-4.6 4.6M898.6 52.3l4.6 4.6m0 -4.6l-4.6 4.6M741.2 329.0l4.6 4.6m0 -4.6l-4.6 4.6M853.8 113.0l4.6 4.6m0 -4.6l-4.6 4.6M863.2 94.8l4.6 4.6m0 -4.6l-4.6 4.6M867.9 89.4l4.6 4.6m0 -4.6l-4.6 4.6M786.9 264.3l4.6 4.6m0 -4.6l-4.6 4.6M907.2 45.6l4.6 4.6m0 -4.6l-4.6 4.6M795.2 246.4l4.6 4.6m0 -4.6l-4.6 4.6M793.4 249.9l4.6 4.6m0 -4.6l-4.6 4.6M896.3 53.6l4.6 4.6m0 -4.6l-4.6 4.6M821.1 194.1l4.6 4.6m0 -4.6l-4.6 4.6M735.4 335.5l4.6 4.6m0 -4.6l-4.6 4.6M783.2 271.2l4.6 4.6m0 -4.6l-4.6 4.6M859.0 105.1l4.6 4.6m0 -4.6l-4.6 4.6M840.3 147.6l4.6 4.6m0 -4.6l-4.6 4.6M773.8 279.4l4.6 4.6m0 -4.6l-4.6 4.6M803.3 233.4l4.6 4.6m0 -4.6l-4.6 4.6M869.0 95.7l4.6 4.6m0 -4.6l-4.6 4.6M919.3 34.7l4.6 4.6m0 -4.6l-4.6 4.6M764.8 303.3l4.6 4.6m0 -4.6l-4.6 4.6M782.1 266.2l4.6 4.6m0 -4.6l-4.6 4.6M782.7 269.4l4.6 4.6m0 -4.6l-4.6 4.6M886.5 68.5l4.6 4.6m0 -4.6l-4.6 4.6M840.5 154.5l4.6 4.6m0 -4.6l-4.6 4.6M839.7 139.8l4.6 4.6m0 -4.6l-4.6 4.6M806.9 215.0l4.6 4.6m0 -4.6l-4.6 4.6M875.2 80.4l4.6 4.6m0 -4.6l-4.6 4.6M763.2 303.5l4.6 4.6m0 -4.6l-4.6 4.6M855.5 107.7l4.6 4.6m0 -4.6l-4.6 4.6M771.8 291.6l4.6 4.6m0 -4.6l-4.6 4.6M769.5 296.9l4.6 4.6m0 -4.6l-4.6 4.6M886.3 64.9l4.6 4.6m0 -4.6l-4.6 4.6M806.6 212.3l4.6 4.6m0 -4.6l-4.6 4.6M821.5 182.3l4.6 4.6m0 -4.6l-4.6 4.6M910.9 42.7l4.6 4.6m0 -4.6l-4.6 4.6M820.2 191.3l4.6 4.6m0 -4.6l-4.6 4.6M898.2 55.4l4.6 4.6m0 -4.6l-4.6 4.6M904.8 49.3l4.6 4.6m0 -4.6l-4.6 4.6M746.4 328.0l4.6 4.6m0 -4.6l-4.6 4.6M813.3 203.3l4.6 4.6m0 -4.6l-4.6 4.6M931.7 28.6l4.6 4.6m0 -4.6l-4.6 4.6M792.6 245.7l4.6 4.6m0 -4.6l-4.6 4.6M907.3 42.5l4.6 4.6m0 -4.6l-4.6 4.6M836.0 159.2l4.6 4.6m0 -4.6l-4.6 4.6M869.6 87.5l4.6 4.6m0 -4.6l-4.6 4.6M754.0 319.0l4.6 4.6m0 -4.6l-4.6 4.6M928.6 31.5l4.6 4.6m0 -4.6l-4.6 4.6M891.7 61.1l4.6 4.6m0 -4.6l-4.6 4.6M866.5 87.2l4.6 4.6m0 -4.6l-4.6 4.6M782.8 272.7l4.6 4.6m0 -4.6l-4.6 4.6M756.8 316.8l4.6 4.6m0 -4.6l-4.6 4.6M806.0 224.6l4.6 4.6m0 -4.6l-4.6 4.6M787.0 259.3l4.6 4.6m0 -4.6l-4.6 4.6M836.9 151.7l4.6 4.6m0 -4.6l-4.6 4.6M846.9 134.7l4.6 4.6m0 -4.6l-4.6 4.6M824.3 190.7l4.6 4.6m0 -4.6l-4.6 4.6M901.1 50.2l4.6 4.6m0 -4.6l-4.6 4.6M920.5 34.0l4.6 4.6m0 -4.6l-4.6 4.6M781.8 265.8l4.6 4.6m0 -4.6l-4.6 4.6M837.1 155.2l4.6 4.6m0 -4.6l-4.6 4.6M777.4 276.6l4.6 4.6m0 -4.6l-4.6 4.6M872.8 79.9l4.6 4.6m0 -4.6l-4.6 4.6M776.5 282.2l4.6 4.6m0 -4.6l-4.6 4.6M887.4 60.1l4.6 4.6m0 -4.6l-4.6 4.6M908.9 43.7l4.6 4.6m0 -4.6l-4.6 4.6M850.7 118.4l4.6 4.6m0 -4.6l-4.6 4.6M855.1 113.6l4.6 4.6m0 -4.6l-4.6 4.6M916.8 38.0l4.6 4.6m0 -4.6l-4.6 4.6M903.2 49.2l4.6 4.6m0 -4.6l-4.6 4.6M850.4 123.7l4.6 4.6m0 -4.6l-4.6 4.6M807.7 212.0l4.6 4.6m0 -4.6l-4.6 4.6M809.1 209.8l4.6 4.6m0 -4.6l-4.6 4.6M890.1 61.7l4.6 4.6m0 -4.6l-4.6 4.6M817.8 196.9l4.6 4.6m0 -4.6l-4.6 4.6M928.8 31.1l4.6 4.6m0 -4.6l-4.6 4.6M814.6 195.8l4.6 4.6m0 -4.6l-4.6 4.6M853.1 115.1l4.6 4.6m0 -4.6l-4.6 4.6M743.9 325.9l4.6 4.6m0 -4.6l-4.6 4.6M743.2 326.4l4.6 4.6m0 -4.6l-4.6 4.6M786.0 267.5l4.6 4.6m0 -4.6l-4.6 4.6M892.8 63.4l4.6 4.6m0 -4.6l-4.6 4.6M889.5 64.6l4.6 4.6m0 -4.6l-4.6 4.6M880.2 74.3l4.6 4.6m0 -4.6l-4.6 4.6M874.8 75.4l4.6 4.6m0 -4.6l-4.6 4.6M782.7 264.1l4.6 4.6m0 -4.6l-4.6 4.6M881.8 70.0l4.6 4.6m0 -4.6l-4.6 4.6M744.9 328.7l4.6 4.6m0 -4.6l-4.6 4.6M776.3 278.8l4.6 4.6m0 -4.6l-4.6 4.6M931.1 29.1l4.6 4.6m0 -4.6l-4.6 4.6M819.3 191.9l4.6 4.6m0 -4.6l-4.6 4.6M875.8 76.8l4.6 4.6m0 -4.6l-4.6 4.6M850.3 125.5l4.6 4.6m0 -4.6l-4.6 4.6M897.9 52.7l4.6 4.6m0 -4.6l-4.6 4.6M790.5 252.7l4.6 4.6m0 -4.6l-4.6 4.6M749.4 324.9l4.6 4.6m0 -4.6l-4.6 4.6M835.0 160.6l4.6 4.6m0 -4.6l-4.6 4.6M789.8 255.5l4.6 4.6m0 -4.6l-4.6 4.6M811.2 206.5l4.6 4.6m0 -4.6l-4.6 4.6M827.8 177.2l4.6 4.6m0 -4.6l-4.6 4.6M866.0 92.2l4.6 4.6m0 -4.6l-4.6 4.6M876.8 79.2l4.6 4.6m0 -4.6l-4.6 4.6M845.5 133.6l4.6 4.6m0 -4.6l-4.6 4.6M810.9 203.7l4.6 4.6m0 -4.6l-4.6 4.6M875.4 81.8l4.6 4.6m0 -4.6l-4.6 4.6M810.4 206.5l4.6 4.6m0 -4.6l-4.6 4.6M773.0 288.6l4.6 4.6m0 -4.6l-4.6 4.6M863.7 101.1l4.6 4.6m0 -4.6l-4.6 4.6M826.7 183.8l4.6 4.6m0 -4.6l-4.6 4.6M903.9 47.0l4.6 4.6m0 -4.6l-4.6 4.6M937.5 27.3l4.6 4.6m0 -4.6l-4.6 4.6M780.4 269.5l4.6 4.6m0 -4.6l-4.6 4.6M889.3 60.0l4.6 4.6m0 -4.6l-4.6 4.6M737.0 331.9l4.6 4.6m0 -4.6l-4.6 4.6M781.1 264.0l4.6 4.6m0 -4.6l-4.6 4.6M818.3 193.4l4.6 4.6m0 -4.6l-4.6 4.6M863.7 102.0l4.6 4.6m0 -4.6l-4.6 4.6M867.7 85.3l4.6 4.6m0 -4.6l-4.6 4.6M869.8 87.4l4.6 4.6m0 -4.6l-4.6 4.6M860.1 109.1l4.6 4.6m0 -4.6l-4.6 4.6M869.3 90.9l4.6 4.6m0 -4.6l-4.6 4.6M840.6 150.2l4.6 4.6m0 -4.6l-4.6 4.6M903.3 44.9l4.6 4.6m0 -4.6l-4.6 4.6M810.6 203.8l4.6 4.6m0 -4.6l-4.6 4.6M902.5 50.6l4.6 4.6m0 -4.6l-4.6 4.6M840.3 145.0l4.6 4.6m0 -4.6l-4.6 4.6M790.2 254.5l4.6 4.6m0 -4.6l-4.6 4.6M943.8 27.2l4.6 4.6m0 -4.6l-4.6 4.6M910.4 45.2l4.6 4.6m0 -4.6l-4.6 4.6M850.0 127.4l4.6 4.6m0 -4.6l-4.6 4.6M919.2 34.3l4.6 4.6m0 -4.6l-4.6 4.6M890.4 60.7l4.6 4.6m0 -4.6l-4.6 4.6M839.8 145.9l4.6 4.6m0 -4.6l-4.6 4.6M741.4 325.3l4.6 4.6m0 -4.6l-4.6 4.6M848.5 121.3l4.6 4.6m0 -4.6l-4.6 4.6M800.8 222.1l4.6 4.6m0 -4.6l-4.6 4.6M921.1 35.1l4.6 4.6m0 -4.6l-4.6 4.6M836.2 155.3l4.6 4.6m0 -4.6l-4.6 4.6M848.4 124.3l4.6 4.6m0 -4.6l-4.6 4.6M801.0 236.6l4.6 4.6m0 -4.6l-4.6 4.6M783.0 268.2l4.6 4.6m0 -4.6l-4.6 4.6M932.9 29.5l4.6 4.6m0 -4.6l-4.6 4.6M898.6 52.9l4.6 4.6m0 -4.6l-4.6 4.6M801.8 228.3l4.6 4.6m0 -4.6l-4.6 4.6M826.6 180.1l4.6 4.6m0 -4.6l-4.6 4.6M784.6 260.4l4.6 4.6m0 -4.6l-4.6 4.6M779.5 276.1l4.6 4.6m0 -4.6l-4.6 4.6M852.4 114.6l4.6 4.6m0 -4.6l-4.6 4.6M764.9 308.5l4.6 4.6m0 -4.6l-4.6 4.6M917.3 37.6l4.6 4.6m0 -4.6l-4.6 4.6M922.2 33.4l4.6 4.6m0 -4.6l-4.6 4.6M764.7 306.7l4.6 4.6m0 -4.6l-4.6 4.6M853.3 116.5l4.6 4.6m0 -4.6l-4.6 4.6M790.3 254.4l4.6 4.6m0 -4.6l-4.6 4.6M864.4 102.0l4.6 4.6m0 -4.6l-4.6 4.6M856.9 110.0l4.6 4.6m0 -4.6l-4.6 4.6M850.0 126.6l4.6 4.6m0 -4.6l-4.6 4.6M804.7 219.1l4.6 4.6m0 -4.6l-4.6 4.6M933.5 28.7l4.6 4.6m0 -4.6l-4.6 4.6M869.9 85.7l4.6 4.6m0 -4.6l-4.6 4.6M821.3 193.1l4.6 4.6m0 -4.6l-4.6 4.6M889.8 61.4l4.6 4.6m0 -4.6l-4.6 4.6M852.3 114.1l4.6 4.6m0 -4.6l-4.6 4.6M774.4 286.8l4.6 4.6m0 -4.6l-4.6 4.6M894.1 61.0l4.6 4.6m0 -4.6l-4.6 4.6M855.0 119.3l4.6 4.6m0 -4.6l-4.6 4.6M920.1 33.7l4.6 4.6m0 -4.6l-4.6 4.6M857.0 112.5l4.6 4.6m0 -4.6l-4.6 4.6M838.7 151.3l4.6 4.6m0 -4.6l-4.6 4.6M757.1 313.2l4.6 4.6m0 -4.6l-4.6 4.6M856.1 111.3l4.6 4.6m0 -4.6l-4.6 4.6M827.8 166.4l4.6 4.6m0 -4.6l-4.6 4.6M797.5 240.8l4.6 4.6m0 -4.6l-4.6 4.6M752.7 319.5l4.6 4.6m0 -4.6l-4.6 4.6M878.6 75.1l4.6 4.6m0 -4.6l-4.6 4.6M759.6 310.6l4.6 4.6m0 -4.6l-4.6 4.6M768.6 298.1l4.6 4.6m0 -4.6l-4.6 4.6M862.1 100.1l4.6 4.6m0 -4.6l-4.6 4.6M782.3 271.0l4.6 4.6m0 -4.6l-4.6 4.6M853.0 114.2l4.6 4.6m0 -4.6l-4.6 4.6M851.7 116.5l4.6 4.6m0 -4.6l-4.6 4.6M872.4 82.2l4.6 4.6m0 -4.6l-4.6 4.6M881.3 65.4l4.6 4.6m0 -4.6l-4.6 4.6M887.7 65.6l4.6 4.6m0 -4.6l-4.6 4.6M811.8 202.9l4.6 4.6m0 -4.6l-4.6 4.6M749.0 322.0l4.6 4.6m0 -4.6l-4.6 4.6M862.7 97.5l4.6 4.6m0 -4.6l-4.6 4.6M872.5 82.0l4.6 4.6m0 -4.6l-4.6 4.6M751.8 322.5l4.6 4.6m0 -4.6l-4.6 4.6M803.1 235.6l4.6 4.6m0 -4.6l-4.6 4.6M832.7 158.1l4.6 4.6m0 -4.6l-4.6 4.6M763.5 302.4l4.6 4.6m0 -4.6l-4.6 4.6M889.8 60.8l4.6 4.6m0 -4.6l-4.6 4.6M746.3 326.5l4.6 4.6m0 -4.6l-4.6 4.6M764.3 302.7l4.6 4.6m0 -4.6l-4.6 4.6M812.6 201.8l4.6 4.6m0 -4.6l-4.6 4.6M776.0 281.2l4.6 4.6m0 -4.6l-4.6 4.6M869.7 87.5l4.6 4.6m0 -4.6l-4.6 4.6M786.5 263.8l4.6 4.6m0 -4.6l-4.6 4.6M781.6 270.7l4.6 4.6m0 -4.6l-4.6 4.6M829.7 173.6l4.6 4.6m0 -4.6l-4.6 4.6M861.4 97.5l4.6 4.6m0 -4.6l-4.6 4.6M924.9 34.6l4.6 4.6m0 -4.6l-4.6 4.6M863.1 100.8l4.6 4.6m0 -4.6l-4.6 4.6M828.0 176.5l4.6 4.6m0 -4.6l-4.6 4.6M753.6 318.2l4.6 4.6m0 -4.6l-4.6 4.6M911.3 41.6l4.6 4.6m0 -4.6l-4.6 4.6M848.1 122.0l4.6 4.6m0 -4.6l-4.6 4.6M920.6 35.0l4.6 4.6m0 -4.6l-4.6 4.6M767.2 294.0l4.6 4.6m0 -4.6l-4.6 4.6M842.2 141.0l4.6 4.6m0 -4.6l-4.6 4.6M893.8 58.2l4.6 4.6m0 -4.6l-4.6 4.6M866.8 88.1l4.6 4.6m0 -4.6l-4.6 4.6M926.1 31.6l4.6 4.6m0 -4.6l-4.6 4.6M935.4 29.0l4.6 4.6m0 -4.6l-4.6 4.6M839.7 151.1l4.6 4.6m0 -4.6l-4.6 4.6" fill="none" stroke="#000" stroke-width="1.0"/>
<path d="M978.6 47.6l4.6 4.6m0 -4.6l-4.6 4.6M1048.6 150.1l4.6 4.6m0 -4.6l-4.6 4.6M1032.6 114.7l4.6 4.6m0 -4.6l-4.6 4.6M991.2 56.8l4.6 4.6m0 -4.6l-4.6 4.6M996.2 63.7l4.6 4.6m0 -4.6l-4.6 4.6M1040.5 133.5l4.6 4.6m0 -4.6l-4.6 4.6M1116.8 276.9l4.6 4.6m0 -4.6l-4.6 4.6M1030.8 119.3l4.6 4.6m0 -4.6l-4.6 4.6M1098.9 242.4l4.6 4.6m0 -4.6l-4.6 4.6M1058.4 167.0l4.6 4.6m0 -4.6l-4.6 4.6M1058.9 173.4l4.6 4.6m0 -4.6l-4.6 4.6M1005.2 75.0l4.6 4.6m0 -4.6l-4.6 4.6M970.3 36.3l4.6 4.6m0 -4.6l-4.6 4.6M979.3 45.3l4.6 4.6m0 -4.6l-4.6 4.6M1055.7 161.0l4.6 4.6m0 -4.6l-4.6 4.6M1119.7 284.7l4.6 4.6m0 -4.6l-4.6 4.6M1089.6 218.6l4.6 4.6m0 -4.6l-4.6 4.6M1016.5 89.4l4.6 4.6m0 -4.6l-4.6 4.6M966.6 34.8l4.6 4.6m0 -4.6l-4.6 4.6M988.8 54.4l4.6 4.6m0 -4.6l-4.6 4.6M1003.6 71.8l4.6 4.6m0 -4.6l-4.6 4.6M1150.9 331.3l4.6 4.6m0 -4.6l-4.6 4.6M1089.9 224.0l4.6 4.6m0 -4.6l-4.6 4.6M1001.3 72.5l4.6 4.6m0 -4.6l-4.6 4.6M1018.0 97.2l4.6 4.6m0 -4.6l-4.6 4.6M1008.4 80.3l4.6 4.6m0 -4.6l-4.6 4.6M999.5 68.6l4.6 4.6m0 -4.6l-4.6 4.6M1025.8 109.5l4.6 4.6m0 -4.6l-4.6 4.6M1065.1 183.4l4.6 4.6m0 -4.6l-4.6 4.6M996.6 69.2l4.6 4.6m0 -4.6l-4.6 4.6M1054.0 160.6l4.6 4.6m0 -4.6l-4.6 4.6M1026.0 109.2l4.6 4.6m0 -4.6l-4.6 4.6M1092.1 230.7l4.6 4.6m0 -4.6l-4.6 4.6M980.7 44.9l4.6 4.6m0 -4.6l-4.6 4.6M997.2 63.7l4.6 4.6m0 -4.6l-4.6 4.6M1098.0 241.7l4.6 4.6m0 -4.6l-4.6 4.6M1022.3 98.9l4.6 4.6m0 -4.6l-4.6 4.6M1053.0 159.8l4.6 4.6m0 -4.6l-4.6 4.6M1001.6 71.3l4.6 4.6m0 -4.6l-4.6 4.6M969.3 36.4l4.6 4.6m0 -4.6l-4.6 4.6M991.4 55.1l4.6 4.6m0 -4.6l-4.6 4.6M1013.0 83.1l4.6 4.6m0 -4.6l-4.6 4.6M1087.3 219.9l4.6 4.6m0 -4.6l-4.6 4.6M1080.6 206.4l4.6 4.6m0 -4.6l-4.6 4.6M1014.1 86.7l4.6 4.6m0 -4.6l-4.6 4.6M1117.9 283.2l4.6 4.6m0 -4.6l-4.6 4.6M1040.5 132.1l4.6 4.6m0 -4.6l-4.6 4.6M1106.8 258.8l4.6 4.6m0 -4.6l-4.6 4.6M1124.4 293.9l4.6 4.6m0 -4.6l-4.6 4.6M994.0 61.7l4.6 4.6m0 -4.6l-4.6 4.6M1024.6 106.0l4.6 4.6m0 -4.6l-4.6 4.6M975.7 42.3l4.6 4.6m0 -4.6l-4.6 4.6M993.7 62.0l4.6 4.6m0 -4.6l-4.6 4.6M1003.9 75.4l4.6 4.6m0 -4.6l-4.6 4.6M977.4 43.1l4.6 4.6m0 -4.6l-4.6 4.6M1044.5 144.1l4.6 4.6m0 -4.6l-4.6 4.6M1030.4 119.4l4.6 4.6m0 -4.6l-4.6 4.6M1107.7 268.3l4.6 4.6m0 -4.6l-4.6 4.6M1102.7 250.8l4.6 4.6m0 -4.6l-4.6 4.6M1000.0 71.7l4.6 4.6m0 -4.6l-4.6 4.6M1045.4 143.7l4.6 4.6m0 -4.6l-4.6 4.6M995.8 62.2l4.6 4.6m0 -4.6l-4.6 4.6M1045.1 143.1l4.6 4.6m0 -4.6l-4.6 4.6M1098.0 237.3l4.6 4.6m0 -4.6l-4.6 4.6M1037.3 125.5l4.6 4.6m0 -4.6l-4.6 4.6M1012.7 88.5l4.6 4.6m0 -4.6l-4.6 4.6M1105.1 255.0l4.6 4.6m0 -4.6l-4.6 4.6M988.7 53.5l4.6 4.6m0 -4.6l-4.6 4.6M1062.0 175.6l4.6 4.6m0 -4.6l-4.6 4.6M991.6 57.8l4.6 4.6m0 -4.6l-4.6 4.6M972.9 39.6l4.6 4.6m0 -4.6l-4.6 4.6M992.0 59.0l4.6 4.6m0 -4.6l-4.6 4.6M983.9 49.9l4.6 4.6m0 -4.6l-4.6 4.6M1100.9 249.4l4.6 4.6m0 -4.6l-4.6 4.6M1135.2 313.6l4.6 4.6m0 -4.6l-4.6 4.6M1051.5 152.7l4.6 4.6m0 -4.6l-4.6 4.6M973.7 41.2l4.6 4.6m0 -4.6l-4.6 4.6M1064.4 178.1l4.6 4.6m0 -4.6l-4.6 4.6M1052.0 152.2l4.6 4.6m0 -4.6l-4.6 4.6M1072.1 187.6l4.6 4.6m0 -4.6l-4.6 4.6M1034.0 114.7l4.6 4.6m0 -4.6l-4.6 4.6M1075.8 196.1l4.6 4.6m0 -4.6l-4.6 4.6M1091.5 222.8l4.6 4.6m0 -4.6l-4.6 4.6M1068.9 186.9l4.6 4.6m0 -4.6l-4.6 4.6M1081.1 205.5l4.6 4.6m0 -4.6l-4.6 4.6M1050.8 149.9l4.6 4.6m0 -4.6l-4.6 4.6M1073.8 196.0l4.6 4.6m0 -4.6l-4.6 4.6M998.6 67.6l4.6 4.6m0 -4.6l-4.6 4.6M1068.6 182.1l4.6 4.6m0 -4.6l-4.6 4.6M1054.0 158.5l4.6 4.6m0 -4.6l-4.6 4.6M1007.0 74.8l4.6 4.6m0 -4.6l-4.6 4.6M1022.4 100.8l4.6 4.6m0 -4.6l-4.6 4.6M1070.0 192.1l4.6 4.6m0 -4.6l-4.6 4.6M1054.3 160.4l4.6 4.6m0 -4.6l-4.6 4.6M972.1 35.6l4.6 4.6m0 -4.6l-4.6 4.6M1045.9 140.4l4.6 4.6m0 -4.6l-4.6 4.6M1137.5 317.6l4.6 4.6m0 -4.6l-4.6 4.6M1080.7 205.1l4.6 4.6m0 -4.6l-4.6 4.6M1076.8 199.1l4.6 4.6m0 -4.6l-4.6 4.6M1043.8 139.0l4.6 4.6m0 -4.6l-4.6 4.6M993.5 59.4l4.6 4.6m0 -4.6l-4.6 4.6M1041.4 139.0l4.6 4.6m0 -4.6l-4.6 4.6M1078.3 200.3l4.6 4.6m0 -4.6l-4.6 4.6M1040.4 133.6l4.6 4.6m0 -4.6l-4.6 4.6M1092.0 229.8l4.6 4.6m0 -4.6l-4.6 4.6M1004.2 70.6l4.6 4.6m0 -4.6l-4.6 4.6M1044.2 144.5l4.6 4.6m0 -4.6l-4.6 4.6M1133.5 313.7l4.6 4.6m0 -4.6l-4.6 4.6M1046.0 148.1l4.6 4.6m0 -4.6l-4.6 4.6M1010.6 80.1l4.6 4.6m0 -4.6l-4.6 4.6M1154.7 332.0l4.6 4.6m0 -4.6l-4.6 4.6M1011.6 84.3l4.6 4.6m0 -4.6l-4.6 4.6M1097.5 239.5l4.6 4.6m0 -4.6l-4.6 4.6M969.1 33.9l4.6 4.6m0 -4.6l-4.6 4.6M1115.7 274.9l4.6 4.6m0 -4.6l-4.6 4.6M1066.4 178.8l4.6 4.6m0 -4.6l-4.6 4.6M1038.5 128.1l4.6 4.6m0 -4.6l-4.6 4.6M1113.9 262.5l4.6 4.6m0 -4.6l-4.6 4.6M1043.3 137.3l4.6 4.6m0 -4.6l-4.6 4.6M1059.9 165.5l4.6 4.6m0 -4.6l-4.6 4.6M1032.6 119.3l4.6 4.6m0 -4.6l-4.6 4.6M1040.4 136.1l4.6 4.6m0 -4.6l-4.6 4.6M1125.7 290.5l4.6 4.6m0 -4.6l-4.6 4.6M1034.3 122.8l4.6 4.6m0 -4.6l-4.6 4.6M1113.5 270.1l4.6 4.6m0 -4.6l-4.6 4.6M1012.2 84.5l4.6 4.6m0 -4.6l-4.6 4.6M1148.9 327.9l4.6 4.6m0 -4.6l-4.6 4.6M1152.9 330.0l4.6 4.6m0 -4.6l-4.6 4.6M1158.7 335.7l4.6 4.6m0 -4.6l-4.6 4.6M1003.8 71.0l4.6 4.6m0 -4.6l-4.6 4.6" fill="none" stroke="#000" stroke-width="1.1"/>
<path d="M334.6 33.2a2.3 2.3 0 1 0 4.6 0a2.3 2.3 0 1 0 -4.6 0" fill="none" stroke="#999" stroke-width="1.0"/>
<path d="M956.4 22.1a2.4 2.4 0 1 0 4.8 0a2.4 2.4 0 1 0 -4.8 0" fill="none" stroke="#000" stroke-width="1.0"/>
<text x="-0.3" y="24.0" text-anchor="start" style="font-size:29px">(<tspan class="it">a</tspan>)</text>
<text x="609.5" y="24.0" text-anchor="start" style="font-size:29px">(<tspan class="it">b</tspan>)</text>
<text transform="translate(34.8,205.5) rotate(-90)" style="font-size:29px"><tspan class="it">Sh</tspan><tspan class="it" style="font-size:21px" dy="5">loc</tspan></text>
<text x="278.80" y="412.4" style="font-size:29px;font-style:italic">θ</text>
<text x="305.80" y="412.4" style="font-size:30px">(deg.)</text>
<text x="902.40" y="412.4" style="font-size:29px;font-style:italic">θ</text>
<text x="929.40" y="412.4" style="font-size:30px">(deg.)</text>
<text x="285.90" y="458.8" style="font-size:25px;font-style:italic">Sc</text>
<path d="M315.2 450.5H332.1M315.2 455.7H332.1" stroke="#000" stroke-width="1.25"/>
<text x="338.60" y="458.8" style="font-size:25px">10</text>
<text x="363.00" y="449.6" style="font-size:17.5px">4</text>
<text x="908.60" y="458.8" style="font-size:25px;font-style:italic">Sc</text>
<path d="M937.9000000000001 450.5H954.8000000000001M937.9000000000001 455.7H954.8000000000001" stroke="#000" stroke-width="1.25"/>
<text x="961.30" y="458.8" style="font-size:25px">10</text>
<text x="984.70" y="449.6" style="font-size:17.5px">7</text>
<text x="246.10" y="180.4" style="font-size:25px">Ref</text>
<text x="292.50" y="180.4" style="font-size:25px;font-style:italic">Sc</text>
<path d="M321.9 172.1H338.9M321.9 177.3H338.9" stroke="#000" stroke-width="1.25"/>
<text x="345.00" y="180.4" style="font-size:25px">10</text>
<text x="369.90" y="171.70000000000002" style="font-size:17.5px">4</text>
<text x="254.80" y="207.1" style="font-size:25px">SGS</text>
<text x="309.70" y="207.1" style="font-size:25px">25</text>
<text x="343.00" y="207.1" style="font-size:25px">µ</text>
<text x="358.80" y="207.1" style="font-size:25px">m</text>
<text x="254.80" y="235.0" style="font-size:25px">SGS</text>
<text x="309.00" y="235.0" style="font-size:25px">12</text>
<text x="342.10" y="235.0" style="font-size:25px">µ</text>
<text x="357.80" y="235.0" style="font-size:25px">m</text>
<text x="234.70" y="261.6" style="font-size:25px">Linear</text>
<text x="309.70" y="261.6" style="font-size:25px">25</text>
<text x="343.00" y="261.6" style="font-size:25px">µ</text>
<text x="358.80" y="261.6" style="font-size:25px">m</text>
<text x="234.70" y="287.3" style="font-size:25px">Linear</text>
<text x="309.00" y="287.3" style="font-size:25px">12</text>
<text x="342.10" y="287.3" style="font-size:25px">µ</text>
<text x="357.80" y="287.3" style="font-size:25px">m</text>
<path d="M388.0 172.5H417.7" stroke="#000" stroke-width="1"/>
<path d="M400.4 198.7a2.45 2.45 0 1 0 4.9 0a2.45 2.45 0 1 0 -4.9 0" fill="none" stroke="#000" stroke-width="1.1"/>
<path d="M400.6 224.3l4.6 4.6m0 -4.6l-4.6 4.6" fill="none" stroke="#000" stroke-width="1.1"/>
<path d="M400.4 253.2a2.45 2.45 0 1 0 4.9 0a2.45 2.45 0 1 0 -4.9 0" fill="none" stroke="#999" stroke-width="1.0"/>
<path d="M400.3 276.3h5.2v5.2h-5.2z" fill="none" stroke="#999" stroke-width="1.0"/>
<text x="865.60" y="164.5" style="font-size:25px">Ref</text>
<text x="912.00" y="164.5" style="font-size:25px;font-style:italic">Sc</text>
<path d="M941.4 156.2H958.4M941.4 161.4H958.4" stroke="#000" stroke-width="1.25"/>
<text x="964.50" y="164.5" style="font-size:25px">10</text>
<text x="988.70" y="155.8" style="font-size:17.5px">7</text>
<text x="874.30" y="188.7" style="font-size:25px">SGS</text>
<text x="929.20" y="188.7" style="font-size:25px">25</text>
<text x="962.50" y="188.7" style="font-size:25px">µ</text>
<text x="978.30" y="188.7" style="font-size:25px">m</text>
<text x="874.30" y="216.5" style="font-size:25px">SGS</text>
<text x="928.50" y="216.5" style="font-size:25px">12</text>
<text x="961.60" y="216.5" style="font-size:25px">µ</text>
<text x="977.30" y="216.5" style="font-size:25px">m</text>
<text x="854.20" y="243.2" style="font-size:25px">Linear</text>
<text x="929.20" y="243.2" style="font-size:25px">25</text>
<text x="962.50" y="243.2" style="font-size:25px">µ</text>
<text x="978.30" y="243.2" style="font-size:25px">m</text>
<text x="854.20" y="269.0" style="font-size:25px">Linear</text>
<text x="928.50" y="269.0" style="font-size:25px">12</text>
<text x="961.60" y="269.0" style="font-size:25px">µ</text>
<text x="977.30" y="269.0" style="font-size:25px">m</text>
<path d="M1008.0 155.3H1037.7" stroke="#000" stroke-width="1"/>
<path d="M1020.4 180.3a2.45 2.45 0 1 0 4.9 0a2.45 2.45 0 1 0 -4.9 0" fill="none" stroke="#000" stroke-width="1.1"/>
<path d="M1020.6 205.8l4.6 4.6m0 -4.6l-4.6 4.6" fill="none" stroke="#000" stroke-width="1.1"/>
<path d="M1020.4 234.8a2.45 2.45 0 1 0 4.9 0a2.45 2.45 0 1 0 -4.9 0" fill="none" stroke="#999" stroke-width="1.0"/>
<path d="M1020.3 258.0h5.2v5.2h-5.2z" fill="none" stroke="#999" stroke-width="1.0"/>
</svg>
</body></html>
